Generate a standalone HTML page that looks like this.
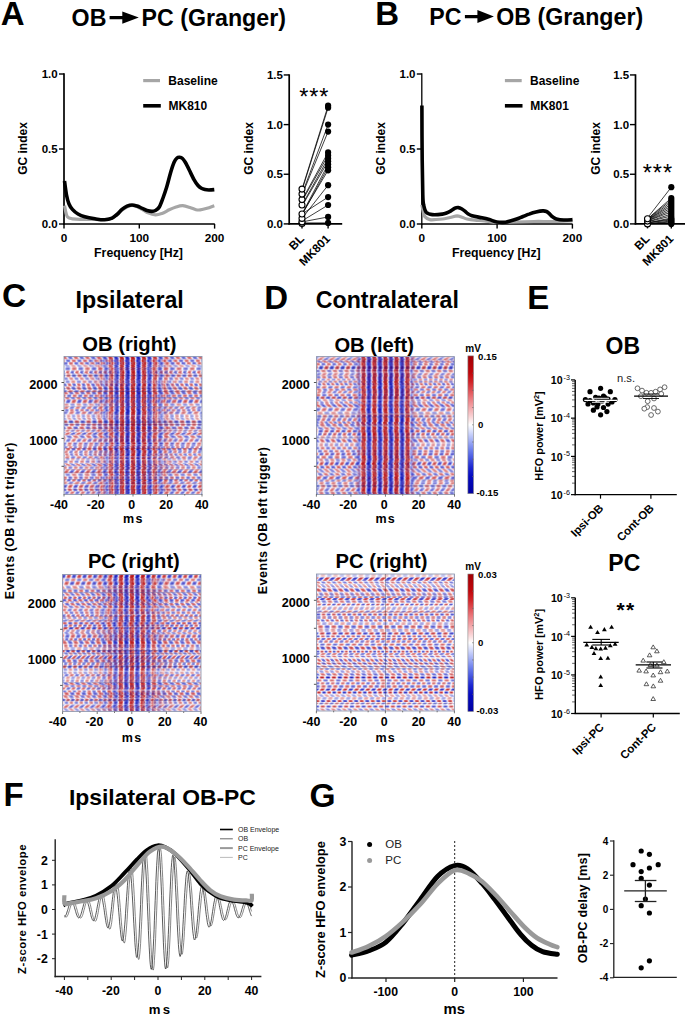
<!DOCTYPE html><html><head><meta charset="utf-8"><title>Figure</title><style>html,body{margin:0;padding:0;background:#fff;overflow:hidden}svg{display:block}</style></head><body><svg width="685" height="1016" viewBox="0 0 685 1016" font-family='"Liberation Sans", sans-serif' font-weight="bold">
<defs><filter id="blur" x="0" y="0" width="1" height="1"><feGaussianBlur stdDeviation="0.45"/></filter></defs>
<rect width="685" height="1016" fill="#fff"/>
<text x="0.8" y="25.2" font-size="33">A</text>
<text x="375.3" y="24.6" font-size="33">B</text>
<text x="2" y="307" font-size="33.5">C</text>
<text x="264.2" y="308.5" font-size="33">D</text>
<text x="527.2" y="309" font-size="33">E</text>
<text x="3.5" y="806" font-size="33">F</text>
<text x="309.5" y="807" font-size="33.5">G</text>
<text x="71.6" y="25.7" font-size="23.2">OB</text>
<path d="M109.6 15.90h12.70v-4.50l16.5 6.20l-16.5 6.20v-4.50h-12.70z" fill="#000"/>
<text x="141.6" y="25.7" font-size="23.2">PC (Granger)</text>
<text x="429.3" y="25.1" font-size="23.2">PC</text>
<path d="M464.9 14.90h12.50v-4.80l16.5 6.50l-16.5 6.50v-4.80h-12.50z" fill="#000"/>
<text x="496.3" y="25.1" font-size="23.2">OB (Granger)</text>
<line x1="64" y1="73.3" x2="64" y2="224.8" stroke="#000" stroke-width="1.7"/>
<line x1="59" y1="74" x2="64" y2="74" stroke="#000" stroke-width="1.4"/>
<text x="57.7" y="78" font-size="11.5" text-anchor="end">1.0</text>
<line x1="59" y1="149" x2="64" y2="149" stroke="#000" stroke-width="1.4"/>
<text x="57.7" y="153" font-size="11.5" text-anchor="end">0.5</text>
<line x1="59" y1="224" x2="64" y2="224" stroke="#000" stroke-width="1.4"/>
<text x="57.7" y="228" font-size="11.5" text-anchor="end">0.0</text>
<line x1="63.2" y1="224" x2="214.8" y2="224" stroke="#000" stroke-width="1.7"/>
<line x1="64.0" y1="224" x2="64.0" y2="228.6" stroke="#000" stroke-width="1.4"/>
<text x="64.0" y="241.7" font-size="11.8" text-anchor="middle">0</text>
<line x1="139.3" y1="224" x2="139.3" y2="228.6" stroke="#000" stroke-width="1.4"/>
<text x="139.3" y="241.7" font-size="11.8" text-anchor="middle">100</text>
<line x1="214.6" y1="224" x2="214.6" y2="228.6" stroke="#000" stroke-width="1.4"/>
<text x="214.6" y="241.7" font-size="11.8" text-anchor="middle">200</text>
<text x="138.5" y="256.7" font-size="12.3" text-anchor="middle">Frequency [Hz]</text>
<text x="26.799999999999997" y="148.5" font-size="12" text-anchor="middle" transform="rotate(-90 26.799999999999997 148.5)">GC index</text>
<line x1="143.2" y1="80.6" x2="160" y2="80.6" stroke="#a6a6a6" stroke-width="3.2"/>
<text x="168.3" y="84.6" font-size="12">Baseline</text>
<line x1="143.2" y1="105.8" x2="160.8" y2="105.8" stroke="#000" stroke-width="3.6"/>
<text x="168.5" y="109.6" font-size="12">MK810</text>
<path d="M64.5 205.7C64.8 206.9 65.5 211.2 66.0 213.0C66.5 214.8 66.7 215.9 67.4 216.8C68.1 217.7 69.2 218.0 70.0 218.3C70.8 218.6 70.7 218.6 72.4 218.8C74.1 219.0 76.2 219.2 80.0 219.3C83.8 219.4 90.8 219.5 95.0 219.5C99.2 219.5 102.2 219.7 105.0 219.5C107.8 219.3 109.2 219.8 112.0 218.2C114.8 216.6 118.7 212.1 122.0 210.0C125.3 207.9 128.7 205.6 132.0 205.5C135.3 205.4 139.2 208.0 141.9 209.2C144.6 210.4 145.7 211.9 148.0 212.8C150.3 213.8 153.2 214.8 155.5 214.9C157.8 215.0 159.7 214.3 162.0 213.5C164.3 212.7 166.9 210.9 169.2 209.8C171.5 208.7 173.7 207.7 176.0 207.0C178.3 206.3 180.5 205.6 182.8 205.7C185.1 205.8 187.8 206.8 190.0 207.5C192.2 208.2 194.3 209.3 196.0 209.7C197.7 210.1 198.4 210.1 200.2 209.9C202.0 209.7 204.7 209.0 207.0 208.3C209.3 207.6 213.1 206.1 214.3 205.7" fill="none" stroke="#a6a6a6" stroke-width="3.2" stroke-linejoin="round"/>
<path d="M64.5 181.0C64.8 183.3 65.8 191.2 66.5 195.0C67.2 198.8 68.0 201.6 69.0 204.0C70.0 206.4 70.9 207.7 72.4 209.4C73.9 211.1 75.9 212.8 78.0 214.0C80.1 215.2 82.0 216.0 84.8 216.8C87.6 217.6 91.7 218.3 95.0 218.8C98.3 219.3 101.9 219.9 104.7 219.8C107.5 219.7 110.0 219.0 112.1 218.1C114.1 217.2 115.3 215.9 117.0 214.5C118.7 213.1 120.3 210.8 122.0 209.4C123.7 208.0 125.3 206.9 127.0 206.2C128.7 205.5 130.3 205.0 132.0 205.0C133.7 205.0 135.3 205.5 137.0 206.0C138.7 206.5 140.2 207.4 141.9 208.2C143.6 208.9 145.3 210.0 147.0 210.5C148.7 211.0 150.4 211.4 151.8 211.4C153.2 211.4 154.2 211.2 155.5 210.5C156.8 209.8 158.1 209.1 159.3 207.0C160.6 204.9 161.8 201.3 163.0 198.0C164.2 194.7 165.4 191.2 166.7 187.0C167.9 182.8 169.3 177.1 170.5 173.0C171.7 168.9 173.0 164.8 174.1 162.3C175.2 159.8 176.1 158.8 177.0 158.0C177.9 157.2 178.7 157.2 179.6 157.3C180.5 157.4 181.6 157.7 182.5 158.5C183.4 159.3 184.1 160.3 185.3 162.3C186.5 164.3 188.1 167.6 189.5 170.5C190.9 173.4 192.6 177.1 194.0 179.6C195.4 182.1 196.8 184.1 198.0 185.5C199.2 186.9 200.2 187.6 201.4 188.3C202.6 189.0 203.8 189.3 205.0 189.6C206.2 189.9 207.3 190.0 208.9 190.0C210.5 190.0 213.4 189.7 214.3 189.6" fill="none" stroke="#000" stroke-width="3.6" stroke-linejoin="round"/>
<line x1="421.8" y1="73.3" x2="421.8" y2="224.8" stroke="#000" stroke-width="1.3"/>
<line x1="416.8" y1="74" x2="421.8" y2="74" stroke="#000" stroke-width="1.4"/>
<text x="415.5" y="78" font-size="11.5" text-anchor="end">1.0</text>
<line x1="416.8" y1="149" x2="421.8" y2="149" stroke="#000" stroke-width="1.4"/>
<text x="415.5" y="153" font-size="11.5" text-anchor="end">0.5</text>
<line x1="416.8" y1="224" x2="421.8" y2="224" stroke="#000" stroke-width="1.4"/>
<text x="415.5" y="228" font-size="11.5" text-anchor="end">0.0</text>
<line x1="421.0" y1="224" x2="572.6" y2="224" stroke="#000" stroke-width="1.7"/>
<line x1="421.8" y1="224" x2="421.8" y2="228.6" stroke="#000" stroke-width="1.4"/>
<text x="421.8" y="241.7" font-size="11.8" text-anchor="middle">0</text>
<line x1="497.1" y1="224" x2="497.1" y2="228.6" stroke="#000" stroke-width="1.4"/>
<text x="497.1" y="241.7" font-size="11.8" text-anchor="middle">100</text>
<line x1="572.4" y1="224" x2="572.4" y2="228.6" stroke="#000" stroke-width="1.4"/>
<text x="572.4" y="241.7" font-size="11.8" text-anchor="middle">200</text>
<text x="496.3" y="256.7" font-size="12.3" text-anchor="middle">Frequency [Hz]</text>
<text x="384.6" y="148.5" font-size="12" text-anchor="middle" transform="rotate(-90 384.6 148.5)">GC index</text>
<line x1="504.9" y1="80.6" x2="521.6999999999999" y2="80.6" stroke="#a6a6a6" stroke-width="3.2"/>
<text x="530.0" y="84.6" font-size="12">Baseline</text>
<line x1="504.9" y1="105.8" x2="522.5" y2="105.8" stroke="#000" stroke-width="3.6"/>
<text x="530.1999999999999" y="109.6" font-size="12">MK801</text>
<path d="M421.9 204.7C422.1 205.9 422.8 210.0 423.3 212.0C423.8 214.0 423.8 215.3 424.9 216.6C426.0 217.9 428.0 219.1 429.9 219.6C431.8 220.1 433.9 219.6 436.0 219.5C438.1 219.4 440.0 219.3 442.3 219.0C444.6 218.7 447.5 218.0 450.0 217.5C452.5 217.0 455.1 215.9 457.1 215.8C459.1 215.8 460.4 216.7 462.0 217.2C463.6 217.7 464.8 218.5 467.0 219.0C469.2 219.5 472.1 219.9 475.0 220.2C477.9 220.5 480.8 220.4 484.4 220.8C488.0 221.2 491.8 222.3 496.8 222.5C501.8 222.7 508.0 222.2 514.2 222.0C520.4 221.8 527.4 221.6 534.0 221.5C540.6 221.4 547.6 221.6 554.0 221.5C560.4 221.4 569.4 220.9 572.5 220.8" fill="none" stroke="#a6a6a6" stroke-width="3.2" stroke-linejoin="round"/>
<path d="M421.9 105.5C421.9 114.6 422.0 145.1 422.2 160.0C422.4 174.9 422.6 187.6 422.8 195.0C423.0 202.4 423.1 201.8 423.6 204.7C424.2 207.5 424.7 210.4 426.1 212.1C427.6 213.8 429.6 214.3 432.3 214.6C435.0 214.9 439.9 214.4 442.3 214.1C444.7 213.8 445.1 213.5 446.5 213.0C447.9 212.5 449.5 211.7 450.9 210.9C452.3 210.1 453.8 208.8 455.0 208.2C456.2 207.6 457.3 207.5 458.4 207.6C459.5 207.7 460.5 208.2 461.5 208.8C462.5 209.4 463.5 210.1 464.6 210.9C465.7 211.7 466.8 213.0 468.0 213.8C469.2 214.6 469.7 215.1 472.0 215.8C474.3 216.5 479.1 217.2 482.0 217.8C484.9 218.4 486.9 218.9 489.4 219.6C491.9 220.3 494.1 221.6 496.8 222.0C499.5 222.4 503.1 222.4 505.5 222.2C507.9 222.0 509.1 221.3 511.0 220.8C512.9 220.3 514.7 219.7 516.7 219.0C518.7 218.3 520.9 217.3 523.0 216.5C525.1 215.7 526.9 214.8 529.1 214.1C531.3 213.3 533.7 212.5 536.0 212.0C538.3 211.5 541.0 211.0 542.8 210.9C544.5 210.8 545.5 211.1 546.5 211.5C547.5 211.9 548.0 212.4 549.0 213.3C550.0 214.2 551.3 215.9 552.5 216.8C553.7 217.8 554.5 218.5 556.4 219.0C558.3 219.5 561.1 219.9 563.8 220.0C566.5 220.1 571.0 219.7 572.5 219.6" fill="none" stroke="#000" stroke-width="3.6" stroke-linejoin="round"/>
<line x1="289.2" y1="74.3" x2="289.2" y2="224.5" stroke="#000" stroke-width="1.7"/>
<line x1="283.7" y1="74.95000000000002" x2="289.2" y2="74.95000000000002" stroke="#000" stroke-width="1.4"/>
<text x="282.9" y="78.95000000000002" font-size="11.5" text-anchor="end">1.5</text>
<line x1="283.7" y1="124.60000000000001" x2="289.2" y2="124.60000000000001" stroke="#000" stroke-width="1.4"/>
<text x="282.9" y="128.60000000000002" font-size="11.5" text-anchor="end">1.0</text>
<line x1="283.7" y1="174.25" x2="289.2" y2="174.25" stroke="#000" stroke-width="1.4"/>
<text x="282.9" y="178.25" font-size="11.5" text-anchor="end">0.5</text>
<line x1="283.7" y1="223.9" x2="289.2" y2="223.9" stroke="#000" stroke-width="1.4"/>
<text x="282.9" y="227.9" font-size="11.5" text-anchor="end">0.0</text>
<line x1="288.4" y1="223.9" x2="342.2" y2="223.9" stroke="#000" stroke-width="1.7"/>
<line x1="302" y1="223.9" x2="302" y2="228.4" stroke="#000" stroke-width="1.4"/>
<line x1="328.1" y1="223.9" x2="328.1" y2="228.4" stroke="#000" stroke-width="1.4"/>
<text x="252.6" y="148.5" font-size="12" text-anchor="middle" transform="rotate(-90 252.6 148.5)">GC index</text>
<text x="299.2" y="104.6" font-size="23.5" font-weight="normal" letter-spacing="0.9">***</text>
<line x1="302" y1="189.145" x2="328.1" y2="105.73300000000002" stroke="#000" stroke-width="0.75"/>
<line x1="302" y1="190.138" x2="328.1" y2="107.71900000000002" stroke="#000" stroke-width="0.75"/>
<line x1="302" y1="194.11" x2="328.1" y2="124.60000000000001" stroke="#000" stroke-width="0.75"/>
<line x1="302" y1="195.103" x2="328.1" y2="131.551" stroke="#000" stroke-width="0.75"/>
<line x1="302" y1="200.068" x2="328.1" y2="152.404" stroke="#000" stroke-width="0.75"/>
<line x1="302" y1="201.061" x2="328.1" y2="155.383" stroke="#000" stroke-width="0.75"/>
<line x1="302" y1="205.03300000000002" x2="328.1" y2="158.36200000000002" stroke="#000" stroke-width="0.75"/>
<line x1="302" y1="206.026" x2="328.1" y2="161.341" stroke="#000" stroke-width="0.75"/>
<line x1="302" y1="213.97" x2="328.1" y2="164.32" stroke="#000" stroke-width="0.75"/>
<line x1="302" y1="214.963" x2="328.1" y2="167.299" stroke="#000" stroke-width="0.75"/>
<line x1="302" y1="213.97" x2="328.1" y2="170.27800000000002" stroke="#000" stroke-width="0.75"/>
<line x1="302" y1="218.4385" x2="328.1" y2="185.173" stroke="#000" stroke-width="0.75"/>
<line x1="302" y1="213.97" x2="328.1" y2="197.089" stroke="#000" stroke-width="0.75"/>
<line x1="302" y1="220.921" x2="328.1" y2="205.03300000000002" stroke="#000" stroke-width="0.75"/>
<line x1="302" y1="221.91400000000002" x2="328.1" y2="216.949" stroke="#000" stroke-width="0.75"/>
<line x1="302" y1="222.907" x2="328.1" y2="222.907" stroke="#000" stroke-width="0.75"/>
<circle cx="328.1" cy="105.7" r="3.1" fill="#000"/>
<circle cx="328.1" cy="107.7" r="3.1" fill="#000"/>
<circle cx="328.1" cy="124.6" r="3.1" fill="#000"/>
<circle cx="328.1" cy="131.6" r="3.1" fill="#000"/>
<circle cx="328.1" cy="152.4" r="3.1" fill="#000"/>
<circle cx="328.1" cy="155.4" r="3.1" fill="#000"/>
<circle cx="328.1" cy="158.4" r="3.1" fill="#000"/>
<circle cx="328.1" cy="161.3" r="3.1" fill="#000"/>
<circle cx="328.1" cy="164.3" r="3.1" fill="#000"/>
<circle cx="328.1" cy="167.3" r="3.1" fill="#000"/>
<circle cx="328.1" cy="170.3" r="3.1" fill="#000"/>
<circle cx="328.1" cy="185.2" r="3.1" fill="#000"/>
<circle cx="328.1" cy="197.1" r="3.1" fill="#000"/>
<circle cx="328.1" cy="205.0" r="3.1" fill="#000"/>
<circle cx="328.1" cy="216.9" r="3.1" fill="#000"/>
<circle cx="328.1" cy="222.9" r="3.1" fill="#000"/>
<circle cx="302" cy="223.4" r="3.0" fill="#fff" stroke="#000" stroke-width="1.1"/>
<circle cx="302" cy="221.9" r="3.0" fill="#fff" stroke="#000" stroke-width="1.1"/>
<circle cx="302" cy="218.4" r="3.0" fill="#fff" stroke="#000" stroke-width="1.1"/>
<circle cx="302" cy="214.0" r="3.0" fill="#fff" stroke="#000" stroke-width="1.1"/>
<circle cx="302" cy="205.0" r="3.0" fill="#fff" stroke="#000" stroke-width="1.1"/>
<circle cx="302" cy="199.6" r="3.0" fill="#fff" stroke="#000" stroke-width="1.1"/>
<circle cx="302" cy="194.1" r="3.0" fill="#fff" stroke="#000" stroke-width="1.1"/>
<circle cx="302" cy="189.1" r="3.0" fill="#fff" stroke="#000" stroke-width="1.1"/>
<text x="304.8" y="239.5" font-size="11.8" text-anchor="end" transform="rotate(-45 304.8 239.5)">BL</text>
<text x="330.90000000000003" y="239.5" font-size="11.8" text-anchor="end" transform="rotate(-45 330.90000000000003 239.5)">MK801</text>
<line x1="635.5" y1="74.3" x2="635.5" y2="224.5" stroke="#000" stroke-width="1.7"/>
<line x1="630.0" y1="74.95000000000002" x2="635.5" y2="74.95000000000002" stroke="#000" stroke-width="1.4"/>
<text x="629.2" y="78.95000000000002" font-size="11.5" text-anchor="end">1.5</text>
<line x1="630.0" y1="124.60000000000001" x2="635.5" y2="124.60000000000001" stroke="#000" stroke-width="1.4"/>
<text x="629.2" y="128.60000000000002" font-size="11.5" text-anchor="end">1.0</text>
<line x1="630.0" y1="174.25" x2="635.5" y2="174.25" stroke="#000" stroke-width="1.4"/>
<text x="629.2" y="178.25" font-size="11.5" text-anchor="end">0.5</text>
<line x1="630.0" y1="223.9" x2="635.5" y2="223.9" stroke="#000" stroke-width="1.4"/>
<text x="629.2" y="227.9" font-size="11.5" text-anchor="end">0.0</text>
<line x1="634.7" y1="223.9" x2="688.5" y2="223.9" stroke="#000" stroke-width="1.7"/>
<line x1="647.5" y1="223.9" x2="647.5" y2="228.4" stroke="#000" stroke-width="1.4"/>
<line x1="671.3" y1="223.9" x2="671.3" y2="228.4" stroke="#000" stroke-width="1.4"/>
<text x="600.4" y="148.5" font-size="12" text-anchor="middle" transform="rotate(-90 600.4 148.5)">GC index</text>
<text x="642.8" y="180.8" font-size="23.5" font-weight="normal" letter-spacing="0.9">***</text>
<line x1="647.5" y1="217.942" x2="671.3" y2="187.159" stroke="#000" stroke-width="0.75"/>
<line x1="647.5" y1="218.935" x2="671.3" y2="198.082" stroke="#000" stroke-width="0.75"/>
<line x1="647.5" y1="218.935" x2="671.3" y2="200.068" stroke="#000" stroke-width="0.75"/>
<line x1="647.5" y1="219.4315" x2="671.3" y2="202.054" stroke="#000" stroke-width="0.75"/>
<line x1="647.5" y1="219.928" x2="671.3" y2="204.04000000000002" stroke="#000" stroke-width="0.75"/>
<line x1="647.5" y1="219.928" x2="671.3" y2="206.026" stroke="#000" stroke-width="0.75"/>
<line x1="647.5" y1="220.4245" x2="671.3" y2="208.012" stroke="#000" stroke-width="0.75"/>
<line x1="647.5" y1="220.921" x2="671.3" y2="209.998" stroke="#000" stroke-width="0.75"/>
<line x1="647.5" y1="220.921" x2="671.3" y2="211.984" stroke="#000" stroke-width="0.75"/>
<line x1="647.5" y1="221.91400000000002" x2="671.3" y2="213.97" stroke="#000" stroke-width="0.75"/>
<line x1="647.5" y1="221.91400000000002" x2="671.3" y2="215.95600000000002" stroke="#000" stroke-width="0.75"/>
<line x1="647.5" y1="222.907" x2="671.3" y2="217.942" stroke="#000" stroke-width="0.75"/>
<line x1="647.5" y1="222.907" x2="671.3" y2="218.935" stroke="#000" stroke-width="0.75"/>
<line x1="647.5" y1="222.907" x2="671.3" y2="219.928" stroke="#000" stroke-width="0.75"/>
<line x1="647.5" y1="223.9" x2="671.3" y2="220.921" stroke="#000" stroke-width="0.75"/>
<line x1="647.5" y1="223.9" x2="671.3" y2="221.91400000000002" stroke="#000" stroke-width="0.75"/>
<line x1="647.5" y1="223.9" x2="671.3" y2="222.907" stroke="#000" stroke-width="0.75"/>
<circle cx="671.3" cy="187.2" r="3.1" fill="#000"/>
<circle cx="671.3" cy="198.1" r="3.1" fill="#000"/>
<circle cx="671.3" cy="200.1" r="3.1" fill="#000"/>
<circle cx="671.3" cy="202.1" r="3.1" fill="#000"/>
<circle cx="671.3" cy="204.0" r="3.1" fill="#000"/>
<circle cx="671.3" cy="206.0" r="3.1" fill="#000"/>
<circle cx="671.3" cy="208.0" r="3.1" fill="#000"/>
<circle cx="671.3" cy="210.0" r="3.1" fill="#000"/>
<circle cx="671.3" cy="212.0" r="3.1" fill="#000"/>
<circle cx="671.3" cy="214.0" r="3.1" fill="#000"/>
<circle cx="671.3" cy="216.0" r="3.1" fill="#000"/>
<circle cx="671.3" cy="217.9" r="3.1" fill="#000"/>
<circle cx="671.3" cy="218.9" r="3.1" fill="#000"/>
<circle cx="671.3" cy="219.9" r="3.1" fill="#000"/>
<circle cx="671.3" cy="220.9" r="3.1" fill="#000"/>
<circle cx="671.3" cy="221.9" r="3.1" fill="#000"/>
<circle cx="671.3" cy="222.9" r="3.1" fill="#000"/>
<circle cx="671.3" cy="223.9" r="3.1" fill="#000"/>
<circle cx="647.5" cy="223.9" r="3.0" fill="#fff" stroke="#000" stroke-width="1.1"/>
<circle cx="647.5" cy="221.1" r="3.0" fill="#fff" stroke="#000" stroke-width="1.1"/>
<circle cx="647.5" cy="218.7" r="3.0" fill="#fff" stroke="#000" stroke-width="1.1"/>
<text x="650.3" y="239.5" font-size="11.8" text-anchor="end" transform="rotate(-45 650.3 239.5)">BL</text>
<text x="674.0999999999999" y="239.5" font-size="11.8" text-anchor="end" transform="rotate(-45 674.0999999999999 239.5)">MK801</text>
<text x="75.5" y="307.8" font-size="23.2">Ipsilateral</text>
<text x="315.8" y="308.3" font-size="23.2">Contralateral</text>
<text x="82.3" y="350.6" font-size="20.2">OB (right)</text>
<text x="87.9" y="568.2" font-size="20.2">PC (right)</text>
<text x="334.4" y="351.7" font-size="20.2">OB (left)</text>
<text x="335.5" y="568.4" font-size="20.2">PC (right)</text>
<defs><linearGradient id="n1"><stop offset="0.000" stop-color="#a70106"/><stop offset="0.031" stop-color="#aa0207"/><stop offset="0.062" stop-color="#b30408"/><stop offset="0.094" stop-color="#c2070b"/><stop offset="0.125" stop-color="#d32a2e"/><stop offset="0.156" stop-color="#e66469"/><stop offset="0.188" stop-color="#f29ea2"/><stop offset="0.219" stop-color="#fad5d7"/><stop offset="0.250" stop-color="#ffffff"/><stop offset="0.281" stop-color="#d2d9fb"/><stop offset="0.312" stop-color="#92a1f3"/><stop offset="0.344" stop-color="#5264e6"/><stop offset="0.375" stop-color="#212cd3"/><stop offset="0.406" stop-color="#040ac2"/><stop offset="0.438" stop-color="#0206b3"/><stop offset="0.469" stop-color="#0103aa"/><stop offset="0.500" stop-color="#0102a7"/><stop offset="0.531" stop-color="#0103aa"/><stop offset="0.562" stop-color="#0206b3"/><stop offset="0.594" stop-color="#040ac2"/><stop offset="0.625" stop-color="#212cd3"/><stop offset="0.656" stop-color="#5264e6"/><stop offset="0.688" stop-color="#92a1f3"/><stop offset="0.719" stop-color="#d2d9fb"/><stop offset="0.750" stop-color="#ffffff"/><stop offset="0.781" stop-color="#fad5d7"/><stop offset="0.812" stop-color="#f29ea2"/><stop offset="0.844" stop-color="#e66469"/><stop offset="0.875" stop-color="#d32a2e"/><stop offset="0.906" stop-color="#c2070b"/><stop offset="0.938" stop-color="#b30408"/><stop offset="0.969" stop-color="#aa0207"/><stop offset="1.000" stop-color="#a70106"/></linearGradient><pattern id="p1_0" width="11.0" height="1" patternUnits="userSpaceOnUse" patternTransform="matrix(1.030 0 0 1 79.44 0)"><rect width="11.0" height="1" fill="url(#n1)"/></pattern><pattern id="p1_1" width="11.0" height="1" patternUnits="userSpaceOnUse" patternTransform="matrix(1.030 0 0 1 79.93 0)"><rect width="11.0" height="1" fill="url(#n1)"/></pattern><pattern id="p1_2" width="11.0" height="1" patternUnits="userSpaceOnUse" patternTransform="matrix(1.030 0 0 1 69.42 0)"><rect width="11.0" height="1" fill="url(#n1)"/></pattern><pattern id="p1_3" width="11.0" height="1" patternUnits="userSpaceOnUse" patternTransform="matrix(1.026 0 0 1 77.29 0)"><rect width="11.0" height="1" fill="url(#n1)"/></pattern><pattern id="p1_4" width="11.0" height="1" patternUnits="userSpaceOnUse" patternTransform="matrix(1.026 0 0 1 77.51 0)"><rect width="11.0" height="1" fill="url(#n1)"/></pattern><pattern id="p1_5" width="11.0" height="1" patternUnits="userSpaceOnUse" patternTransform="matrix(1.026 0 0 1 77.73 0)"><rect width="11.0" height="1" fill="url(#n1)"/></pattern><pattern id="p1_6" width="11.0" height="1" patternUnits="userSpaceOnUse" patternTransform="matrix(0.974 0 0 1 71.24 0)"><rect width="11.0" height="1" fill="url(#n1)"/></pattern><pattern id="p1_7" width="11.0" height="1" patternUnits="userSpaceOnUse" patternTransform="matrix(0.974 0 0 1 71.26 0)"><rect width="11.0" height="1" fill="url(#n1)"/></pattern><pattern id="p1_8" width="11.0" height="1" patternUnits="userSpaceOnUse" patternTransform="matrix(1.091 0 0 1 79.58 0)"><rect width="11.0" height="1" fill="url(#n1)"/></pattern><pattern id="p1_9" width="11.0" height="1" patternUnits="userSpaceOnUse" patternTransform="matrix(1.091 0 0 1 69.35 0)"><rect width="11.0" height="1" fill="url(#n1)"/></pattern><pattern id="p1_10" width="11.0" height="1" patternUnits="userSpaceOnUse" patternTransform="matrix(1.091 0 0 1 70.13 0)"><rect width="11.0" height="1" fill="url(#n1)"/></pattern><pattern id="p1_11" width="11.0" height="1" patternUnits="userSpaceOnUse" patternTransform="matrix(1.191 0 0 1 75.86 0)"><rect width="11.0" height="1" fill="url(#n1)"/></pattern><pattern id="p1_12" width="11.0" height="1" patternUnits="userSpaceOnUse" patternTransform="matrix(1.191 0 0 1 75.78 0)"><rect width="11.0" height="1" fill="url(#n1)"/></pattern><pattern id="p1_13" width="11.0" height="1" patternUnits="userSpaceOnUse" patternTransform="matrix(1.191 0 0 1 75.71 0)"><rect width="11.0" height="1" fill="url(#n1)"/></pattern><pattern id="p1_14" width="11.0" height="1" patternUnits="userSpaceOnUse" patternTransform="matrix(0.852 0 0 1 69.69 0)"><rect width="11.0" height="1" fill="url(#n1)"/></pattern><pattern id="p1_15" width="11.0" height="1" patternUnits="userSpaceOnUse" patternTransform="matrix(0.852 0 0 1 69.38 0)"><rect width="11.0" height="1" fill="url(#n1)"/></pattern><pattern id="p1_16" width="11.0" height="1" patternUnits="userSpaceOnUse" patternTransform="matrix(0.852 0 0 1 69.07 0)"><rect width="11.0" height="1" fill="url(#n1)"/></pattern><pattern id="p1_17" width="11.0" height="1" patternUnits="userSpaceOnUse" patternTransform="matrix(0.852 0 0 1 79.76 0)"><rect width="11.0" height="1" fill="url(#n1)"/></pattern><pattern id="p1_18" width="11.0" height="1" patternUnits="userSpaceOnUse" patternTransform="matrix(1.003 0 0 1 70.63 0)"><rect width="11.0" height="1" fill="url(#n1)"/></pattern><pattern id="p1_19" width="11.0" height="1" patternUnits="userSpaceOnUse" patternTransform="matrix(1.003 0 0 1 70.68 0)"><rect width="11.0" height="1" fill="url(#n1)"/></pattern><pattern id="p1_20" width="11.0" height="1" patternUnits="userSpaceOnUse" patternTransform="matrix(1.003 0 0 1 70.74 0)"><rect width="11.0" height="1" fill="url(#n1)"/></pattern><pattern id="p1_21" width="11.0" height="1" patternUnits="userSpaceOnUse" patternTransform="matrix(0.955 0 0 1 69.90 0)"><rect width="11.0" height="1" fill="url(#n1)"/></pattern><pattern id="p1_22" width="11.0" height="1" patternUnits="userSpaceOnUse" patternTransform="matrix(0.955 0 0 1 70.34 0)"><rect width="11.0" height="1" fill="url(#n1)"/></pattern><pattern id="p1_23" width="11.0" height="1" patternUnits="userSpaceOnUse" patternTransform="matrix(0.955 0 0 1 70.78 0)"><rect width="11.0" height="1" fill="url(#n1)"/></pattern><pattern id="p1_24" width="11.0" height="1" patternUnits="userSpaceOnUse" patternTransform="matrix(1.025 0 0 1 76.92 0)"><rect width="11.0" height="1" fill="url(#n1)"/></pattern><pattern id="p1_25" width="11.0" height="1" patternUnits="userSpaceOnUse" patternTransform="matrix(1.025 0 0 1 76.95 0)"><rect width="11.0" height="1" fill="url(#n1)"/></pattern><pattern id="p1_26" width="11.0" height="1" patternUnits="userSpaceOnUse" patternTransform="matrix(1.025 0 0 1 76.98 0)"><rect width="11.0" height="1" fill="url(#n1)"/></pattern><pattern id="p1_27" width="11.0" height="1" patternUnits="userSpaceOnUse" patternTransform="matrix(0.852 0 0 1 70.66 0)"><rect width="11.0" height="1" fill="url(#n1)"/></pattern><pattern id="p1_28" width="11.0" height="1" patternUnits="userSpaceOnUse" patternTransform="matrix(0.852 0 0 1 71.11 0)"><rect width="11.0" height="1" fill="url(#n1)"/></pattern><pattern id="p1_29" width="11.0" height="1" patternUnits="userSpaceOnUse" patternTransform="matrix(0.852 0 0 1 71.57 0)"><rect width="11.0" height="1" fill="url(#n1)"/></pattern><pattern id="p1_30" width="11.0" height="1" patternUnits="userSpaceOnUse" patternTransform="matrix(0.969 0 0 1 78.10 0)"><rect width="11.0" height="1" fill="url(#n1)"/></pattern><pattern id="p1_31" width="11.0" height="1" patternUnits="userSpaceOnUse" patternTransform="matrix(0.969 0 0 1 78.63 0)"><rect width="11.0" height="1" fill="url(#n1)"/></pattern><pattern id="p1_32" width="11.0" height="1" patternUnits="userSpaceOnUse" patternTransform="matrix(0.969 0 0 1 79.17 0)"><rect width="11.0" height="1" fill="url(#n1)"/></pattern><pattern id="p1_33" width="11.0" height="1" patternUnits="userSpaceOnUse" patternTransform="matrix(0.969 0 0 1 79.71 0)"><rect width="11.0" height="1" fill="url(#n1)"/></pattern><pattern id="p1_34" width="11.0" height="1" patternUnits="userSpaceOnUse" patternTransform="matrix(1.080 0 0 1 78.08 0)"><rect width="11.0" height="1" fill="url(#n1)"/></pattern><pattern id="p1_35" width="11.0" height="1" patternUnits="userSpaceOnUse" patternTransform="matrix(1.080 0 0 1 77.36 0)"><rect width="11.0" height="1" fill="url(#n1)"/></pattern><pattern id="p1_36" width="11.0" height="1" patternUnits="userSpaceOnUse" patternTransform="matrix(1.023 0 0 1 69.06 0)"><rect width="11.0" height="1" fill="url(#n1)"/></pattern><pattern id="p1_37" width="11.0" height="1" patternUnits="userSpaceOnUse" patternTransform="matrix(1.023 0 0 1 69.59 0)"><rect width="11.0" height="1" fill="url(#n1)"/></pattern><pattern id="p1_38" width="11.0" height="1" patternUnits="userSpaceOnUse" patternTransform="matrix(1.003 0 0 1 76.98 0)"><rect width="11.0" height="1" fill="url(#n1)"/></pattern><pattern id="p1_39" width="11.0" height="1" patternUnits="userSpaceOnUse" patternTransform="matrix(1.003 0 0 1 76.90 0)"><rect width="11.0" height="1" fill="url(#n1)"/></pattern><pattern id="p1_40" width="11.0" height="1" patternUnits="userSpaceOnUse" patternTransform="matrix(1.003 0 0 1 76.81 0)"><rect width="11.0" height="1" fill="url(#n1)"/></pattern><pattern id="p1_41" width="11.0" height="1" patternUnits="userSpaceOnUse" patternTransform="matrix(1.034 0 0 1 71.16 0)"><rect width="11.0" height="1" fill="url(#n1)"/></pattern><pattern id="p1_42" width="11.0" height="1" patternUnits="userSpaceOnUse" patternTransform="matrix(1.034 0 0 1 71.89 0)"><rect width="11.0" height="1" fill="url(#n1)"/></pattern><pattern id="p1_43" width="11.0" height="1" patternUnits="userSpaceOnUse" patternTransform="matrix(1.013 0 0 1 77.39 0)"><rect width="11.0" height="1" fill="url(#n1)"/></pattern><pattern id="p1_44" width="11.0" height="1" patternUnits="userSpaceOnUse" patternTransform="matrix(1.013 0 0 1 76.98 0)"><rect width="11.0" height="1" fill="url(#n1)"/></pattern><pattern id="p1_45" width="11.0" height="1" patternUnits="userSpaceOnUse" patternTransform="matrix(1.013 0 0 1 76.57 0)"><rect width="11.0" height="1" fill="url(#n1)"/></pattern><pattern id="p1_46" width="11.0" height="1" patternUnits="userSpaceOnUse" patternTransform="matrix(1.013 0 0 1 76.15 0)"><rect width="11.0" height="1" fill="url(#n1)"/></pattern><pattern id="p1_47" width="11.0" height="1" patternUnits="userSpaceOnUse" patternTransform="matrix(1.137 0 0 1 76.99 0)"><rect width="11.0" height="1" fill="url(#n1)"/></pattern><pattern id="p1_48" width="11.0" height="1" patternUnits="userSpaceOnUse" patternTransform="matrix(1.137 0 0 1 77.39 0)"><rect width="11.0" height="1" fill="url(#n1)"/></pattern><pattern id="p1_49" width="11.0" height="1" patternUnits="userSpaceOnUse" patternTransform="matrix(1.137 0 0 1 77.79 0)"><rect width="11.0" height="1" fill="url(#n1)"/></pattern><pattern id="p1_50" width="11.0" height="1" patternUnits="userSpaceOnUse" patternTransform="matrix(1.053 0 0 1 72.46 0)"><rect width="11.0" height="1" fill="url(#n1)"/></pattern><pattern id="p1_51" width="11.0" height="1" patternUnits="userSpaceOnUse" patternTransform="matrix(1.053 0 0 1 71.71 0)"><rect width="11.0" height="1" fill="url(#n1)"/></pattern><pattern id="p1_52" width="11.0" height="1" patternUnits="userSpaceOnUse" patternTransform="matrix(1.053 0 0 1 70.95 0)"><rect width="11.0" height="1" fill="url(#n1)"/></pattern><pattern id="p1_53" width="11.0" height="1" patternUnits="userSpaceOnUse" patternTransform="matrix(0.924 0 0 1 79.09 0)"><rect width="11.0" height="1" fill="url(#n1)"/></pattern><pattern id="p1_54" width="11.0" height="1" patternUnits="userSpaceOnUse" patternTransform="matrix(0.924 0 0 1 78.99 0)"><rect width="11.0" height="1" fill="url(#n1)"/></pattern><pattern id="p1_55" width="11.0" height="1" patternUnits="userSpaceOnUse" patternTransform="matrix(1.131 0 0 1 70.46 0)"><rect width="11.0" height="1" fill="url(#n1)"/></pattern><pattern id="p1_56" width="11.0" height="1" patternUnits="userSpaceOnUse" patternTransform="matrix(1.131 0 0 1 69.80 0)"><rect width="11.0" height="1" fill="url(#n1)"/></pattern><pattern id="p1_57" width="11.0" height="1" patternUnits="userSpaceOnUse" patternTransform="matrix(1.131 0 0 1 69.15 0)"><rect width="11.0" height="1" fill="url(#n1)"/></pattern><pattern id="p1_58" width="11.0" height="1" patternUnits="userSpaceOnUse" patternTransform="matrix(0.896 0 0 1 73.42 0)"><rect width="11.0" height="1" fill="url(#n1)"/></pattern><pattern id="p1_59" width="11.0" height="1" patternUnits="userSpaceOnUse" patternTransform="matrix(0.896 0 0 1 73.59 0)"><rect width="11.0" height="1" fill="url(#n1)"/></pattern><pattern id="p1_60" width="11.0" height="1" patternUnits="userSpaceOnUse" patternTransform="matrix(0.896 0 0 1 73.76 0)"><rect width="11.0" height="1" fill="url(#n1)"/></pattern><pattern id="p1_61" width="11.0" height="1" patternUnits="userSpaceOnUse" patternTransform="matrix(0.894 0 0 1 73.29 0)"><rect width="11.0" height="1" fill="url(#n1)"/></pattern><pattern id="p1_62" width="11.0" height="1" patternUnits="userSpaceOnUse" patternTransform="matrix(0.894 0 0 1 74.27 0)"><rect width="11.0" height="1" fill="url(#n1)"/></pattern><pattern id="p1_63" width="11.0" height="1" patternUnits="userSpaceOnUse" patternTransform="matrix(0.894 0 0 1 75.24 0)"><rect width="11.0" height="1" fill="url(#n1)"/></pattern><pattern id="p1_64" width="11.0" height="1" patternUnits="userSpaceOnUse" patternTransform="matrix(1.063 0 0 1 71.21 0)"><rect width="11.0" height="1" fill="url(#n1)"/></pattern><pattern id="p1_65" width="11.0" height="1" patternUnits="userSpaceOnUse" patternTransform="matrix(1.063 0 0 1 71.35 0)"><rect width="11.0" height="1" fill="url(#n1)"/></pattern><pattern id="p1_66" width="11.0" height="1" patternUnits="userSpaceOnUse" patternTransform="matrix(1.063 0 0 1 71.49 0)"><rect width="11.0" height="1" fill="url(#n1)"/></pattern><pattern id="p1_67" width="11.0" height="1" patternUnits="userSpaceOnUse" patternTransform="matrix(1.010 0 0 1 74.54 0)"><rect width="11.0" height="1" fill="url(#n1)"/></pattern><pattern id="p1_68" width="11.0" height="1" patternUnits="userSpaceOnUse" patternTransform="matrix(1.010 0 0 1 74.50 0)"><rect width="11.0" height="1" fill="url(#n1)"/></pattern><pattern id="p1_69" width="11.0" height="1" patternUnits="userSpaceOnUse" patternTransform="matrix(1.010 0 0 1 74.45 0)"><rect width="11.0" height="1" fill="url(#n1)"/></pattern><pattern id="p1_70" width="11.0" height="1" patternUnits="userSpaceOnUse" patternTransform="matrix(1.119 0 0 1 78.96 0)"><rect width="11.0" height="1" fill="url(#n1)"/></pattern><pattern id="p1_71" width="11.0" height="1" patternUnits="userSpaceOnUse" patternTransform="matrix(1.119 0 0 1 79.34 0)"><rect width="11.0" height="1" fill="url(#n1)"/></pattern><pattern id="p1_72" width="11.0" height="1" patternUnits="userSpaceOnUse" patternTransform="matrix(1.119 0 0 1 79.72 0)"><rect width="11.0" height="1" fill="url(#n1)"/></pattern><pattern id="p1_73" width="11.0" height="1" patternUnits="userSpaceOnUse" patternTransform="matrix(0.930 0 0 1 75.93 0)"><rect width="11.0" height="1" fill="url(#n1)"/></pattern><pattern id="p1_74" width="11.0" height="1" patternUnits="userSpaceOnUse" patternTransform="matrix(0.930 0 0 1 75.25 0)"><rect width="11.0" height="1" fill="url(#n1)"/></pattern><pattern id="p1_75" width="11.0" height="1" patternUnits="userSpaceOnUse" patternTransform="matrix(0.930 0 0 1 74.57 0)"><rect width="11.0" height="1" fill="url(#n1)"/></pattern><pattern id="p1_76" width="11.0" height="1" patternUnits="userSpaceOnUse" patternTransform="matrix(1.004 0 0 1 71.45 0)"><rect width="11.0" height="1" fill="url(#n1)"/></pattern><pattern id="p1_77" width="11.0" height="1" patternUnits="userSpaceOnUse" patternTransform="matrix(1.004 0 0 1 69.82 0)"><rect width="11.0" height="1" fill="url(#n1)"/></pattern><pattern id="p1_78" width="11.0" height="1" patternUnits="userSpaceOnUse" patternTransform="matrix(1.004 0 0 1 79.19 0)"><rect width="11.0" height="1" fill="url(#n1)"/></pattern><pattern id="p1_79" width="11.0" height="1" patternUnits="userSpaceOnUse" patternTransform="matrix(1.182 0 0 1 75.62 0)"><rect width="11.0" height="1" fill="url(#n1)"/></pattern><pattern id="p1_80" width="11.0" height="1" patternUnits="userSpaceOnUse" patternTransform="matrix(1.182 0 0 1 76.72 0)"><rect width="11.0" height="1" fill="url(#n1)"/></pattern><pattern id="p1_81" width="11.0" height="1" patternUnits="userSpaceOnUse" patternTransform="matrix(1.182 0 0 1 77.81 0)"><rect width="11.0" height="1" fill="url(#n1)"/></pattern><pattern id="p1_82" width="11.0" height="1" patternUnits="userSpaceOnUse" patternTransform="matrix(0.973 0 0 1 74.82 0)"><rect width="11.0" height="1" fill="url(#n1)"/></pattern><pattern id="p1_83" width="11.0" height="1" patternUnits="userSpaceOnUse" patternTransform="matrix(0.973 0 0 1 74.24 0)"><rect width="11.0" height="1" fill="url(#n1)"/></pattern><pattern id="p1_84" width="11.0" height="1" patternUnits="userSpaceOnUse" patternTransform="matrix(0.973 0 0 1 73.66 0)"><rect width="11.0" height="1" fill="url(#n1)"/></pattern><pattern id="p1_85" width="11.0" height="1" patternUnits="userSpaceOnUse" patternTransform="matrix(0.973 0 0 1 73.08 0)"><rect width="11.0" height="1" fill="url(#n1)"/></pattern><pattern id="p1_86" width="11.0" height="1" patternUnits="userSpaceOnUse" patternTransform="matrix(0.981 0 0 1 70.70 0)"><rect width="11.0" height="1" fill="url(#n1)"/></pattern><pattern id="p1_87" width="11.0" height="1" patternUnits="userSpaceOnUse" patternTransform="matrix(0.981 0 0 1 70.44 0)"><rect width="11.0" height="1" fill="url(#n1)"/></pattern><pattern id="p1_88" width="11.0" height="1" patternUnits="userSpaceOnUse" patternTransform="matrix(0.981 0 0 1 70.17 0)"><rect width="11.0" height="1" fill="url(#n1)"/></pattern><pattern id="p1_89" width="11.0" height="1" patternUnits="userSpaceOnUse" patternTransform="matrix(0.981 0 0 1 69.91 0)"><rect width="11.0" height="1" fill="url(#n1)"/></pattern><pattern id="p1_90" width="11.0" height="1" patternUnits="userSpaceOnUse" patternTransform="matrix(0.886 0 0 1 74.91 0)"><rect width="11.0" height="1" fill="url(#n1)"/></pattern><pattern id="p1_91" width="11.0" height="1" patternUnits="userSpaceOnUse" patternTransform="matrix(0.886 0 0 1 74.59 0)"><rect width="11.0" height="1" fill="url(#n1)"/></pattern><pattern id="p1_92" width="11.0" height="1" patternUnits="userSpaceOnUse" patternTransform="matrix(0.964 0 0 1 78.30 0)"><rect width="11.0" height="1" fill="url(#n1)"/></pattern><pattern id="p1_93" width="11.0" height="1" patternUnits="userSpaceOnUse" patternTransform="matrix(0.964 0 0 1 78.54 0)"><rect width="11.0" height="1" fill="url(#n1)"/></pattern><pattern id="p1_94" width="11.0" height="1" patternUnits="userSpaceOnUse" patternTransform="matrix(0.899 0 0 1 71.86 0)"><rect width="11.0" height="1" fill="url(#n1)"/></pattern><pattern id="p1_95" width="11.0" height="1" patternUnits="userSpaceOnUse" patternTransform="matrix(0.899 0 0 1 71.44 0)"><rect width="11.0" height="1" fill="url(#n1)"/></pattern><pattern id="p1_96" width="11.0" height="1" patternUnits="userSpaceOnUse" patternTransform="matrix(0.899 0 0 1 71.02 0)"><rect width="11.0" height="1" fill="url(#n1)"/></pattern><pattern id="p1_97" width="11.0" height="1" patternUnits="userSpaceOnUse" patternTransform="matrix(0.861 0 0 1 69.37 0)"><rect width="11.0" height="1" fill="url(#n1)"/></pattern><pattern id="p1_98" width="11.0" height="1" patternUnits="userSpaceOnUse" patternTransform="matrix(0.861 0 0 1 69.01 0)"><rect width="11.0" height="1" fill="url(#n1)"/></pattern><pattern id="p1_99" width="11.0" height="1" patternUnits="userSpaceOnUse" patternTransform="matrix(0.861 0 0 1 79.65 0)"><rect width="11.0" height="1" fill="url(#n1)"/></pattern><pattern id="p1_100" width="11.0" height="1" patternUnits="userSpaceOnUse" patternTransform="matrix(1.061 0 0 1 73.56 0)"><rect width="11.0" height="1" fill="url(#n1)"/></pattern><pattern id="p1_101" width="11.0" height="1" patternUnits="userSpaceOnUse" patternTransform="matrix(1.061 0 0 1 73.11 0)"><rect width="11.0" height="1" fill="url(#n1)"/></pattern><pattern id="p1_102" width="11.0" height="1" patternUnits="userSpaceOnUse" patternTransform="matrix(0.922 0 0 1 69.68 0)"><rect width="11.0" height="1" fill="url(#n1)"/></pattern><pattern id="p1_103" width="11.0" height="1" patternUnits="userSpaceOnUse" patternTransform="matrix(0.922 0 0 1 69.54 0)"><rect width="11.0" height="1" fill="url(#n1)"/></pattern><pattern id="p1_104" width="11.0" height="1" patternUnits="userSpaceOnUse" patternTransform="matrix(0.995 0 0 1 72.73 0)"><rect width="11.0" height="1" fill="url(#n1)"/></pattern><pattern id="p1_105" width="11.0" height="1" patternUnits="userSpaceOnUse" patternTransform="matrix(0.995 0 0 1 72.75 0)"><rect width="11.0" height="1" fill="url(#n1)"/></pattern><pattern id="p1_106" width="11.0" height="1" patternUnits="userSpaceOnUse" patternTransform="matrix(0.995 0 0 1 72.76 0)"><rect width="11.0" height="1" fill="url(#n1)"/></pattern><pattern id="p1_107" width="11.0" height="1" patternUnits="userSpaceOnUse" patternTransform="matrix(0.937 0 0 1 74.13 0)"><rect width="11.0" height="1" fill="url(#n1)"/></pattern><pattern id="p1_108" width="11.0" height="1" patternUnits="userSpaceOnUse" patternTransform="matrix(0.937 0 0 1 75.99 0)"><rect width="11.0" height="1" fill="url(#n1)"/></pattern><pattern id="p1_109" width="11.0" height="1" patternUnits="userSpaceOnUse" patternTransform="matrix(0.937 0 0 1 77.85 0)"><rect width="11.0" height="1" fill="url(#n1)"/></pattern><pattern id="p1_110" width="11.0" height="1" patternUnits="userSpaceOnUse" patternTransform="matrix(0.975 0 0 1 76.37 0)"><rect width="11.0" height="1" fill="url(#n1)"/></pattern><pattern id="p1_111" width="11.0" height="1" patternUnits="userSpaceOnUse" patternTransform="matrix(0.975 0 0 1 76.10 0)"><rect width="11.0" height="1" fill="url(#n1)"/></pattern><pattern id="p1_112" width="11.0" height="1" patternUnits="userSpaceOnUse" patternTransform="matrix(0.975 0 0 1 75.83 0)"><rect width="11.0" height="1" fill="url(#n1)"/></pattern><pattern id="p1_113" width="11.0" height="1" patternUnits="userSpaceOnUse" patternTransform="matrix(0.980 0 0 1 79.42 0)"><rect width="11.0" height="1" fill="url(#n1)"/></pattern><pattern id="p1_114" width="11.0" height="1" patternUnits="userSpaceOnUse" patternTransform="matrix(0.980 0 0 1 78.58 0)"><rect width="11.0" height="1" fill="url(#n1)"/></pattern><pattern id="p1_115" width="11.0" height="1" patternUnits="userSpaceOnUse" patternTransform="matrix(0.980 0 0 1 77.75 0)"><rect width="11.0" height="1" fill="url(#n1)"/></pattern><pattern id="p1_116" width="11.0" height="1" patternUnits="userSpaceOnUse" patternTransform="matrix(0.980 0 0 1 76.91 0)"><rect width="11.0" height="1" fill="url(#n1)"/></pattern><pattern id="p1_117" width="11.0" height="1" patternUnits="userSpaceOnUse" patternTransform="matrix(1.161 0 0 1 73.67 0)"><rect width="11.0" height="1" fill="url(#n1)"/></pattern><pattern id="p1_118" width="11.0" height="1" patternUnits="userSpaceOnUse" patternTransform="matrix(1.161 0 0 1 74.07 0)"><rect width="11.0" height="1" fill="url(#n1)"/></pattern><pattern id="p1_119" width="11.0" height="1" patternUnits="userSpaceOnUse" patternTransform="matrix(1.161 0 0 1 74.47 0)"><rect width="11.0" height="1" fill="url(#n1)"/></pattern><pattern id="p1_120" width="11.0" height="1" patternUnits="userSpaceOnUse" patternTransform="matrix(0.974 0 0 1 75.82 0)"><rect width="11.0" height="1" fill="url(#n1)"/></pattern><pattern id="p1_121" width="11.0" height="1" patternUnits="userSpaceOnUse" patternTransform="matrix(0.974 0 0 1 75.91 0)"><rect width="11.0" height="1" fill="url(#n1)"/></pattern><pattern id="p1_122" width="11.0" height="1" patternUnits="userSpaceOnUse" patternTransform="matrix(0.974 0 0 1 75.99 0)"><rect width="11.0" height="1" fill="url(#n1)"/></pattern><pattern id="p1_123" width="11.0" height="1" patternUnits="userSpaceOnUse" patternTransform="matrix(0.927 0 0 1 71.33 0)"><rect width="11.0" height="1" fill="url(#n1)"/></pattern><pattern id="p1_124" width="11.0" height="1" patternUnits="userSpaceOnUse" patternTransform="matrix(0.927 0 0 1 70.95 0)"><rect width="11.0" height="1" fill="url(#n1)"/></pattern><pattern id="p1_125" width="11.0" height="1" patternUnits="userSpaceOnUse" patternTransform="matrix(1.125 0 0 1 76.04 0)"><rect width="11.0" height="1" fill="url(#n1)"/></pattern><pattern id="p1_126" width="11.0" height="1" patternUnits="userSpaceOnUse" patternTransform="matrix(1.125 0 0 1 75.04 0)"><rect width="11.0" height="1" fill="url(#n1)"/></pattern><pattern id="p1_127" width="11.0" height="1" patternUnits="userSpaceOnUse" patternTransform="matrix(1.125 0 0 1 74.04 0)"><rect width="11.0" height="1" fill="url(#n1)"/></pattern><pattern id="p1_128" width="11.0" height="1" patternUnits="userSpaceOnUse" patternTransform="matrix(0.983 0 0 1 72.11 0)"><rect width="11.0" height="1" fill="url(#n1)"/></pattern><pattern id="p1_129" width="11.0" height="1" patternUnits="userSpaceOnUse" patternTransform="matrix(0.983 0 0 1 71.56 0)"><rect width="11.0" height="1" fill="url(#n1)"/></pattern><pattern id="p1_130" width="11.0" height="1" patternUnits="userSpaceOnUse" patternTransform="matrix(0.983 0 0 1 71.01 0)"><rect width="11.0" height="1" fill="url(#n1)"/></pattern><pattern id="p1_131" width="11.0" height="1" patternUnits="userSpaceOnUse" patternTransform="matrix(0.983 0 0 1 70.46 0)"><rect width="11.0" height="1" fill="url(#n1)"/></pattern><pattern id="p1_132" width="11.0" height="1" patternUnits="userSpaceOnUse" patternTransform="matrix(0.997 0 0 1 71.16 0)"><rect width="11.0" height="1" fill="url(#n1)"/></pattern><pattern id="p1_133" width="11.0" height="1" patternUnits="userSpaceOnUse" patternTransform="matrix(0.997 0 0 1 71.55 0)"><rect width="11.0" height="1" fill="url(#n1)"/></pattern><pattern id="p1_134" width="11.0" height="1" patternUnits="userSpaceOnUse" patternTransform="matrix(0.997 0 0 1 71.93 0)"><rect width="11.0" height="1" fill="url(#n1)"/></pattern><pattern id="p1_135" width="11.0" height="1" patternUnits="userSpaceOnUse" patternTransform="matrix(0.955 0 0 1 72.06 0)"><rect width="11.0" height="1" fill="url(#n1)"/></pattern><pattern id="p1_136" width="11.0" height="1" patternUnits="userSpaceOnUse" patternTransform="matrix(0.955 0 0 1 71.27 0)"><rect width="11.0" height="1" fill="url(#n1)"/></pattern><pattern id="p1_137" width="11.0" height="1" patternUnits="userSpaceOnUse" patternTransform="matrix(0.955 0 0 1 70.48 0)"><rect width="11.0" height="1" fill="url(#n1)"/></pattern><linearGradient id="lg1"><stop offset="0.0" stop-color="#960000"/><stop offset="0.08" stop-color="#b40005"/><stop offset="0.16" stop-color="#c60c12"/><stop offset="0.19" stop-color="#e16469"/><stop offset="0.215" stop-color="#fae1e1"/><stop offset="0.255" stop-color="#ffffff"/><stop offset="0.29" stop-color="#e1e6fc"/><stop offset="0.315" stop-color="#828cee"/><stop offset="0.345" stop-color="#0f19cd"/><stop offset="0.42" stop-color="#0005be"/><stop offset="0.5" stop-color="#0000a0"/><stop offset="0.58" stop-color="#0005be"/><stop offset="0.655" stop-color="#0f19cd"/><stop offset="0.685" stop-color="#828cee"/><stop offset="0.71" stop-color="#e1e6fc"/><stop offset="0.745" stop-color="#ffffff"/><stop offset="0.785" stop-color="#fae1e1"/><stop offset="0.81" stop-color="#e16469"/><stop offset="0.84" stop-color="#c60c12"/><stop offset="0.92" stop-color="#b40005"/><stop offset="1.0" stop-color="#960000"/></linearGradient><pattern id="lp1" width="11.0" height="1" patternUnits="userSpaceOnUse" patternTransform="translate(69.00 0)"><rect width="11.0" height="1" fill="url(#lg1)"/></pattern><linearGradient id="lmg1"><stop offset="0.0000" stop-color="#fff" stop-opacity="0.000"/><stop offset="0.0125" stop-color="#fff" stop-opacity="0.000"/><stop offset="0.0250" stop-color="#fff" stop-opacity="0.001"/><stop offset="0.0375" stop-color="#fff" stop-opacity="0.001"/><stop offset="0.0500" stop-color="#fff" stop-opacity="0.001"/><stop offset="0.0625" stop-color="#fff" stop-opacity="0.002"/><stop offset="0.0750" stop-color="#fff" stop-opacity="0.004"/><stop offset="0.0875" stop-color="#fff" stop-opacity="0.005"/><stop offset="0.1000" stop-color="#fff" stop-opacity="0.008"/><stop offset="0.1125" stop-color="#fff" stop-opacity="0.012"/><stop offset="0.1250" stop-color="#fff" stop-opacity="0.017"/><stop offset="0.1375" stop-color="#fff" stop-opacity="0.024"/><stop offset="0.1500" stop-color="#fff" stop-opacity="0.033"/><stop offset="0.1625" stop-color="#fff" stop-opacity="0.044"/><stop offset="0.1750" stop-color="#fff" stop-opacity="0.059"/><stop offset="0.1875" stop-color="#fff" stop-opacity="0.077"/><stop offset="0.2000" stop-color="#fff" stop-opacity="0.100"/><stop offset="0.2125" stop-color="#fff" stop-opacity="0.127"/><stop offset="0.2250" stop-color="#fff" stop-opacity="0.158"/><stop offset="0.2375" stop-color="#fff" stop-opacity="0.195"/><stop offset="0.2500" stop-color="#fff" stop-opacity="0.236"/><stop offset="0.2625" stop-color="#fff" stop-opacity="0.281"/><stop offset="0.2750" stop-color="#fff" stop-opacity="0.331"/><stop offset="0.2875" stop-color="#fff" stop-opacity="0.384"/><stop offset="0.3000" stop-color="#fff" stop-opacity="0.439"/><stop offset="0.3125" stop-color="#fff" stop-opacity="0.496"/><stop offset="0.3250" stop-color="#fff" stop-opacity="0.554"/><stop offset="0.3375" stop-color="#fff" stop-opacity="0.611"/><stop offset="0.3500" stop-color="#fff" stop-opacity="0.667"/><stop offset="0.3625" stop-color="#fff" stop-opacity="0.719"/><stop offset="0.3750" stop-color="#fff" stop-opacity="0.768"/><stop offset="0.3875" stop-color="#fff" stop-opacity="0.812"/><stop offset="0.4000" stop-color="#fff" stop-opacity="0.851"/><stop offset="0.4125" stop-color="#fff" stop-opacity="0.884"/><stop offset="0.4250" stop-color="#fff" stop-opacity="0.912"/><stop offset="0.4375" stop-color="#fff" stop-opacity="0.933"/><stop offset="0.4500" stop-color="#fff" stop-opacity="0.949"/><stop offset="0.4625" stop-color="#fff" stop-opacity="0.960"/><stop offset="0.4750" stop-color="#fff" stop-opacity="0.967"/><stop offset="0.4875" stop-color="#fff" stop-opacity="0.969"/><stop offset="0.5000" stop-color="#fff" stop-opacity="0.970"/><stop offset="0.5125" stop-color="#fff" stop-opacity="0.969"/><stop offset="0.5250" stop-color="#fff" stop-opacity="0.967"/><stop offset="0.5375" stop-color="#fff" stop-opacity="0.960"/><stop offset="0.5500" stop-color="#fff" stop-opacity="0.949"/><stop offset="0.5625" stop-color="#fff" stop-opacity="0.933"/><stop offset="0.5750" stop-color="#fff" stop-opacity="0.912"/><stop offset="0.5875" stop-color="#fff" stop-opacity="0.884"/><stop offset="0.6000" stop-color="#fff" stop-opacity="0.851"/><stop offset="0.6125" stop-color="#fff" stop-opacity="0.812"/><stop offset="0.6250" stop-color="#fff" stop-opacity="0.768"/><stop offset="0.6375" stop-color="#fff" stop-opacity="0.719"/><stop offset="0.6500" stop-color="#fff" stop-opacity="0.667"/><stop offset="0.6625" stop-color="#fff" stop-opacity="0.611"/><stop offset="0.6750" stop-color="#fff" stop-opacity="0.554"/><stop offset="0.6875" stop-color="#fff" stop-opacity="0.496"/><stop offset="0.7000" stop-color="#fff" stop-opacity="0.439"/><stop offset="0.7125" stop-color="#fff" stop-opacity="0.384"/><stop offset="0.7250" stop-color="#fff" stop-opacity="0.331"/><stop offset="0.7375" stop-color="#fff" stop-opacity="0.281"/><stop offset="0.7500" stop-color="#fff" stop-opacity="0.236"/><stop offset="0.7625" stop-color="#fff" stop-opacity="0.195"/><stop offset="0.7750" stop-color="#fff" stop-opacity="0.158"/><stop offset="0.7875" stop-color="#fff" stop-opacity="0.127"/><stop offset="0.8000" stop-color="#fff" stop-opacity="0.100"/><stop offset="0.8125" stop-color="#fff" stop-opacity="0.077"/><stop offset="0.8250" stop-color="#fff" stop-opacity="0.059"/><stop offset="0.8375" stop-color="#fff" stop-opacity="0.044"/><stop offset="0.8500" stop-color="#fff" stop-opacity="0.033"/><stop offset="0.8625" stop-color="#fff" stop-opacity="0.024"/><stop offset="0.8750" stop-color="#fff" stop-opacity="0.017"/><stop offset="0.8875" stop-color="#fff" stop-opacity="0.012"/><stop offset="0.9000" stop-color="#fff" stop-opacity="0.008"/><stop offset="0.9125" stop-color="#fff" stop-opacity="0.005"/><stop offset="0.9250" stop-color="#fff" stop-opacity="0.004"/><stop offset="0.9375" stop-color="#fff" stop-opacity="0.002"/><stop offset="0.9500" stop-color="#fff" stop-opacity="0.001"/><stop offset="0.9625" stop-color="#fff" stop-opacity="0.001"/><stop offset="0.9750" stop-color="#fff" stop-opacity="0.001"/><stop offset="0.9875" stop-color="#fff" stop-opacity="0.000"/><stop offset="1.0000" stop-color="#fff" stop-opacity="0.000"/></linearGradient><mask id="lm1" maskUnits="userSpaceOnUse" x="-3" y="0" width="144" height="138"><rect width="138" height="138" fill="url(#lmg1)"/></mask></defs>
<g transform="translate(64 356.4)" filter="url(#blur)"><rect y="0" width="138" height="1" fill="url(#p1_0)" fill-opacity="0.48"/><rect y="1" width="138" height="1" fill="url(#p1_1)" fill-opacity="0.80"/><rect y="2" width="138" height="1" fill="url(#p1_2)" fill-opacity="0.48"/><rect y="3" width="138" height="1" fill="url(#p1_3)" fill-opacity="0.40"/><rect y="4" width="138" height="1" fill="url(#p1_4)" fill-opacity="0.78"/><rect y="5" width="138" height="1" fill="url(#p1_5)" fill-opacity="0.41"/><rect y="6" width="138" height="1" fill="url(#p1_6)" fill-opacity="0.69"/><rect y="7" width="138" height="1" fill="url(#p1_7)" fill-opacity="0.68"/><rect y="8" width="138" height="1" fill="url(#p1_8)" fill-opacity="0.26"/><rect y="9" width="138" height="1" fill="url(#p1_9)" fill-opacity="0.47"/><rect y="10" width="138" height="1" fill="url(#p1_10)" fill-opacity="0.28"/><rect y="11" width="138" height="1" fill="url(#p1_11)" fill-opacity="0.47"/><rect y="12" width="138" height="1" fill="url(#p1_12)" fill-opacity="0.71"/><rect y="13" width="138" height="1" fill="url(#p1_13)" fill-opacity="0.40"/><rect y="14" width="138" height="1" fill="url(#p1_14)" fill-opacity="0.34"/><rect y="15" width="138" height="1" fill="url(#p1_15)" fill-opacity="0.70"/><rect y="16" width="138" height="1" fill="url(#p1_16)" fill-opacity="0.73"/><rect y="17" width="138" height="1" fill="url(#p1_17)" fill-opacity="0.36"/><rect y="18" width="138" height="1" fill="url(#p1_18)" fill-opacity="0.48"/><rect y="19" width="138" height="1" fill="url(#p1_19)" fill-opacity="0.81"/><rect y="20" width="138" height="1" fill="url(#p1_20)" fill-opacity="0.39"/><rect y="21" width="138" height="1" fill="url(#p1_21)" fill-opacity="0.37"/><rect y="22" width="138" height="1" fill="url(#p1_22)" fill-opacity="0.59"/><rect y="23" width="138" height="1" fill="url(#p1_23)" fill-opacity="0.26"/><rect y="24" width="138" height="1" fill="url(#p1_24)" fill-opacity="0.33"/><rect y="25" width="138" height="1" fill="url(#p1_25)" fill-opacity="0.56"/><rect y="26" width="138" height="1" fill="url(#p1_26)" fill-opacity="0.33"/><rect y="27" width="138" height="1" fill="url(#p1_27)" fill-opacity="0.46"/><rect y="28" width="138" height="1" fill="url(#p1_28)" fill-opacity="0.83"/><rect y="29" width="138" height="1" fill="url(#p1_29)" fill-opacity="0.51"/><rect y="30" width="138" height="1" fill="url(#p1_30)" fill-opacity="0.37"/><rect y="31" width="138" height="1" fill="url(#p1_31)" fill-opacity="0.75"/><rect y="32" width="138" height="1" fill="url(#p1_32)" fill-opacity="0.72"/><rect y="33" width="138" height="1" fill="url(#p1_33)" fill-opacity="0.31"/><rect y="34" width="138" height="1" fill="url(#p1_34)" fill-opacity="0.64"/><rect y="35" width="138" height="1" fill="url(#p1_35)" fill-opacity="0.67"/><rect y="36" width="138" height="1" fill="url(#p1_36)" fill-opacity="0.74"/><rect y="37" width="138" height="1" fill="url(#p1_37)" fill-opacity="0.58"/><rect y="38" width="138" height="1" fill="url(#p1_38)" fill-opacity="0.39"/><rect y="39" width="138" height="1" fill="url(#p1_39)" fill-opacity="0.80"/><rect y="40" width="138" height="1" fill="url(#p1_40)" fill-opacity="0.41"/><rect y="41" width="138" height="1" fill="url(#p1_41)" fill-opacity="0.63"/><rect y="42" width="138" height="1" fill="url(#p1_42)" fill-opacity="0.53"/><rect y="43" width="138" height="1" fill="url(#p1_43)" fill-opacity="0.45"/><rect y="44" width="138" height="1" fill="url(#p1_44)" fill-opacity="0.82"/><rect y="45" width="138" height="1" fill="url(#p1_45)" fill-opacity="0.79"/><rect y="46" width="138" height="1" fill="url(#p1_46)" fill-opacity="0.48"/><rect y="47" width="138" height="1" fill="url(#p1_47)" fill-opacity="0.26"/><rect y="48" width="138" height="1" fill="url(#p1_48)" fill-opacity="0.55"/><rect y="49" width="138" height="1" fill="url(#p1_49)" fill-opacity="0.18"/><rect y="50" width="138" height="1" fill="url(#p1_50)" fill-opacity="0.35"/><rect y="51" width="138" height="1" fill="url(#p1_51)" fill-opacity="0.69"/><rect y="52" width="138" height="1" fill="url(#p1_52)" fill-opacity="0.34"/><rect y="53" width="138" height="1" fill="url(#p1_53)" fill-opacity="0.61"/><rect y="54" width="138" height="1" fill="url(#p1_54)" fill-opacity="0.55"/><rect y="55" width="138" height="1" fill="url(#p1_55)" fill-opacity="0.42"/><rect y="56" width="138" height="1" fill="url(#p1_56)" fill-opacity="0.69"/><rect y="57" width="138" height="1" fill="url(#p1_57)" fill-opacity="0.38"/><rect y="58" width="138" height="1" fill="url(#p1_58)" fill-opacity="0.30"/><rect y="59" width="138" height="1" fill="url(#p1_59)" fill-opacity="0.60"/><rect y="60" width="138" height="1" fill="url(#p1_60)" fill-opacity="0.34"/><rect y="61" width="138" height="1" fill="url(#p1_61)" fill-opacity="0.25"/><rect y="62" width="138" height="1" fill="url(#p1_62)" fill-opacity="0.51"/><rect y="63" width="138" height="1" fill="url(#p1_63)" fill-opacity="0.24"/><rect y="64" width="138" height="1" fill="url(#p1_64)" fill-opacity="0.54"/><rect y="65" width="138" height="1" fill="url(#p1_65)" fill-opacity="0.93"/><rect y="66" width="138" height="1" fill="url(#p1_66)" fill-opacity="0.52"/><rect y="67" width="138" height="1" fill="url(#p1_67)" fill-opacity="0.32"/><rect y="68" width="138" height="1" fill="url(#p1_68)" fill-opacity="0.78"/><rect y="69" width="138" height="1" fill="url(#p1_69)" fill-opacity="0.38"/><rect y="70" width="138" height="1" fill="url(#p1_70)" fill-opacity="0.36"/><rect y="71" width="138" height="1" fill="url(#p1_71)" fill-opacity="0.88"/><rect y="72" width="138" height="1" fill="url(#p1_72)" fill-opacity="0.45"/><rect y="73" width="138" height="1" fill="url(#p1_73)" fill-opacity="0.30"/><rect y="74" width="138" height="1" fill="url(#p1_74)" fill-opacity="0.51"/><rect y="75" width="138" height="1" fill="url(#p1_75)" fill-opacity="0.35"/><rect y="76" width="138" height="1" fill="url(#p1_76)" fill-opacity="0.48"/><rect y="77" width="138" height="1" fill="url(#p1_77)" fill-opacity="0.88"/><rect y="78" width="138" height="1" fill="url(#p1_78)" fill-opacity="0.42"/><rect y="79" width="138" height="1" fill="url(#p1_79)" fill-opacity="0.39"/><rect y="80" width="138" height="1" fill="url(#p1_80)" fill-opacity="0.76"/><rect y="81" width="138" height="1" fill="url(#p1_81)" fill-opacity="0.36"/><rect y="82" width="138" height="1" fill="url(#p1_82)" fill-opacity="0.34"/><rect y="83" width="138" height="1" fill="url(#p1_83)" fill-opacity="0.61"/><rect y="84" width="138" height="1" fill="url(#p1_84)" fill-opacity="0.64"/><rect y="85" width="138" height="1" fill="url(#p1_85)" fill-opacity="0.29"/><rect y="86" width="138" height="1" fill="url(#p1_86)" fill-opacity="0.39"/><rect y="87" width="138" height="1" fill="url(#p1_87)" fill-opacity="0.76"/><rect y="88" width="138" height="1" fill="url(#p1_88)" fill-opacity="0.71"/><rect y="89" width="138" height="1" fill="url(#p1_89)" fill-opacity="0.39"/><rect y="90" width="138" height="1" fill="url(#p1_90)" fill-opacity="0.55"/><rect y="91" width="138" height="1" fill="url(#p1_91)" fill-opacity="0.60"/><rect y="92" width="138" height="1" fill="url(#p1_92)" fill-opacity="0.78"/><rect y="93" width="138" height="1" fill="url(#p1_93)" fill-opacity="0.70"/><rect y="94" width="138" height="1" fill="url(#p1_94)" fill-opacity="0.39"/><rect y="95" width="138" height="1" fill="url(#p1_95)" fill-opacity="0.62"/><rect y="96" width="138" height="1" fill="url(#p1_96)" fill-opacity="0.47"/><rect y="97" width="138" height="1" fill="url(#p1_97)" fill-opacity="0.39"/><rect y="98" width="138" height="1" fill="url(#p1_98)" fill-opacity="0.66"/><rect y="99" width="138" height="1" fill="url(#p1_99)" fill-opacity="0.37"/><rect y="100" width="138" height="1" fill="url(#p1_100)" fill-opacity="0.62"/><rect y="101" width="138" height="1" fill="url(#p1_101)" fill-opacity="0.64"/><rect y="102" width="138" height="1" fill="url(#p1_102)" fill-opacity="0.46"/><rect y="103" width="138" height="1" fill="url(#p1_103)" fill-opacity="0.51"/><rect y="104" width="138" height="1" fill="url(#p1_104)" fill-opacity="0.30"/><rect y="105" width="138" height="1" fill="url(#p1_105)" fill-opacity="0.63"/><rect y="106" width="138" height="1" fill="url(#p1_106)" fill-opacity="0.21"/><rect y="107" width="138" height="1" fill="url(#p1_107)" fill-opacity="0.45"/><rect y="108" width="138" height="1" fill="url(#p1_108)" fill-opacity="0.73"/><rect y="109" width="138" height="1" fill="url(#p1_109)" fill-opacity="0.48"/><rect y="110" width="138" height="1" fill="url(#p1_110)" fill-opacity="0.36"/><rect y="111" width="138" height="1" fill="url(#p1_111)" fill-opacity="0.62"/><rect y="112" width="138" height="1" fill="url(#p1_112)" fill-opacity="0.30"/><rect y="113" width="138" height="1" fill="url(#p1_113)" fill-opacity="0.47"/><rect y="114" width="138" height="1" fill="url(#p1_114)" fill-opacity="0.88"/><rect y="115" width="138" height="1" fill="url(#p1_115)" fill-opacity="0.85"/><rect y="116" width="138" height="1" fill="url(#p1_116)" fill-opacity="0.48"/><rect y="117" width="138" height="1" fill="url(#p1_117)" fill-opacity="0.35"/><rect y="118" width="138" height="1" fill="url(#p1_118)" fill-opacity="0.62"/><rect y="119" width="138" height="1" fill="url(#p1_119)" fill-opacity="0.32"/><rect y="120" width="138" height="1" fill="url(#p1_120)" fill-opacity="0.41"/><rect y="121" width="138" height="1" fill="url(#p1_121)" fill-opacity="0.77"/><rect y="122" width="138" height="1" fill="url(#p1_122)" fill-opacity="0.38"/><rect y="123" width="138" height="1" fill="url(#p1_123)" fill-opacity="0.64"/><rect y="124" width="138" height="1" fill="url(#p1_124)" fill-opacity="0.70"/><rect y="125" width="138" height="1" fill="url(#p1_125)" fill-opacity="0.31"/><rect y="126" width="138" height="1" fill="url(#p1_126)" fill-opacity="0.62"/><rect y="127" width="138" height="1" fill="url(#p1_127)" fill-opacity="0.34"/><rect y="128" width="138" height="1" fill="url(#p1_128)" fill-opacity="0.51"/><rect y="129" width="138" height="1" fill="url(#p1_129)" fill-opacity="0.83"/><rect y="130" width="138" height="1" fill="url(#p1_130)" fill-opacity="0.86"/><rect y="131" width="138" height="1" fill="url(#p1_131)" fill-opacity="0.39"/><rect y="132" width="138" height="1" fill="url(#p1_132)" fill-opacity="0.39"/><rect y="133" width="138" height="1" fill="url(#p1_133)" fill-opacity="0.93"/><rect y="134" width="138" height="1" fill="url(#p1_134)" fill-opacity="0.45"/><rect y="135" width="138" height="1" fill="url(#p1_135)" fill-opacity="0.44"/><rect y="136" width="138" height="1" fill="url(#p1_136)" fill-opacity="0.75"/><rect y="137" width="138" height="1" fill="url(#p1_137)" fill-opacity="0.41"/><g mask="url(#lm1)"><rect y="0" width="138" height="1" fill="url(#lp1)" transform="translate(0.19 0)" fill-opacity="0.97"/><rect y="1" width="138" height="1" fill="url(#lp1)" transform="translate(-0.37 0)" fill-opacity="1.00"/><rect y="2" width="138" height="1" fill="url(#lp1)" transform="translate(0.09 0)" fill-opacity="1.00"/><rect y="3" width="138" height="1" fill="url(#lp1)" transform="translate(-0.07 0)" fill-opacity="1.00"/><rect y="4" width="138" height="1" fill="url(#lp1)" transform="translate(-0.23 0)" fill-opacity="1.00"/><rect y="5" width="138" height="1" fill="url(#lp1)" transform="translate(-0.11 0)" fill-opacity="1.00"/><rect y="6" width="138" height="1" fill="url(#lp1)" transform="translate(0.22 0)" fill-opacity="0.91"/><rect y="7" width="138" height="1" fill="url(#lp1)" transform="translate(-0.01 0)" fill-opacity="0.97"/><rect y="8" width="138" height="1" fill="url(#lp1)" transform="translate(0.26 0)" fill-opacity="1.00"/><rect y="9" width="138" height="1" fill="url(#lp1)" transform="translate(-0.27 0)" fill-opacity="1.00"/><rect y="10" width="138" height="1" fill="url(#lp1)" transform="translate(0.16 0)" fill-opacity="1.00"/><rect y="11" width="138" height="1" fill="url(#lp1)" transform="translate(-0.37 0)" fill-opacity="0.93"/><rect y="12" width="138" height="1" fill="url(#lp1)" transform="translate(0.29 0)" fill-opacity="0.86"/><rect y="13" width="138" height="1" fill="url(#lp1)" transform="translate(-0.26 0)" fill-opacity="1.00"/><rect y="14" width="138" height="1" fill="url(#lp1)" transform="translate(0.22 0)" fill-opacity="0.92"/><rect y="15" width="138" height="1" fill="url(#lp1)" transform="translate(0.12 0)" fill-opacity="0.98"/><rect y="16" width="138" height="1" fill="url(#lp1)" transform="translate(0.33 0)" fill-opacity="0.97"/><rect y="17" width="138" height="1" fill="url(#lp1)" transform="translate(0.22 0)" fill-opacity="0.90"/><rect y="18" width="138" height="1" fill="url(#lp1)" transform="translate(-0.04 0)" fill-opacity="0.96"/><rect y="19" width="138" height="1" fill="url(#lp1)" transform="translate(0.25 0)" fill-opacity="1.00"/><rect y="20" width="138" height="1" fill="url(#lp1)" transform="translate(-0.17 0)" fill-opacity="1.00"/><rect y="21" width="138" height="1" fill="url(#lp1)" transform="translate(0.17 0)" fill-opacity="0.96"/><rect y="22" width="138" height="1" fill="url(#lp1)" transform="translate(-0.06 0)" fill-opacity="0.95"/><rect y="23" width="138" height="1" fill="url(#lp1)" transform="translate(-0.37 0)" fill-opacity="0.99"/><rect y="24" width="138" height="1" fill="url(#lp1)" transform="translate(0.05 0)" fill-opacity="0.90"/><rect y="25" width="138" height="1" fill="url(#lp1)" transform="translate(0.16 0)" fill-opacity="0.86"/><rect y="26" width="138" height="1" fill="url(#lp1)" transform="translate(-0.12 0)" fill-opacity="0.93"/><rect y="27" width="138" height="1" fill="url(#lp1)" transform="translate(0.44 0)" fill-opacity="0.84"/><rect y="28" width="138" height="1" fill="url(#lp1)" transform="translate(0.12 0)" fill-opacity="1.00"/><rect y="29" width="138" height="1" fill="url(#lp1)" transform="translate(0.08 0)" fill-opacity="1.00"/><rect y="30" width="138" height="1" fill="url(#lp1)" transform="translate(-0.22 0)" fill-opacity="0.79"/><rect y="31" width="138" height="1" fill="url(#lp1)" transform="translate(0.17 0)" fill-opacity="0.87"/><rect y="32" width="138" height="1" fill="url(#lp1)" transform="translate(-0.07 0)" fill-opacity="0.88"/><rect y="33" width="138" height="1" fill="url(#lp1)" transform="translate(0.23 0)" fill-opacity="1.00"/><rect y="34" width="138" height="1" fill="url(#lp1)" transform="translate(-0.16 0)" fill-opacity="1.00"/><rect y="35" width="138" height="1" fill="url(#lp1)" transform="translate(0.03 0)" fill-opacity="0.96"/><rect y="36" width="138" height="1" fill="url(#lp1)" transform="translate(0.01 0)" fill-opacity="0.95"/><rect y="37" width="138" height="1" fill="url(#lp1)" transform="translate(0.14 0)" fill-opacity="0.99"/><rect y="38" width="138" height="1" fill="url(#lp1)" transform="translate(-0.08 0)" fill-opacity="1.00"/><rect y="39" width="138" height="1" fill="url(#lp1)" transform="translate(-0.13 0)" fill-opacity="0.99"/><rect y="40" width="138" height="1" fill="url(#lp1)" transform="translate(0.09 0)" fill-opacity="1.00"/><rect y="41" width="138" height="1" fill="url(#lp1)" transform="translate(-0.11 0)" fill-opacity="1.00"/><rect y="42" width="138" height="1" fill="url(#lp1)" transform="translate(0.04 0)" fill-opacity="0.95"/><rect y="43" width="138" height="1" fill="url(#lp1)" transform="translate(-0.15 0)" fill-opacity="1.00"/><rect y="44" width="138" height="1" fill="url(#lp1)" transform="translate(0.01 0)" fill-opacity="0.88"/><rect y="45" width="138" height="1" fill="url(#lp1)" transform="translate(-0.25 0)" fill-opacity="0.93"/><rect y="46" width="138" height="1" fill="url(#lp1)" transform="translate(-0.15 0)" fill-opacity="1.00"/><rect y="47" width="138" height="1" fill="url(#lp1)" transform="translate(0.30 0)" fill-opacity="1.00"/><rect y="48" width="138" height="1" fill="url(#lp1)" transform="translate(0.08 0)" fill-opacity="0.94"/><rect y="49" width="138" height="1" fill="url(#lp1)" transform="translate(0.01 0)" fill-opacity="1.00"/><rect y="50" width="138" height="1" fill="url(#lp1)" transform="translate(0.47 0)" fill-opacity="1.00"/><rect y="51" width="138" height="1" fill="url(#lp1)" transform="translate(-0.06 0)" fill-opacity="0.97"/><rect y="52" width="138" height="1" fill="url(#lp1)" transform="translate(-0.11 0)" fill-opacity="0.91"/><rect y="53" width="138" height="1" fill="url(#lp1)" transform="translate(-0.04 0)" fill-opacity="0.99"/><rect y="54" width="138" height="1" fill="url(#lp1)" transform="translate(0.40 0)" fill-opacity="0.97"/><rect y="55" width="138" height="1" fill="url(#lp1)" transform="translate(0.30 0)" fill-opacity="1.00"/><rect y="56" width="138" height="1" fill="url(#lp1)" transform="translate(0.02 0)" fill-opacity="1.00"/><rect y="57" width="138" height="1" fill="url(#lp1)" transform="translate(0.16 0)" fill-opacity="0.94"/><rect y="58" width="138" height="1" fill="url(#lp1)" transform="translate(0.06 0)" fill-opacity="0.97"/><rect y="59" width="138" height="1" fill="url(#lp1)" transform="translate(-0.05 0)" fill-opacity="0.95"/><rect y="60" width="138" height="1" fill="url(#lp1)" transform="translate(0.03 0)" fill-opacity="1.00"/><rect y="61" width="138" height="1" fill="url(#lp1)" transform="translate(-0.19 0)" fill-opacity="0.97"/><rect y="62" width="138" height="1" fill="url(#lp1)" transform="translate(-0.33 0)" fill-opacity="0.99"/><rect y="63" width="138" height="1" fill="url(#lp1)" transform="translate(0.14 0)" fill-opacity="0.98"/><rect y="64" width="138" height="1" fill="url(#lp1)" transform="translate(0.06 0)" fill-opacity="1.00"/><rect y="65" width="138" height="1" fill="url(#lp1)" transform="translate(-0.15 0)" fill-opacity="0.95"/><rect y="66" width="138" height="1" fill="url(#lp1)" transform="translate(0.11 0)" fill-opacity="1.00"/><rect y="67" width="138" height="1" fill="url(#lp1)" transform="translate(0.09 0)" fill-opacity="1.00"/><rect y="68" width="138" height="1" fill="url(#lp1)" transform="translate(-0.02 0)" fill-opacity="1.00"/><rect y="69" width="138" height="1" fill="url(#lp1)" transform="translate(0.28 0)" fill-opacity="0.96"/><rect y="70" width="138" height="1" fill="url(#lp1)" transform="translate(-0.18 0)" fill-opacity="0.88"/><rect y="71" width="138" height="1" fill="url(#lp1)" transform="translate(0.04 0)" fill-opacity="1.00"/><rect y="72" width="138" height="1" fill="url(#lp1)" transform="translate(0.06 0)" fill-opacity="0.98"/><rect y="73" width="138" height="1" fill="url(#lp1)" transform="translate(-0.08 0)" fill-opacity="1.00"/><rect y="74" width="138" height="1" fill="url(#lp1)" transform="translate(-0.47 0)" fill-opacity="0.99"/><rect y="75" width="138" height="1" fill="url(#lp1)" transform="translate(0.01 0)" fill-opacity="0.86"/><rect y="76" width="138" height="1" fill="url(#lp1)" transform="translate(0.48 0)" fill-opacity="0.86"/><rect y="77" width="138" height="1" fill="url(#lp1)" transform="translate(-0.24 0)" fill-opacity="0.87"/><rect y="78" width="138" height="1" fill="url(#lp1)" transform="translate(0.24 0)" fill-opacity="0.90"/><rect y="79" width="138" height="1" fill="url(#lp1)" transform="translate(0.15 0)" fill-opacity="1.00"/><rect y="80" width="138" height="1" fill="url(#lp1)" transform="translate(0.06 0)" fill-opacity="0.87"/><rect y="81" width="138" height="1" fill="url(#lp1)" transform="translate(-0.13 0)" fill-opacity="1.00"/><rect y="82" width="138" height="1" fill="url(#lp1)" transform="translate(-0.28 0)" fill-opacity="0.90"/><rect y="83" width="138" height="1" fill="url(#lp1)" transform="translate(-0.04 0)" fill-opacity="1.00"/><rect y="84" width="138" height="1" fill="url(#lp1)" transform="translate(0.06 0)" fill-opacity="1.00"/><rect y="85" width="138" height="1" fill="url(#lp1)" transform="translate(-0.23 0)" fill-opacity="1.00"/><rect y="86" width="138" height="1" fill="url(#lp1)" transform="translate(0.13 0)" fill-opacity="0.84"/><rect y="87" width="138" height="1" fill="url(#lp1)" transform="translate(0.34 0)" fill-opacity="1.00"/><rect y="88" width="138" height="1" fill="url(#lp1)" transform="translate(-0.17 0)" fill-opacity="0.97"/><rect y="89" width="138" height="1" fill="url(#lp1)" transform="translate(0.31 0)" fill-opacity="0.85"/><rect y="90" width="138" height="1" fill="url(#lp1)" transform="translate(-0.44 0)" fill-opacity="0.87"/><rect y="91" width="138" height="1" fill="url(#lp1)" transform="translate(-0.12 0)" fill-opacity="0.92"/><rect y="92" width="138" height="1" fill="url(#lp1)" transform="translate(0.13 0)" fill-opacity="0.99"/><rect y="93" width="138" height="1" fill="url(#lp1)" transform="translate(-0.27 0)" fill-opacity="1.00"/><rect y="94" width="138" height="1" fill="url(#lp1)" transform="translate(0.41 0)" fill-opacity="1.00"/><rect y="95" width="138" height="1" fill="url(#lp1)" transform="translate(0.22 0)" fill-opacity="0.97"/><rect y="96" width="138" height="1" fill="url(#lp1)" transform="translate(0.22 0)" fill-opacity="0.89"/><rect y="97" width="138" height="1" fill="url(#lp1)" transform="translate(0.17 0)" fill-opacity="0.96"/><rect y="98" width="138" height="1" fill="url(#lp1)" transform="translate(0.25 0)" fill-opacity="1.00"/><rect y="99" width="138" height="1" fill="url(#lp1)" transform="translate(-0.24 0)" fill-opacity="0.98"/><rect y="100" width="138" height="1" fill="url(#lp1)" transform="translate(0.27 0)" fill-opacity="0.88"/><rect y="101" width="138" height="1" fill="url(#lp1)" transform="translate(-0.12 0)" fill-opacity="0.91"/><rect y="102" width="138" height="1" fill="url(#lp1)" transform="translate(-0.33 0)" fill-opacity="1.00"/><rect y="103" width="138" height="1" fill="url(#lp1)" transform="translate(0.29 0)" fill-opacity="1.00"/><rect y="104" width="138" height="1" fill="url(#lp1)" transform="translate(0.05 0)" fill-opacity="0.97"/><rect y="105" width="138" height="1" fill="url(#lp1)" transform="translate(0.05 0)" fill-opacity="0.91"/><rect y="106" width="138" height="1" fill="url(#lp1)" transform="translate(0.20 0)" fill-opacity="1.00"/><rect y="107" width="138" height="1" fill="url(#lp1)" transform="translate(0.21 0)" fill-opacity="0.93"/><rect y="108" width="138" height="1" fill="url(#lp1)" transform="translate(0.02 0)" fill-opacity="0.96"/><rect y="109" width="138" height="1" fill="url(#lp1)" transform="translate(0.39 0)" fill-opacity="0.98"/><rect y="110" width="138" height="1" fill="url(#lp1)" transform="translate(-0.41 0)" fill-opacity="1.00"/><rect y="111" width="138" height="1" fill="url(#lp1)" transform="translate(0.41 0)" fill-opacity="1.00"/><rect y="112" width="138" height="1" fill="url(#lp1)" transform="translate(0.19 0)" fill-opacity="0.97"/><rect y="113" width="138" height="1" fill="url(#lp1)" transform="translate(-0.43 0)" fill-opacity="0.83"/><rect y="114" width="138" height="1" fill="url(#lp1)" transform="translate(-0.27 0)" fill-opacity="0.96"/><rect y="115" width="138" height="1" fill="url(#lp1)" transform="translate(0.07 0)" fill-opacity="1.00"/><rect y="116" width="138" height="1" fill="url(#lp1)" transform="translate(-0.07 0)" fill-opacity="1.00"/><rect y="117" width="138" height="1" fill="url(#lp1)" transform="translate(-0.06 0)" fill-opacity="0.91"/><rect y="118" width="138" height="1" fill="url(#lp1)" transform="translate(0.19 0)" fill-opacity="0.90"/><rect y="119" width="138" height="1" fill="url(#lp1)" transform="translate(-0.60 0)" fill-opacity="0.89"/><rect y="120" width="138" height="1" fill="url(#lp1)" transform="translate(0.02 0)" fill-opacity="0.72"/><rect y="121" width="138" height="1" fill="url(#lp1)" transform="translate(-0.08 0)" fill-opacity="0.94"/><rect y="122" width="138" height="1" fill="url(#lp1)" transform="translate(-0.31 0)" fill-opacity="0.85"/><rect y="123" width="138" height="1" fill="url(#lp1)" transform="translate(-0.10 0)" fill-opacity="0.93"/><rect y="124" width="138" height="1" fill="url(#lp1)" transform="translate(0.28 0)" fill-opacity="1.00"/><rect y="125" width="138" height="1" fill="url(#lp1)" transform="translate(-0.35 0)" fill-opacity="0.90"/><rect y="126" width="138" height="1" fill="url(#lp1)" transform="translate(0.16 0)" fill-opacity="1.00"/><rect y="127" width="138" height="1" fill="url(#lp1)" transform="translate(0.09 0)" fill-opacity="0.99"/><rect y="128" width="138" height="1" fill="url(#lp1)" transform="translate(0.41 0)" fill-opacity="0.97"/><rect y="129" width="138" height="1" fill="url(#lp1)" transform="translate(-0.07 0)" fill-opacity="0.86"/><rect y="130" width="138" height="1" fill="url(#lp1)" transform="translate(-0.11 0)" fill-opacity="1.00"/><rect y="131" width="138" height="1" fill="url(#lp1)" transform="translate(-0.31 0)" fill-opacity="0.97"/><rect y="132" width="138" height="1" fill="url(#lp1)" transform="translate(-0.31 0)" fill-opacity="0.98"/><rect y="133" width="138" height="1" fill="url(#lp1)" transform="translate(0.20 0)" fill-opacity="0.95"/><rect y="134" width="138" height="1" fill="url(#lp1)" transform="translate(0.16 0)" fill-opacity="1.00"/><rect y="135" width="138" height="1" fill="url(#lp1)" transform="translate(0.10 0)" fill-opacity="1.00"/><rect y="136" width="138" height="1" fill="url(#lp1)" transform="translate(0.17 0)" fill-opacity="0.95"/><rect y="137" width="138" height="1" fill="url(#lp1)" transform="translate(-0.15 0)" fill-opacity="0.90"/></g><rect y="74" width="138" height="0.6" fill="#801020" fill-opacity="0.20"/><rect y="66" width="138" height="0.6" fill="#1a2a80" fill-opacity="0.28"/><rect y="68" width="138" height="0.6" fill="#801020" fill-opacity="0.40"/><rect y="32" width="138" height="0.6" fill="#1a2a80" fill-opacity="0.29"/><rect y="65" width="138" height="0.6" fill="#1a2a80" fill-opacity="0.18"/><rect y="92" width="138" height="0.6" fill="#801020" fill-opacity="0.37"/><rect y="72" width="138" height="0.6" fill="#801020" fill-opacity="0.24"/><rect y="35" width="138" height="0.6" fill="#1a2a80" fill-opacity="0.26"/><rect y="35" width="138" height="0.6" fill="#801020" fill-opacity="0.21"/><rect y="133" width="138" height="0.6" fill="#801020" fill-opacity="0.20"/><rect y="116" width="138" height="0.6" fill="#801020" fill-opacity="0.35"/><rect y="123" width="138" height="0.6" fill="#1a2a80" fill-opacity="0.36"/><rect y="127" width="138" height="0.6" fill="#801020" fill-opacity="0.21"/><rect y="113" width="138" height="0.6" fill="#801020" fill-opacity="0.24"/><rect y="41" width="138" height="0.6" fill="#1a2a80" fill-opacity="0.33"/><rect y="50" width="138" height="0.6" fill="#1a2a80" fill-opacity="0.24"/><rect y="19" width="138" height="0.6" fill="#1a2a80" fill-opacity="0.30"/><rect y="59" width="138" height="0.8" fill="#fff" fill-opacity="0.36"/><rect y="88" width="138" height="0.8" fill="#fff" fill-opacity="0.47"/><rect y="103" width="138" height="0.8" fill="#fff" fill-opacity="0.48"/><rect y="114" width="138" height="0.8" fill="#fff" fill-opacity="0.36"/><rect y="128" width="138" height="0.8" fill="#fff" fill-opacity="0.36"/><rect y="100" width="138" height="0.8" fill="#fff" fill-opacity="0.32"/></g>
<rect x="64" y="356.4" width="138" height="138" fill="none" stroke="#8890a8" stroke-width="0.8"/>
<line x1="61.5" y1="382.5" x2="64" y2="382.5" stroke="#555" stroke-width="1"/>
<text x="57.5" y="388.7" font-size="12.7" text-anchor="end">2000</text>
<line x1="61.5" y1="410.5" x2="64" y2="410.5" stroke="#555" stroke-width="1"/>
<line x1="61.5" y1="438.4" x2="64" y2="438.4" stroke="#555" stroke-width="1"/>
<text x="57.5" y="444.59999999999997" font-size="12.7" text-anchor="end">1000</text>
<line x1="61.5" y1="466.3" x2="64" y2="466.3" stroke="#555" stroke-width="1"/>
<line x1="64.0" y1="494.0" x2="64.0" y2="496.5" stroke="#555" stroke-width="0.8"/>
<line x1="81.25" y1="494.0" x2="81.25" y2="495.5" stroke="#555" stroke-width="0.8"/>
<line x1="98.5" y1="494.0" x2="98.5" y2="496.5" stroke="#555" stroke-width="0.8"/>
<line x1="115.75" y1="494.0" x2="115.75" y2="495.5" stroke="#555" stroke-width="0.8"/>
<line x1="133.0" y1="494.0" x2="133.0" y2="496.5" stroke="#555" stroke-width="0.8"/>
<line x1="150.25" y1="494.0" x2="150.25" y2="495.5" stroke="#555" stroke-width="0.8"/>
<line x1="167.5" y1="494.0" x2="167.5" y2="496.5" stroke="#555" stroke-width="0.8"/>
<line x1="184.75" y1="494.0" x2="184.75" y2="495.5" stroke="#555" stroke-width="0.8"/>
<line x1="202.0" y1="494.0" x2="202.0" y2="496.5" stroke="#555" stroke-width="0.8"/>
<text x="59.0" y="509.0" font-size="12.4" text-anchor="middle">-40</text>
<text x="95.8" y="509.0" font-size="12.4" text-anchor="middle">-20</text>
<text x="131.7" y="509.0" font-size="12.4" text-anchor="middle">0</text>
<text x="166.2" y="509.0" font-size="12.4" text-anchor="middle">20</text>
<text x="201.8" y="509.0" font-size="12.4" text-anchor="middle">40</text>
<text x="133.3" y="523.0" font-size="12.5" text-anchor="middle" letter-spacing="1.2">ms</text>
<defs><linearGradient id="n2"><stop offset="0.000" stop-color="#a70106"/><stop offset="0.031" stop-color="#aa0207"/><stop offset="0.062" stop-color="#b30408"/><stop offset="0.094" stop-color="#c2070b"/><stop offset="0.125" stop-color="#d32a2e"/><stop offset="0.156" stop-color="#e66469"/><stop offset="0.188" stop-color="#f29ea2"/><stop offset="0.219" stop-color="#fad5d7"/><stop offset="0.250" stop-color="#ffffff"/><stop offset="0.281" stop-color="#d2d9fb"/><stop offset="0.312" stop-color="#92a1f3"/><stop offset="0.344" stop-color="#5264e6"/><stop offset="0.375" stop-color="#212cd3"/><stop offset="0.406" stop-color="#040ac2"/><stop offset="0.438" stop-color="#0206b3"/><stop offset="0.469" stop-color="#0103aa"/><stop offset="0.500" stop-color="#0102a7"/><stop offset="0.531" stop-color="#0103aa"/><stop offset="0.562" stop-color="#0206b3"/><stop offset="0.594" stop-color="#040ac2"/><stop offset="0.625" stop-color="#212cd3"/><stop offset="0.656" stop-color="#5264e6"/><stop offset="0.688" stop-color="#92a1f3"/><stop offset="0.719" stop-color="#d2d9fb"/><stop offset="0.750" stop-color="#ffffff"/><stop offset="0.781" stop-color="#fad5d7"/><stop offset="0.812" stop-color="#f29ea2"/><stop offset="0.844" stop-color="#e66469"/><stop offset="0.875" stop-color="#d32a2e"/><stop offset="0.906" stop-color="#c2070b"/><stop offset="0.938" stop-color="#b30408"/><stop offset="0.969" stop-color="#aa0207"/><stop offset="1.000" stop-color="#a70106"/></linearGradient><pattern id="p2_0" width="11.0" height="1" patternUnits="userSpaceOnUse" patternTransform="matrix(0.963 0 0 1 70.21 0)"><rect width="11.0" height="1" fill="url(#n2)"/></pattern><pattern id="p2_1" width="11.0" height="1" patternUnits="userSpaceOnUse" patternTransform="matrix(0.963 0 0 1 69.90 0)"><rect width="11.0" height="1" fill="url(#n2)"/></pattern><pattern id="p2_2" width="11.0" height="1" patternUnits="userSpaceOnUse" patternTransform="matrix(0.963 0 0 1 69.58 0)"><rect width="11.0" height="1" fill="url(#n2)"/></pattern><pattern id="p2_3" width="11.0" height="1" patternUnits="userSpaceOnUse" patternTransform="matrix(0.963 0 0 1 69.27 0)"><rect width="11.0" height="1" fill="url(#n2)"/></pattern><pattern id="p2_4" width="11.0" height="1" patternUnits="userSpaceOnUse" patternTransform="matrix(1.088 0 0 1 70.85 0)"><rect width="11.0" height="1" fill="url(#n2)"/></pattern><pattern id="p2_5" width="11.0" height="1" patternUnits="userSpaceOnUse" patternTransform="matrix(1.088 0 0 1 70.52 0)"><rect width="11.0" height="1" fill="url(#n2)"/></pattern><pattern id="p2_6" width="11.0" height="1" patternUnits="userSpaceOnUse" patternTransform="matrix(1.088 0 0 1 70.19 0)"><rect width="11.0" height="1" fill="url(#n2)"/></pattern><pattern id="p2_7" width="11.0" height="1" patternUnits="userSpaceOnUse" patternTransform="matrix(1.011 0 0 1 71.26 0)"><rect width="11.0" height="1" fill="url(#n2)"/></pattern><pattern id="p2_8" width="11.0" height="1" patternUnits="userSpaceOnUse" patternTransform="matrix(1.011 0 0 1 70.90 0)"><rect width="11.0" height="1" fill="url(#n2)"/></pattern><pattern id="p2_9" width="11.0" height="1" patternUnits="userSpaceOnUse" patternTransform="matrix(1.011 0 0 1 70.53 0)"><rect width="11.0" height="1" fill="url(#n2)"/></pattern><pattern id="p2_10" width="11.0" height="1" patternUnits="userSpaceOnUse" patternTransform="matrix(1.011 0 0 1 70.17 0)"><rect width="11.0" height="1" fill="url(#n2)"/></pattern><pattern id="p2_11" width="11.0" height="1" patternUnits="userSpaceOnUse" patternTransform="matrix(1.185 0 0 1 76.83 0)"><rect width="11.0" height="1" fill="url(#n2)"/></pattern><pattern id="p2_12" width="11.0" height="1" patternUnits="userSpaceOnUse" patternTransform="matrix(1.185 0 0 1 77.30 0)"><rect width="11.0" height="1" fill="url(#n2)"/></pattern><pattern id="p2_13" width="11.0" height="1" patternUnits="userSpaceOnUse" patternTransform="matrix(1.185 0 0 1 77.77 0)"><rect width="11.0" height="1" fill="url(#n2)"/></pattern><pattern id="p2_14" width="11.0" height="1" patternUnits="userSpaceOnUse" patternTransform="matrix(1.185 0 0 1 78.24 0)"><rect width="11.0" height="1" fill="url(#n2)"/></pattern><pattern id="p2_15" width="11.0" height="1" patternUnits="userSpaceOnUse" patternTransform="matrix(1.026 0 0 1 74.88 0)"><rect width="11.0" height="1" fill="url(#n2)"/></pattern><pattern id="p2_16" width="11.0" height="1" patternUnits="userSpaceOnUse" patternTransform="matrix(1.026 0 0 1 75.01 0)"><rect width="11.0" height="1" fill="url(#n2)"/></pattern><pattern id="p2_17" width="11.0" height="1" patternUnits="userSpaceOnUse" patternTransform="matrix(1.026 0 0 1 75.14 0)"><rect width="11.0" height="1" fill="url(#n2)"/></pattern><pattern id="p2_18" width="11.0" height="1" patternUnits="userSpaceOnUse" patternTransform="matrix(0.931 0 0 1 74.68 0)"><rect width="11.0" height="1" fill="url(#n2)"/></pattern><pattern id="p2_19" width="11.0" height="1" patternUnits="userSpaceOnUse" patternTransform="matrix(0.931 0 0 1 75.76 0)"><rect width="11.0" height="1" fill="url(#n2)"/></pattern><pattern id="p2_20" width="11.0" height="1" patternUnits="userSpaceOnUse" patternTransform="matrix(0.931 0 0 1 76.84 0)"><rect width="11.0" height="1" fill="url(#n2)"/></pattern><pattern id="p2_21" width="11.0" height="1" patternUnits="userSpaceOnUse" patternTransform="matrix(0.931 0 0 1 77.92 0)"><rect width="11.0" height="1" fill="url(#n2)"/></pattern><pattern id="p2_22" width="11.0" height="1" patternUnits="userSpaceOnUse" patternTransform="matrix(0.872 0 0 1 79.08 0)"><rect width="11.0" height="1" fill="url(#n2)"/></pattern><pattern id="p2_23" width="11.0" height="1" patternUnits="userSpaceOnUse" patternTransform="matrix(0.872 0 0 1 79.70 0)"><rect width="11.0" height="1" fill="url(#n2)"/></pattern><pattern id="p2_24" width="11.0" height="1" patternUnits="userSpaceOnUse" patternTransform="matrix(0.872 0 0 1 69.32 0)"><rect width="11.0" height="1" fill="url(#n2)"/></pattern><pattern id="p2_25" width="11.0" height="1" patternUnits="userSpaceOnUse" patternTransform="matrix(0.975 0 0 1 71.36 0)"><rect width="11.0" height="1" fill="url(#n2)"/></pattern><pattern id="p2_26" width="11.0" height="1" patternUnits="userSpaceOnUse" patternTransform="matrix(0.975 0 0 1 71.52 0)"><rect width="11.0" height="1" fill="url(#n2)"/></pattern><pattern id="p2_27" width="11.0" height="1" patternUnits="userSpaceOnUse" patternTransform="matrix(0.904 0 0 1 74.16 0)"><rect width="11.0" height="1" fill="url(#n2)"/></pattern><pattern id="p2_28" width="11.0" height="1" patternUnits="userSpaceOnUse" patternTransform="matrix(0.904 0 0 1 74.55 0)"><rect width="11.0" height="1" fill="url(#n2)"/></pattern><pattern id="p2_29" width="11.0" height="1" patternUnits="userSpaceOnUse" patternTransform="matrix(0.999 0 0 1 75.52 0)"><rect width="11.0" height="1" fill="url(#n2)"/></pattern><pattern id="p2_30" width="11.0" height="1" patternUnits="userSpaceOnUse" patternTransform="matrix(0.999 0 0 1 76.43 0)"><rect width="11.0" height="1" fill="url(#n2)"/></pattern><pattern id="p2_31" width="11.0" height="1" patternUnits="userSpaceOnUse" patternTransform="matrix(1.032 0 0 1 69.66 0)"><rect width="11.0" height="1" fill="url(#n2)"/></pattern><pattern id="p2_32" width="11.0" height="1" patternUnits="userSpaceOnUse" patternTransform="matrix(1.032 0 0 1 70.72 0)"><rect width="11.0" height="1" fill="url(#n2)"/></pattern><pattern id="p2_33" width="11.0" height="1" patternUnits="userSpaceOnUse" patternTransform="matrix(1.032 0 0 1 71.78 0)"><rect width="11.0" height="1" fill="url(#n2)"/></pattern><pattern id="p2_34" width="11.0" height="1" patternUnits="userSpaceOnUse" patternTransform="matrix(0.988 0 0 1 78.30 0)"><rect width="11.0" height="1" fill="url(#n2)"/></pattern><pattern id="p2_35" width="11.0" height="1" patternUnits="userSpaceOnUse" patternTransform="matrix(0.988 0 0 1 77.85 0)"><rect width="11.0" height="1" fill="url(#n2)"/></pattern><pattern id="p2_36" width="11.0" height="1" patternUnits="userSpaceOnUse" patternTransform="matrix(0.988 0 0 1 77.39 0)"><rect width="11.0" height="1" fill="url(#n2)"/></pattern><pattern id="p2_37" width="11.0" height="1" patternUnits="userSpaceOnUse" patternTransform="matrix(0.925 0 0 1 74.96 0)"><rect width="11.0" height="1" fill="url(#n2)"/></pattern><pattern id="p2_38" width="11.0" height="1" patternUnits="userSpaceOnUse" patternTransform="matrix(0.925 0 0 1 75.05 0)"><rect width="11.0" height="1" fill="url(#n2)"/></pattern><pattern id="p2_39" width="11.0" height="1" patternUnits="userSpaceOnUse" patternTransform="matrix(0.925 0 0 1 75.14 0)"><rect width="11.0" height="1" fill="url(#n2)"/></pattern><pattern id="p2_40" width="11.0" height="1" patternUnits="userSpaceOnUse" patternTransform="matrix(0.859 0 0 1 72.34 0)"><rect width="11.0" height="1" fill="url(#n2)"/></pattern><pattern id="p2_41" width="11.0" height="1" patternUnits="userSpaceOnUse" patternTransform="matrix(0.859 0 0 1 71.85 0)"><rect width="11.0" height="1" fill="url(#n2)"/></pattern><pattern id="p2_42" width="11.0" height="1" patternUnits="userSpaceOnUse" patternTransform="matrix(0.959 0 0 1 69.90 0)"><rect width="11.0" height="1" fill="url(#n2)"/></pattern><pattern id="p2_43" width="11.0" height="1" patternUnits="userSpaceOnUse" patternTransform="matrix(0.959 0 0 1 70.10 0)"><rect width="11.0" height="1" fill="url(#n2)"/></pattern><pattern id="p2_44" width="11.0" height="1" patternUnits="userSpaceOnUse" patternTransform="matrix(0.959 0 0 1 70.29 0)"><rect width="11.0" height="1" fill="url(#n2)"/></pattern><pattern id="p2_45" width="11.0" height="1" patternUnits="userSpaceOnUse" patternTransform="matrix(1.081 0 0 1 69.78 0)"><rect width="11.0" height="1" fill="url(#n2)"/></pattern><pattern id="p2_46" width="11.0" height="1" patternUnits="userSpaceOnUse" patternTransform="matrix(1.081 0 0 1 79.60 0)"><rect width="11.0" height="1" fill="url(#n2)"/></pattern><pattern id="p2_47" width="11.0" height="1" patternUnits="userSpaceOnUse" patternTransform="matrix(1.081 0 0 1 78.42 0)"><rect width="11.0" height="1" fill="url(#n2)"/></pattern><pattern id="p2_48" width="11.0" height="1" patternUnits="userSpaceOnUse" patternTransform="matrix(0.985 0 0 1 78.05 0)"><rect width="11.0" height="1" fill="url(#n2)"/></pattern><pattern id="p2_49" width="11.0" height="1" patternUnits="userSpaceOnUse" patternTransform="matrix(0.985 0 0 1 78.02 0)"><rect width="11.0" height="1" fill="url(#n2)"/></pattern><pattern id="p2_50" width="11.0" height="1" patternUnits="userSpaceOnUse" patternTransform="matrix(0.879 0 0 1 75.86 0)"><rect width="11.0" height="1" fill="url(#n2)"/></pattern><pattern id="p2_51" width="11.0" height="1" patternUnits="userSpaceOnUse" patternTransform="matrix(0.879 0 0 1 75.54 0)"><rect width="11.0" height="1" fill="url(#n2)"/></pattern><pattern id="p2_52" width="11.0" height="1" patternUnits="userSpaceOnUse" patternTransform="matrix(0.879 0 0 1 75.22 0)"><rect width="11.0" height="1" fill="url(#n2)"/></pattern><pattern id="p2_53" width="11.0" height="1" patternUnits="userSpaceOnUse" patternTransform="matrix(1.050 0 0 1 72.38 0)"><rect width="11.0" height="1" fill="url(#n2)"/></pattern><pattern id="p2_54" width="11.0" height="1" patternUnits="userSpaceOnUse" patternTransform="matrix(1.050 0 0 1 71.90 0)"><rect width="11.0" height="1" fill="url(#n2)"/></pattern><pattern id="p2_55" width="11.0" height="1" patternUnits="userSpaceOnUse" patternTransform="matrix(0.927 0 0 1 72.04 0)"><rect width="11.0" height="1" fill="url(#n2)"/></pattern><pattern id="p2_56" width="11.0" height="1" patternUnits="userSpaceOnUse" patternTransform="matrix(0.927 0 0 1 71.47 0)"><rect width="11.0" height="1" fill="url(#n2)"/></pattern><pattern id="p2_57" width="11.0" height="1" patternUnits="userSpaceOnUse" patternTransform="matrix(0.927 0 0 1 70.91 0)"><rect width="11.0" height="1" fill="url(#n2)"/></pattern><pattern id="p2_58" width="11.0" height="1" patternUnits="userSpaceOnUse" patternTransform="matrix(0.974 0 0 1 73.16 0)"><rect width="11.0" height="1" fill="url(#n2)"/></pattern><pattern id="p2_59" width="11.0" height="1" patternUnits="userSpaceOnUse" patternTransform="matrix(0.974 0 0 1 74.19 0)"><rect width="11.0" height="1" fill="url(#n2)"/></pattern><pattern id="p2_60" width="11.0" height="1" patternUnits="userSpaceOnUse" patternTransform="matrix(1.002 0 0 1 76.82 0)"><rect width="11.0" height="1" fill="url(#n2)"/></pattern><pattern id="p2_61" width="11.0" height="1" patternUnits="userSpaceOnUse" patternTransform="matrix(1.002 0 0 1 76.53 0)"><rect width="11.0" height="1" fill="url(#n2)"/></pattern><pattern id="p2_62" width="11.0" height="1" patternUnits="userSpaceOnUse" patternTransform="matrix(1.002 0 0 1 76.24 0)"><rect width="11.0" height="1" fill="url(#n2)"/></pattern><pattern id="p2_63" width="11.0" height="1" patternUnits="userSpaceOnUse" patternTransform="matrix(1.002 0 0 1 75.94 0)"><rect width="11.0" height="1" fill="url(#n2)"/></pattern><pattern id="p2_64" width="11.0" height="1" patternUnits="userSpaceOnUse" patternTransform="matrix(0.809 0 0 1 79.90 0)"><rect width="11.0" height="1" fill="url(#n2)"/></pattern><pattern id="p2_65" width="11.0" height="1" patternUnits="userSpaceOnUse" patternTransform="matrix(0.809 0 0 1 79.78 0)"><rect width="11.0" height="1" fill="url(#n2)"/></pattern><pattern id="p2_66" width="11.0" height="1" patternUnits="userSpaceOnUse" patternTransform="matrix(1.020 0 0 1 79.67 0)"><rect width="11.0" height="1" fill="url(#n2)"/></pattern><pattern id="p2_67" width="11.0" height="1" patternUnits="userSpaceOnUse" patternTransform="matrix(1.020 0 0 1 80.07 0)"><rect width="11.0" height="1" fill="url(#n2)"/></pattern><pattern id="p2_68" width="11.0" height="1" patternUnits="userSpaceOnUse" patternTransform="matrix(1.020 0 0 1 69.47 0)"><rect width="11.0" height="1" fill="url(#n2)"/></pattern><pattern id="p2_69" width="11.0" height="1" patternUnits="userSpaceOnUse" patternTransform="matrix(1.020 0 0 1 69.87 0)"><rect width="11.0" height="1" fill="url(#n2)"/></pattern><pattern id="p2_70" width="11.0" height="1" patternUnits="userSpaceOnUse" patternTransform="matrix(0.886 0 0 1 71.35 0)"><rect width="11.0" height="1" fill="url(#n2)"/></pattern><pattern id="p2_71" width="11.0" height="1" patternUnits="userSpaceOnUse" patternTransform="matrix(0.886 0 0 1 71.43 0)"><rect width="11.0" height="1" fill="url(#n2)"/></pattern><pattern id="p2_72" width="11.0" height="1" patternUnits="userSpaceOnUse" patternTransform="matrix(0.886 0 0 1 71.50 0)"><rect width="11.0" height="1" fill="url(#n2)"/></pattern><pattern id="p2_73" width="11.0" height="1" patternUnits="userSpaceOnUse" patternTransform="matrix(1.137 0 0 1 79.19 0)"><rect width="11.0" height="1" fill="url(#n2)"/></pattern><pattern id="p2_74" width="11.0" height="1" patternUnits="userSpaceOnUse" patternTransform="matrix(1.137 0 0 1 79.05 0)"><rect width="11.0" height="1" fill="url(#n2)"/></pattern><pattern id="p2_75" width="11.0" height="1" patternUnits="userSpaceOnUse" patternTransform="matrix(1.137 0 0 1 78.90 0)"><rect width="11.0" height="1" fill="url(#n2)"/></pattern><pattern id="p2_76" width="11.0" height="1" patternUnits="userSpaceOnUse" patternTransform="matrix(0.936 0 0 1 72.32 0)"><rect width="11.0" height="1" fill="url(#n2)"/></pattern><pattern id="p2_77" width="11.0" height="1" patternUnits="userSpaceOnUse" patternTransform="matrix(0.936 0 0 1 72.21 0)"><rect width="11.0" height="1" fill="url(#n2)"/></pattern><pattern id="p2_78" width="11.0" height="1" patternUnits="userSpaceOnUse" patternTransform="matrix(0.831 0 0 1 71.29 0)"><rect width="11.0" height="1" fill="url(#n2)"/></pattern><pattern id="p2_79" width="11.0" height="1" patternUnits="userSpaceOnUse" patternTransform="matrix(0.831 0 0 1 72.16 0)"><rect width="11.0" height="1" fill="url(#n2)"/></pattern><pattern id="p2_80" width="11.0" height="1" patternUnits="userSpaceOnUse" patternTransform="matrix(0.831 0 0 1 73.03 0)"><rect width="11.0" height="1" fill="url(#n2)"/></pattern><pattern id="p2_81" width="11.0" height="1" patternUnits="userSpaceOnUse" patternTransform="matrix(0.822 0 0 1 76.58 0)"><rect width="11.0" height="1" fill="url(#n2)"/></pattern><pattern id="p2_82" width="11.0" height="1" patternUnits="userSpaceOnUse" patternTransform="matrix(0.822 0 0 1 75.55 0)"><rect width="11.0" height="1" fill="url(#n2)"/></pattern><pattern id="p2_83" width="11.0" height="1" patternUnits="userSpaceOnUse" patternTransform="matrix(0.822 0 0 1 74.51 0)"><rect width="11.0" height="1" fill="url(#n2)"/></pattern><pattern id="p2_84" width="11.0" height="1" patternUnits="userSpaceOnUse" patternTransform="matrix(0.822 0 0 1 73.48 0)"><rect width="11.0" height="1" fill="url(#n2)"/></pattern><pattern id="p2_85" width="11.0" height="1" patternUnits="userSpaceOnUse" patternTransform="matrix(1.025 0 0 1 73.96 0)"><rect width="11.0" height="1" fill="url(#n2)"/></pattern><pattern id="p2_86" width="11.0" height="1" patternUnits="userSpaceOnUse" patternTransform="matrix(1.025 0 0 1 74.19 0)"><rect width="11.0" height="1" fill="url(#n2)"/></pattern><pattern id="p2_87" width="11.0" height="1" patternUnits="userSpaceOnUse" patternTransform="matrix(1.025 0 0 1 74.41 0)"><rect width="11.0" height="1" fill="url(#n2)"/></pattern><pattern id="p2_88" width="11.0" height="1" patternUnits="userSpaceOnUse" patternTransform="matrix(0.829 0 0 1 71.75 0)"><rect width="11.0" height="1" fill="url(#n2)"/></pattern><pattern id="p2_89" width="11.0" height="1" patternUnits="userSpaceOnUse" patternTransform="matrix(0.829 0 0 1 71.45 0)"><rect width="11.0" height="1" fill="url(#n2)"/></pattern><pattern id="p2_90" width="11.0" height="1" patternUnits="userSpaceOnUse" patternTransform="matrix(0.829 0 0 1 71.16 0)"><rect width="11.0" height="1" fill="url(#n2)"/></pattern><pattern id="p2_91" width="11.0" height="1" patternUnits="userSpaceOnUse" patternTransform="matrix(0.958 0 0 1 76.05 0)"><rect width="11.0" height="1" fill="url(#n2)"/></pattern><pattern id="p2_92" width="11.0" height="1" patternUnits="userSpaceOnUse" patternTransform="matrix(0.958 0 0 1 75.70 0)"><rect width="11.0" height="1" fill="url(#n2)"/></pattern><pattern id="p2_93" width="11.0" height="1" patternUnits="userSpaceOnUse" patternTransform="matrix(0.958 0 0 1 75.35 0)"><rect width="11.0" height="1" fill="url(#n2)"/></pattern><pattern id="p2_94" width="11.0" height="1" patternUnits="userSpaceOnUse" patternTransform="matrix(0.932 0 0 1 79.54 0)"><rect width="11.0" height="1" fill="url(#n2)"/></pattern><pattern id="p2_95" width="11.0" height="1" patternUnits="userSpaceOnUse" patternTransform="matrix(0.932 0 0 1 79.60 0)"><rect width="11.0" height="1" fill="url(#n2)"/></pattern><pattern id="p2_96" width="11.0" height="1" patternUnits="userSpaceOnUse" patternTransform="matrix(0.932 0 0 1 79.67 0)"><rect width="11.0" height="1" fill="url(#n2)"/></pattern><pattern id="p2_97" width="11.0" height="1" patternUnits="userSpaceOnUse" patternTransform="matrix(0.924 0 0 1 78.25 0)"><rect width="11.0" height="1" fill="url(#n2)"/></pattern><pattern id="p2_98" width="11.0" height="1" patternUnits="userSpaceOnUse" patternTransform="matrix(0.924 0 0 1 78.76 0)"><rect width="11.0" height="1" fill="url(#n2)"/></pattern><pattern id="p2_99" width="11.0" height="1" patternUnits="userSpaceOnUse" patternTransform="matrix(0.924 0 0 1 79.26 0)"><rect width="11.0" height="1" fill="url(#n2)"/></pattern><pattern id="p2_100" width="11.0" height="1" patternUnits="userSpaceOnUse" patternTransform="matrix(0.958 0 0 1 72.76 0)"><rect width="11.0" height="1" fill="url(#n2)"/></pattern><pattern id="p2_101" width="11.0" height="1" patternUnits="userSpaceOnUse" patternTransform="matrix(0.958 0 0 1 72.05 0)"><rect width="11.0" height="1" fill="url(#n2)"/></pattern><pattern id="p2_102" width="11.0" height="1" patternUnits="userSpaceOnUse" patternTransform="matrix(0.931 0 0 1 77.51 0)"><rect width="11.0" height="1" fill="url(#n2)"/></pattern><pattern id="p2_103" width="11.0" height="1" patternUnits="userSpaceOnUse" patternTransform="matrix(0.931 0 0 1 77.05 0)"><rect width="11.0" height="1" fill="url(#n2)"/></pattern><pattern id="p2_104" width="11.0" height="1" patternUnits="userSpaceOnUse" patternTransform="matrix(0.931 0 0 1 76.60 0)"><rect width="11.0" height="1" fill="url(#n2)"/></pattern><pattern id="p2_105" width="11.0" height="1" patternUnits="userSpaceOnUse" patternTransform="matrix(0.880 0 0 1 73.04 0)"><rect width="11.0" height="1" fill="url(#n2)"/></pattern><pattern id="p2_106" width="11.0" height="1" patternUnits="userSpaceOnUse" patternTransform="matrix(0.880 0 0 1 72.75 0)"><rect width="11.0" height="1" fill="url(#n2)"/></pattern><pattern id="p2_107" width="11.0" height="1" patternUnits="userSpaceOnUse" patternTransform="matrix(0.880 0 0 1 72.46 0)"><rect width="11.0" height="1" fill="url(#n2)"/></pattern><pattern id="p2_108" width="11.0" height="1" patternUnits="userSpaceOnUse" patternTransform="matrix(1.073 0 0 1 79.03 0)"><rect width="11.0" height="1" fill="url(#n2)"/></pattern><pattern id="p2_109" width="11.0" height="1" patternUnits="userSpaceOnUse" patternTransform="matrix(1.073 0 0 1 79.95 0)"><rect width="11.0" height="1" fill="url(#n2)"/></pattern><pattern id="p2_110" width="11.0" height="1" patternUnits="userSpaceOnUse" patternTransform="matrix(1.073 0 0 1 69.86 0)"><rect width="11.0" height="1" fill="url(#n2)"/></pattern><pattern id="p2_111" width="11.0" height="1" patternUnits="userSpaceOnUse" patternTransform="matrix(1.073 0 0 1 74.62 0)"><rect width="11.0" height="1" fill="url(#n2)"/></pattern><pattern id="p2_112" width="11.0" height="1" patternUnits="userSpaceOnUse" patternTransform="matrix(1.073 0 0 1 75.07 0)"><rect width="11.0" height="1" fill="url(#n2)"/></pattern><pattern id="p2_113" width="11.0" height="1" patternUnits="userSpaceOnUse" patternTransform="matrix(0.915 0 0 1 71.80 0)"><rect width="11.0" height="1" fill="url(#n2)"/></pattern><pattern id="p2_114" width="11.0" height="1" patternUnits="userSpaceOnUse" patternTransform="matrix(0.915 0 0 1 71.16 0)"><rect width="11.0" height="1" fill="url(#n2)"/></pattern><pattern id="p2_115" width="11.0" height="1" patternUnits="userSpaceOnUse" patternTransform="matrix(0.915 0 0 1 70.52 0)"><rect width="11.0" height="1" fill="url(#n2)"/></pattern><pattern id="p2_116" width="11.0" height="1" patternUnits="userSpaceOnUse" patternTransform="matrix(0.896 0 0 1 75.84 0)"><rect width="11.0" height="1" fill="url(#n2)"/></pattern><pattern id="p2_117" width="11.0" height="1" patternUnits="userSpaceOnUse" patternTransform="matrix(0.896 0 0 1 76.01 0)"><rect width="11.0" height="1" fill="url(#n2)"/></pattern><pattern id="p2_118" width="11.0" height="1" patternUnits="userSpaceOnUse" patternTransform="matrix(1.045 0 0 1 72.61 0)"><rect width="11.0" height="1" fill="url(#n2)"/></pattern><pattern id="p2_119" width="11.0" height="1" patternUnits="userSpaceOnUse" patternTransform="matrix(1.045 0 0 1 72.98 0)"><rect width="11.0" height="1" fill="url(#n2)"/></pattern><pattern id="p2_120" width="11.0" height="1" patternUnits="userSpaceOnUse" patternTransform="matrix(1.045 0 0 1 73.34 0)"><rect width="11.0" height="1" fill="url(#n2)"/></pattern><pattern id="p2_121" width="11.0" height="1" patternUnits="userSpaceOnUse" patternTransform="matrix(1.037 0 0 1 70.64 0)"><rect width="11.0" height="1" fill="url(#n2)"/></pattern><pattern id="p2_122" width="11.0" height="1" patternUnits="userSpaceOnUse" patternTransform="matrix(1.037 0 0 1 71.52 0)"><rect width="11.0" height="1" fill="url(#n2)"/></pattern><pattern id="p2_123" width="11.0" height="1" patternUnits="userSpaceOnUse" patternTransform="matrix(1.037 0 0 1 72.40 0)"><rect width="11.0" height="1" fill="url(#n2)"/></pattern><pattern id="p2_124" width="11.0" height="1" patternUnits="userSpaceOnUse" patternTransform="matrix(0.844 0 0 1 69.81 0)"><rect width="11.0" height="1" fill="url(#n2)"/></pattern><pattern id="p2_125" width="11.0" height="1" patternUnits="userSpaceOnUse" patternTransform="matrix(0.844 0 0 1 80.04 0)"><rect width="11.0" height="1" fill="url(#n2)"/></pattern><pattern id="p2_126" width="11.0" height="1" patternUnits="userSpaceOnUse" patternTransform="matrix(0.844 0 0 1 79.27 0)"><rect width="11.0" height="1" fill="url(#n2)"/></pattern><pattern id="p2_127" width="11.0" height="1" patternUnits="userSpaceOnUse" patternTransform="matrix(0.901 0 0 1 78.03 0)"><rect width="11.0" height="1" fill="url(#n2)"/></pattern><pattern id="p2_128" width="11.0" height="1" patternUnits="userSpaceOnUse" patternTransform="matrix(0.901 0 0 1 78.16 0)"><rect width="11.0" height="1" fill="url(#n2)"/></pattern><pattern id="p2_129" width="11.0" height="1" patternUnits="userSpaceOnUse" patternTransform="matrix(0.901 0 0 1 78.28 0)"><rect width="11.0" height="1" fill="url(#n2)"/></pattern><pattern id="p2_130" width="11.0" height="1" patternUnits="userSpaceOnUse" patternTransform="matrix(0.952 0 0 1 78.77 0)"><rect width="11.0" height="1" fill="url(#n2)"/></pattern><pattern id="p2_131" width="11.0" height="1" patternUnits="userSpaceOnUse" patternTransform="matrix(0.952 0 0 1 77.70 0)"><rect width="11.0" height="1" fill="url(#n2)"/></pattern><pattern id="p2_132" width="11.0" height="1" patternUnits="userSpaceOnUse" patternTransform="matrix(0.952 0 0 1 76.62 0)"><rect width="11.0" height="1" fill="url(#n2)"/></pattern><pattern id="p2_133" width="11.0" height="1" patternUnits="userSpaceOnUse" patternTransform="matrix(0.952 0 0 1 75.55 0)"><rect width="11.0" height="1" fill="url(#n2)"/></pattern><pattern id="p2_134" width="11.0" height="1" patternUnits="userSpaceOnUse" patternTransform="matrix(0.981 0 0 1 72.54 0)"><rect width="11.0" height="1" fill="url(#n2)"/></pattern><pattern id="p2_135" width="11.0" height="1" patternUnits="userSpaceOnUse" patternTransform="matrix(0.981 0 0 1 73.69 0)"><rect width="11.0" height="1" fill="url(#n2)"/></pattern><pattern id="p2_136" width="11.0" height="1" patternUnits="userSpaceOnUse" patternTransform="matrix(0.981 0 0 1 74.83 0)"><rect width="11.0" height="1" fill="url(#n2)"/></pattern><linearGradient id="lg2"><stop offset="0.0" stop-color="#960000"/><stop offset="0.08" stop-color="#b40005"/><stop offset="0.16" stop-color="#c60c12"/><stop offset="0.19" stop-color="#e16469"/><stop offset="0.215" stop-color="#fae1e1"/><stop offset="0.255" stop-color="#ffffff"/><stop offset="0.29" stop-color="#e1e6fc"/><stop offset="0.315" stop-color="#828cee"/><stop offset="0.345" stop-color="#0f19cd"/><stop offset="0.42" stop-color="#0005be"/><stop offset="0.5" stop-color="#0000a0"/><stop offset="0.58" stop-color="#0005be"/><stop offset="0.655" stop-color="#0f19cd"/><stop offset="0.685" stop-color="#828cee"/><stop offset="0.71" stop-color="#e1e6fc"/><stop offset="0.745" stop-color="#ffffff"/><stop offset="0.785" stop-color="#fae1e1"/><stop offset="0.81" stop-color="#e16469"/><stop offset="0.84" stop-color="#c60c12"/><stop offset="0.92" stop-color="#b40005"/><stop offset="1.0" stop-color="#960000"/></linearGradient><pattern id="lp2" width="11.0" height="1" patternUnits="userSpaceOnUse" patternTransform="translate(69.20 0)"><rect width="11.0" height="1" fill="url(#lg2)"/></pattern><linearGradient id="lmg2"><stop offset="0.0000" stop-color="#fff" stop-opacity="0.000"/><stop offset="0.0125" stop-color="#fff" stop-opacity="0.000"/><stop offset="0.0250" stop-color="#fff" stop-opacity="0.000"/><stop offset="0.0375" stop-color="#fff" stop-opacity="0.000"/><stop offset="0.0500" stop-color="#fff" stop-opacity="0.000"/><stop offset="0.0625" stop-color="#fff" stop-opacity="0.000"/><stop offset="0.0750" stop-color="#fff" stop-opacity="0.001"/><stop offset="0.0875" stop-color="#fff" stop-opacity="0.001"/><stop offset="0.1000" stop-color="#fff" stop-opacity="0.002"/><stop offset="0.1125" stop-color="#fff" stop-opacity="0.003"/><stop offset="0.1250" stop-color="#fff" stop-opacity="0.005"/><stop offset="0.1375" stop-color="#fff" stop-opacity="0.007"/><stop offset="0.1500" stop-color="#fff" stop-opacity="0.011"/><stop offset="0.1625" stop-color="#fff" stop-opacity="0.016"/><stop offset="0.1750" stop-color="#fff" stop-opacity="0.022"/><stop offset="0.1875" stop-color="#fff" stop-opacity="0.032"/><stop offset="0.2000" stop-color="#fff" stop-opacity="0.044"/><stop offset="0.2125" stop-color="#fff" stop-opacity="0.059"/><stop offset="0.2250" stop-color="#fff" stop-opacity="0.078"/><stop offset="0.2375" stop-color="#fff" stop-opacity="0.102"/><stop offset="0.2500" stop-color="#fff" stop-opacity="0.130"/><stop offset="0.2625" stop-color="#fff" stop-opacity="0.163"/><stop offset="0.2750" stop-color="#fff" stop-opacity="0.201"/><stop offset="0.2875" stop-color="#fff" stop-opacity="0.244"/><stop offset="0.3000" stop-color="#fff" stop-opacity="0.291"/><stop offset="0.3125" stop-color="#fff" stop-opacity="0.342"/><stop offset="0.3250" stop-color="#fff" stop-opacity="0.396"/><stop offset="0.3375" stop-color="#fff" stop-opacity="0.452"/><stop offset="0.3500" stop-color="#fff" stop-opacity="0.508"/><stop offset="0.3625" stop-color="#fff" stop-opacity="0.563"/><stop offset="0.3750" stop-color="#fff" stop-opacity="0.616"/><stop offset="0.3875" stop-color="#fff" stop-opacity="0.665"/><stop offset="0.4000" stop-color="#fff" stop-opacity="0.710"/><stop offset="0.4125" stop-color="#fff" stop-opacity="0.750"/><stop offset="0.4250" stop-color="#fff" stop-opacity="0.783"/><stop offset="0.4375" stop-color="#fff" stop-opacity="0.811"/><stop offset="0.4500" stop-color="#fff" stop-opacity="0.831"/><stop offset="0.4625" stop-color="#fff" stop-opacity="0.846"/><stop offset="0.4750" stop-color="#fff" stop-opacity="0.855"/><stop offset="0.4875" stop-color="#fff" stop-opacity="0.859"/><stop offset="0.5000" stop-color="#fff" stop-opacity="0.860"/><stop offset="0.5125" stop-color="#fff" stop-opacity="0.859"/><stop offset="0.5250" stop-color="#fff" stop-opacity="0.855"/><stop offset="0.5375" stop-color="#fff" stop-opacity="0.846"/><stop offset="0.5500" stop-color="#fff" stop-opacity="0.831"/><stop offset="0.5625" stop-color="#fff" stop-opacity="0.811"/><stop offset="0.5750" stop-color="#fff" stop-opacity="0.783"/><stop offset="0.5875" stop-color="#fff" stop-opacity="0.750"/><stop offset="0.6000" stop-color="#fff" stop-opacity="0.710"/><stop offset="0.6125" stop-color="#fff" stop-opacity="0.665"/><stop offset="0.6250" stop-color="#fff" stop-opacity="0.616"/><stop offset="0.6375" stop-color="#fff" stop-opacity="0.563"/><stop offset="0.6500" stop-color="#fff" stop-opacity="0.508"/><stop offset="0.6625" stop-color="#fff" stop-opacity="0.452"/><stop offset="0.6750" stop-color="#fff" stop-opacity="0.396"/><stop offset="0.6875" stop-color="#fff" stop-opacity="0.342"/><stop offset="0.7000" stop-color="#fff" stop-opacity="0.291"/><stop offset="0.7125" stop-color="#fff" stop-opacity="0.244"/><stop offset="0.7250" stop-color="#fff" stop-opacity="0.201"/><stop offset="0.7375" stop-color="#fff" stop-opacity="0.163"/><stop offset="0.7500" stop-color="#fff" stop-opacity="0.130"/><stop offset="0.7625" stop-color="#fff" stop-opacity="0.102"/><stop offset="0.7750" stop-color="#fff" stop-opacity="0.078"/><stop offset="0.7875" stop-color="#fff" stop-opacity="0.059"/><stop offset="0.8000" stop-color="#fff" stop-opacity="0.044"/><stop offset="0.8125" stop-color="#fff" stop-opacity="0.032"/><stop offset="0.8250" stop-color="#fff" stop-opacity="0.022"/><stop offset="0.8375" stop-color="#fff" stop-opacity="0.016"/><stop offset="0.8500" stop-color="#fff" stop-opacity="0.011"/><stop offset="0.8625" stop-color="#fff" stop-opacity="0.007"/><stop offset="0.8750" stop-color="#fff" stop-opacity="0.005"/><stop offset="0.8875" stop-color="#fff" stop-opacity="0.003"/><stop offset="0.9000" stop-color="#fff" stop-opacity="0.002"/><stop offset="0.9125" stop-color="#fff" stop-opacity="0.001"/><stop offset="0.9250" stop-color="#fff" stop-opacity="0.001"/><stop offset="0.9375" stop-color="#fff" stop-opacity="0.000"/><stop offset="0.9500" stop-color="#fff" stop-opacity="0.000"/><stop offset="0.9625" stop-color="#fff" stop-opacity="0.000"/><stop offset="0.9750" stop-color="#fff" stop-opacity="0.000"/><stop offset="0.9875" stop-color="#fff" stop-opacity="0.000"/><stop offset="1.0000" stop-color="#fff" stop-opacity="0.000"/></linearGradient><mask id="lm2" maskUnits="userSpaceOnUse" x="-3" y="0" width="144.4" height="137"><rect width="138.4" height="137" fill="url(#lmg2)"/></mask></defs>
<g transform="translate(62.6 574.4)" filter="url(#blur)"><rect y="0" width="138.4" height="1" fill="url(#p2_0)" fill-opacity="0.56"/><rect y="1" width="138.4" height="1" fill="url(#p2_1)" fill-opacity="0.90"/><rect y="2" width="138.4" height="1" fill="url(#p2_2)" fill-opacity="0.95"/><rect y="3" width="138.4" height="1" fill="url(#p2_3)" fill-opacity="0.52"/><rect y="4" width="138.4" height="1" fill="url(#p2_4)" fill-opacity="0.32"/><rect y="5" width="138.4" height="1" fill="url(#p2_5)" fill-opacity="0.68"/><rect y="6" width="138.4" height="1" fill="url(#p2_6)" fill-opacity="0.36"/><rect y="7" width="138.4" height="1" fill="url(#p2_7)" fill-opacity="0.45"/><rect y="8" width="138.4" height="1" fill="url(#p2_8)" fill-opacity="0.82"/><rect y="9" width="138.4" height="1" fill="url(#p2_9)" fill-opacity="0.82"/><rect y="10" width="138.4" height="1" fill="url(#p2_10)" fill-opacity="0.39"/><rect y="11" width="138.4" height="1" fill="url(#p2_11)" fill-opacity="0.20"/><rect y="12" width="138.4" height="1" fill="url(#p2_12)" fill-opacity="0.53"/><rect y="13" width="138.4" height="1" fill="url(#p2_13)" fill-opacity="0.50"/><rect y="14" width="138.4" height="1" fill="url(#p2_14)" fill-opacity="0.32"/><rect y="15" width="138.4" height="1" fill="url(#p2_15)" fill-opacity="0.39"/><rect y="16" width="138.4" height="1" fill="url(#p2_16)" fill-opacity="0.78"/><rect y="17" width="138.4" height="1" fill="url(#p2_17)" fill-opacity="0.45"/><rect y="18" width="138.4" height="1" fill="url(#p2_18)" fill-opacity="0.40"/><rect y="19" width="138.4" height="1" fill="url(#p2_19)" fill-opacity="0.62"/><rect y="20" width="138.4" height="1" fill="url(#p2_20)" fill-opacity="0.70"/><rect y="21" width="138.4" height="1" fill="url(#p2_21)" fill-opacity="0.25"/><rect y="22" width="138.4" height="1" fill="url(#p2_22)" fill-opacity="0.47"/><rect y="23" width="138.4" height="1" fill="url(#p2_23)" fill-opacity="0.90"/><rect y="24" width="138.4" height="1" fill="url(#p2_24)" fill-opacity="0.58"/><rect y="25" width="138.4" height="1" fill="url(#p2_25)" fill-opacity="0.77"/><rect y="26" width="138.4" height="1" fill="url(#p2_26)" fill-opacity="0.77"/><rect y="27" width="138.4" height="1" fill="url(#p2_27)" fill-opacity="0.47"/><rect y="28" width="138.4" height="1" fill="url(#p2_28)" fill-opacity="0.41"/><rect y="29" width="138.4" height="1" fill="url(#p2_29)" fill-opacity="0.75"/><rect y="30" width="138.4" height="1" fill="url(#p2_30)" fill-opacity="0.69"/><rect y="31" width="138.4" height="1" fill="url(#p2_31)" fill-opacity="0.33"/><rect y="32" width="138.4" height="1" fill="url(#p2_32)" fill-opacity="0.71"/><rect y="33" width="138.4" height="1" fill="url(#p2_33)" fill-opacity="0.36"/><rect y="34" width="138.4" height="1" fill="url(#p2_34)" fill-opacity="0.45"/><rect y="35" width="138.4" height="1" fill="url(#p2_35)" fill-opacity="0.68"/><rect y="36" width="138.4" height="1" fill="url(#p2_36)" fill-opacity="0.47"/><rect y="37" width="138.4" height="1" fill="url(#p2_37)" fill-opacity="0.37"/><rect y="38" width="138.4" height="1" fill="url(#p2_38)" fill-opacity="0.67"/><rect y="39" width="138.4" height="1" fill="url(#p2_39)" fill-opacity="0.35"/><rect y="40" width="138.4" height="1" fill="url(#p2_40)" fill-opacity="0.79"/><rect y="41" width="138.4" height="1" fill="url(#p2_41)" fill-opacity="0.78"/><rect y="42" width="138.4" height="1" fill="url(#p2_42)" fill-opacity="0.36"/><rect y="43" width="138.4" height="1" fill="url(#p2_43)" fill-opacity="0.53"/><rect y="44" width="138.4" height="1" fill="url(#p2_44)" fill-opacity="0.33"/><rect y="45" width="138.4" height="1" fill="url(#p2_45)" fill-opacity="0.41"/><rect y="46" width="138.4" height="1" fill="url(#p2_46)" fill-opacity="0.62"/><rect y="47" width="138.4" height="1" fill="url(#p2_47)" fill-opacity="0.32"/><rect y="48" width="138.4" height="1" fill="url(#p2_48)" fill-opacity="0.76"/><rect y="49" width="138.4" height="1" fill="url(#p2_49)" fill-opacity="0.77"/><rect y="50" width="138.4" height="1" fill="url(#p2_50)" fill-opacity="0.45"/><rect y="51" width="138.4" height="1" fill="url(#p2_51)" fill-opacity="0.87"/><rect y="52" width="138.4" height="1" fill="url(#p2_52)" fill-opacity="0.52"/><rect y="53" width="138.4" height="1" fill="url(#p2_53)" fill-opacity="0.95"/><rect y="54" width="138.4" height="1" fill="url(#p2_54)" fill-opacity="0.97"/><rect y="55" width="138.4" height="1" fill="url(#p2_55)" fill-opacity="0.38"/><rect y="56" width="138.4" height="1" fill="url(#p2_56)" fill-opacity="0.58"/><rect y="57" width="138.4" height="1" fill="url(#p2_57)" fill-opacity="0.39"/><rect y="58" width="138.4" height="1" fill="url(#p2_58)" fill-opacity="0.55"/><rect y="59" width="138.4" height="1" fill="url(#p2_59)" fill-opacity="0.49"/><rect y="60" width="138.4" height="1" fill="url(#p2_60)" fill-opacity="0.44"/><rect y="61" width="138.4" height="1" fill="url(#p2_61)" fill-opacity="0.76"/><rect y="62" width="138.4" height="1" fill="url(#p2_62)" fill-opacity="0.73"/><rect y="63" width="138.4" height="1" fill="url(#p2_63)" fill-opacity="0.33"/><rect y="64" width="138.4" height="1" fill="url(#p2_64)" fill-opacity="0.66"/><rect y="65" width="138.4" height="1" fill="url(#p2_65)" fill-opacity="0.72"/><rect y="66" width="138.4" height="1" fill="url(#p2_66)" fill-opacity="0.42"/><rect y="67" width="138.4" height="1" fill="url(#p2_67)" fill-opacity="0.69"/><rect y="68" width="138.4" height="1" fill="url(#p2_68)" fill-opacity="0.79"/><rect y="69" width="138.4" height="1" fill="url(#p2_69)" fill-opacity="0.43"/><rect y="70" width="138.4" height="1" fill="url(#p2_70)" fill-opacity="0.38"/><rect y="71" width="138.4" height="1" fill="url(#p2_71)" fill-opacity="0.75"/><rect y="72" width="138.4" height="1" fill="url(#p2_72)" fill-opacity="0.44"/><rect y="73" width="138.4" height="1" fill="url(#p2_73)" fill-opacity="0.40"/><rect y="74" width="138.4" height="1" fill="url(#p2_74)" fill-opacity="0.56"/><rect y="75" width="138.4" height="1" fill="url(#p2_75)" fill-opacity="0.38"/><rect y="76" width="138.4" height="1" fill="url(#p2_76)" fill-opacity="0.95"/><rect y="77" width="138.4" height="1" fill="url(#p2_77)" fill-opacity="0.88"/><rect y="78" width="138.4" height="1" fill="url(#p2_78)" fill-opacity="0.39"/><rect y="79" width="138.4" height="1" fill="url(#p2_79)" fill-opacity="0.59"/><rect y="80" width="138.4" height="1" fill="url(#p2_80)" fill-opacity="0.41"/><rect y="81" width="138.4" height="1" fill="url(#p2_81)" fill-opacity="0.48"/><rect y="82" width="138.4" height="1" fill="url(#p2_82)" fill-opacity="0.86"/><rect y="83" width="138.4" height="1" fill="url(#p2_83)" fill-opacity="0.84"/><rect y="84" width="138.4" height="1" fill="url(#p2_84)" fill-opacity="0.51"/><rect y="85" width="138.4" height="1" fill="url(#p2_85)" fill-opacity="0.53"/><rect y="86" width="138.4" height="1" fill="url(#p2_86)" fill-opacity="0.78"/><rect y="87" width="138.4" height="1" fill="url(#p2_87)" fill-opacity="0.58"/><rect y="88" width="138.4" height="1" fill="url(#p2_88)" fill-opacity="0.39"/><rect y="89" width="138.4" height="1" fill="url(#p2_89)" fill-opacity="0.68"/><rect y="90" width="138.4" height="1" fill="url(#p2_90)" fill-opacity="0.48"/><rect y="91" width="138.4" height="1" fill="url(#p2_91)" fill-opacity="0.57"/><rect y="92" width="138.4" height="1" fill="url(#p2_92)" fill-opacity="0.93"/><rect y="93" width="138.4" height="1" fill="url(#p2_93)" fill-opacity="0.56"/><rect y="94" width="138.4" height="1" fill="url(#p2_94)" fill-opacity="0.31"/><rect y="95" width="138.4" height="1" fill="url(#p2_95)" fill-opacity="0.51"/><rect y="96" width="138.4" height="1" fill="url(#p2_96)" fill-opacity="0.29"/><rect y="97" width="138.4" height="1" fill="url(#p2_97)" fill-opacity="0.25"/><rect y="98" width="138.4" height="1" fill="url(#p2_98)" fill-opacity="0.52"/><rect y="99" width="138.4" height="1" fill="url(#p2_99)" fill-opacity="0.26"/><rect y="100" width="138.4" height="1" fill="url(#p2_100)" fill-opacity="0.64"/><rect y="101" width="138.4" height="1" fill="url(#p2_101)" fill-opacity="0.59"/><rect y="102" width="138.4" height="1" fill="url(#p2_102)" fill-opacity="0.31"/><rect y="103" width="138.4" height="1" fill="url(#p2_103)" fill-opacity="0.46"/><rect y="104" width="138.4" height="1" fill="url(#p2_104)" fill-opacity="0.27"/><rect y="105" width="138.4" height="1" fill="url(#p2_105)" fill-opacity="0.29"/><rect y="106" width="138.4" height="1" fill="url(#p2_106)" fill-opacity="0.57"/><rect y="107" width="138.4" height="1" fill="url(#p2_107)" fill-opacity="0.32"/><rect y="108" width="138.4" height="1" fill="url(#p2_108)" fill-opacity="0.40"/><rect y="109" width="138.4" height="1" fill="url(#p2_109)" fill-opacity="0.86"/><rect y="110" width="138.4" height="1" fill="url(#p2_110)" fill-opacity="0.46"/><rect y="111" width="138.4" height="1" fill="url(#p2_111)" fill-opacity="0.59"/><rect y="112" width="138.4" height="1" fill="url(#p2_112)" fill-opacity="0.51"/><rect y="113" width="138.4" height="1" fill="url(#p2_113)" fill-opacity="0.54"/><rect y="114" width="138.4" height="1" fill="url(#p2_114)" fill-opacity="0.72"/><rect y="115" width="138.4" height="1" fill="url(#p2_115)" fill-opacity="0.46"/><rect y="116" width="138.4" height="1" fill="url(#p2_116)" fill-opacity="0.65"/><rect y="117" width="138.4" height="1" fill="url(#p2_117)" fill-opacity="0.69"/><rect y="118" width="138.4" height="1" fill="url(#p2_118)" fill-opacity="0.55"/><rect y="119" width="138.4" height="1" fill="url(#p2_119)" fill-opacity="0.86"/><rect y="120" width="138.4" height="1" fill="url(#p2_120)" fill-opacity="0.48"/><rect y="121" width="138.4" height="1" fill="url(#p2_121)" fill-opacity="0.43"/><rect y="122" width="138.4" height="1" fill="url(#p2_122)" fill-opacity="0.73"/><rect y="123" width="138.4" height="1" fill="url(#p2_123)" fill-opacity="0.35"/><rect y="124" width="138.4" height="1" fill="url(#p2_124)" fill-opacity="0.45"/><rect y="125" width="138.4" height="1" fill="url(#p2_125)" fill-opacity="0.97"/><rect y="126" width="138.4" height="1" fill="url(#p2_126)" fill-opacity="0.55"/><rect y="127" width="138.4" height="1" fill="url(#p2_127)" fill-opacity="0.35"/><rect y="128" width="138.4" height="1" fill="url(#p2_128)" fill-opacity="0.66"/><rect y="129" width="138.4" height="1" fill="url(#p2_129)" fill-opacity="0.32"/><rect y="130" width="138.4" height="1" fill="url(#p2_130)" fill-opacity="0.39"/><rect y="131" width="138.4" height="1" fill="url(#p2_131)" fill-opacity="0.64"/><rect y="132" width="138.4" height="1" fill="url(#p2_132)" fill-opacity="0.70"/><rect y="133" width="138.4" height="1" fill="url(#p2_133)" fill-opacity="0.42"/><rect y="134" width="138.4" height="1" fill="url(#p2_134)" fill-opacity="0.34"/><rect y="135" width="138.4" height="1" fill="url(#p2_135)" fill-opacity="0.50"/><rect y="136" width="138.4" height="1" fill="url(#p2_136)" fill-opacity="0.33"/><g mask="url(#lm2)"><rect y="0" width="138.4" height="1" fill="url(#lp2)" transform="translate(0.10 0)" fill-opacity="1.00"/><rect y="1" width="138.4" height="1" fill="url(#lp2)" transform="translate(0.28 0)" fill-opacity="0.94"/><rect y="2" width="138.4" height="1" fill="url(#lp2)" transform="translate(0.06 0)" fill-opacity="1.00"/><rect y="3" width="138.4" height="1" fill="url(#lp2)" transform="translate(-0.27 0)" fill-opacity="1.00"/><rect y="4" width="138.4" height="1" fill="url(#lp2)" transform="translate(0.27 0)" fill-opacity="1.00"/><rect y="5" width="138.4" height="1" fill="url(#lp2)" transform="translate(-0.04 0)" fill-opacity="0.99"/><rect y="6" width="138.4" height="1" fill="url(#lp2)" transform="translate(-0.25 0)" fill-opacity="0.97"/><rect y="7" width="138.4" height="1" fill="url(#lp2)" transform="translate(-0.13 0)" fill-opacity="0.98"/><rect y="8" width="138.4" height="1" fill="url(#lp2)" transform="translate(-0.11 0)" fill-opacity="0.99"/><rect y="9" width="138.4" height="1" fill="url(#lp2)" transform="translate(0.26 0)" fill-opacity="0.87"/><rect y="10" width="138.4" height="1" fill="url(#lp2)" transform="translate(0.20 0)" fill-opacity="0.81"/><rect y="11" width="138.4" height="1" fill="url(#lp2)" transform="translate(-0.48 0)" fill-opacity="0.96"/><rect y="12" width="138.4" height="1" fill="url(#lp2)" transform="translate(0.00 0)" fill-opacity="1.00"/><rect y="13" width="138.4" height="1" fill="url(#lp2)" transform="translate(-0.36 0)" fill-opacity="0.97"/><rect y="14" width="138.4" height="1" fill="url(#lp2)" transform="translate(0.03 0)" fill-opacity="1.00"/><rect y="15" width="138.4" height="1" fill="url(#lp2)" transform="translate(-0.02 0)" fill-opacity="1.00"/><rect y="16" width="138.4" height="1" fill="url(#lp2)" transform="translate(-0.22 0)" fill-opacity="0.95"/><rect y="17" width="138.4" height="1" fill="url(#lp2)" transform="translate(-0.10 0)" fill-opacity="1.00"/><rect y="18" width="138.4" height="1" fill="url(#lp2)" transform="translate(-0.22 0)" fill-opacity="0.90"/><rect y="19" width="138.4" height="1" fill="url(#lp2)" transform="translate(0.13 0)" fill-opacity="1.00"/><rect y="20" width="138.4" height="1" fill="url(#lp2)" transform="translate(0.08 0)" fill-opacity="0.99"/><rect y="21" width="138.4" height="1" fill="url(#lp2)" transform="translate(-0.08 0)" fill-opacity="1.00"/><rect y="22" width="138.4" height="1" fill="url(#lp2)" transform="translate(0.12 0)" fill-opacity="1.00"/><rect y="23" width="138.4" height="1" fill="url(#lp2)" transform="translate(0.07 0)" fill-opacity="0.89"/><rect y="24" width="138.4" height="1" fill="url(#lp2)" transform="translate(-0.13 0)" fill-opacity="0.89"/><rect y="25" width="138.4" height="1" fill="url(#lp2)" transform="translate(-0.28 0)" fill-opacity="1.00"/><rect y="26" width="138.4" height="1" fill="url(#lp2)" transform="translate(0.18 0)" fill-opacity="0.87"/><rect y="27" width="138.4" height="1" fill="url(#lp2)" transform="translate(0.39 0)" fill-opacity="0.99"/><rect y="28" width="138.4" height="1" fill="url(#lp2)" transform="translate(-0.21 0)" fill-opacity="1.00"/><rect y="29" width="138.4" height="1" fill="url(#lp2)" transform="translate(-0.02 0)" fill-opacity="0.91"/><rect y="30" width="138.4" height="1" fill="url(#lp2)" transform="translate(-0.43 0)" fill-opacity="0.97"/><rect y="31" width="138.4" height="1" fill="url(#lp2)" transform="translate(0.06 0)" fill-opacity="0.76"/><rect y="32" width="138.4" height="1" fill="url(#lp2)" transform="translate(0.12 0)" fill-opacity="1.00"/><rect y="33" width="138.4" height="1" fill="url(#lp2)" transform="translate(-0.10 0)" fill-opacity="0.98"/><rect y="34" width="138.4" height="1" fill="url(#lp2)" transform="translate(-0.06 0)" fill-opacity="0.90"/><rect y="35" width="138.4" height="1" fill="url(#lp2)" transform="translate(-0.08 0)" fill-opacity="1.00"/><rect y="36" width="138.4" height="1" fill="url(#lp2)" transform="translate(-0.32 0)" fill-opacity="0.99"/><rect y="37" width="138.4" height="1" fill="url(#lp2)" transform="translate(0.04 0)" fill-opacity="0.91"/><rect y="38" width="138.4" height="1" fill="url(#lp2)" transform="translate(-0.10 0)" fill-opacity="0.86"/><rect y="39" width="138.4" height="1" fill="url(#lp2)" transform="translate(-0.19 0)" fill-opacity="0.97"/><rect y="40" width="138.4" height="1" fill="url(#lp2)" transform="translate(0.07 0)" fill-opacity="0.90"/><rect y="41" width="138.4" height="1" fill="url(#lp2)" transform="translate(0.67 0)" fill-opacity="0.92"/><rect y="42" width="138.4" height="1" fill="url(#lp2)" transform="translate(0.03 0)" fill-opacity="0.95"/><rect y="43" width="138.4" height="1" fill="url(#lp2)" transform="translate(-0.09 0)" fill-opacity="1.00"/><rect y="44" width="138.4" height="1" fill="url(#lp2)" transform="translate(-0.11 0)" fill-opacity="1.00"/><rect y="45" width="138.4" height="1" fill="url(#lp2)" transform="translate(0.25 0)" fill-opacity="0.89"/><rect y="46" width="138.4" height="1" fill="url(#lp2)" transform="translate(0.23 0)" fill-opacity="0.92"/><rect y="47" width="138.4" height="1" fill="url(#lp2)" transform="translate(0.60 0)" fill-opacity="0.94"/><rect y="48" width="138.4" height="1" fill="url(#lp2)" transform="translate(-0.21 0)" fill-opacity="0.82"/><rect y="49" width="138.4" height="1" fill="url(#lp2)" transform="translate(-0.28 0)" fill-opacity="0.92"/><rect y="50" width="138.4" height="1" fill="url(#lp2)" transform="translate(-0.22 0)" fill-opacity="0.87"/><rect y="51" width="138.4" height="1" fill="url(#lp2)" transform="translate(-0.15 0)" fill-opacity="0.95"/><rect y="52" width="138.4" height="1" fill="url(#lp2)" transform="translate(0.32 0)" fill-opacity="0.83"/><rect y="53" width="138.4" height="1" fill="url(#lp2)" transform="translate(-0.12 0)" fill-opacity="0.89"/><rect y="54" width="138.4" height="1" fill="url(#lp2)" transform="translate(-0.33 0)" fill-opacity="0.87"/><rect y="55" width="138.4" height="1" fill="url(#lp2)" transform="translate(-0.20 0)" fill-opacity="1.00"/><rect y="56" width="138.4" height="1" fill="url(#lp2)" transform="translate(-0.04 0)" fill-opacity="0.93"/><rect y="57" width="138.4" height="1" fill="url(#lp2)" transform="translate(0.13 0)" fill-opacity="0.99"/><rect y="58" width="138.4" height="1" fill="url(#lp2)" transform="translate(-0.05 0)" fill-opacity="1.00"/><rect y="59" width="138.4" height="1" fill="url(#lp2)" transform="translate(-0.18 0)" fill-opacity="1.00"/><rect y="60" width="138.4" height="1" fill="url(#lp2)" transform="translate(0.10 0)" fill-opacity="0.94"/><rect y="61" width="138.4" height="1" fill="url(#lp2)" transform="translate(-0.27 0)" fill-opacity="1.00"/><rect y="62" width="138.4" height="1" fill="url(#lp2)" transform="translate(0.02 0)" fill-opacity="1.00"/><rect y="63" width="138.4" height="1" fill="url(#lp2)" transform="translate(-0.14 0)" fill-opacity="1.00"/><rect y="64" width="138.4" height="1" fill="url(#lp2)" transform="translate(-0.10 0)" fill-opacity="0.99"/><rect y="65" width="138.4" height="1" fill="url(#lp2)" transform="translate(0.18 0)" fill-opacity="0.91"/><rect y="66" width="138.4" height="1" fill="url(#lp2)" transform="translate(-0.02 0)" fill-opacity="0.98"/><rect y="67" width="138.4" height="1" fill="url(#lp2)" transform="translate(0.02 0)" fill-opacity="1.00"/><rect y="68" width="138.4" height="1" fill="url(#lp2)" transform="translate(0.23 0)" fill-opacity="1.00"/><rect y="69" width="138.4" height="1" fill="url(#lp2)" transform="translate(0.06 0)" fill-opacity="0.94"/><rect y="70" width="138.4" height="1" fill="url(#lp2)" transform="translate(-0.25 0)" fill-opacity="0.91"/><rect y="71" width="138.4" height="1" fill="url(#lp2)" transform="translate(-0.12 0)" fill-opacity="1.00"/><rect y="72" width="138.4" height="1" fill="url(#lp2)" transform="translate(-0.08 0)" fill-opacity="0.87"/><rect y="73" width="138.4" height="1" fill="url(#lp2)" transform="translate(0.14 0)" fill-opacity="0.91"/><rect y="74" width="138.4" height="1" fill="url(#lp2)" transform="translate(-0.17 0)" fill-opacity="0.95"/><rect y="75" width="138.4" height="1" fill="url(#lp2)" transform="translate(0.10 0)" fill-opacity="0.78"/><rect y="76" width="138.4" height="1" fill="url(#lp2)" transform="translate(-0.25 0)" fill-opacity="0.98"/><rect y="77" width="138.4" height="1" fill="url(#lp2)" transform="translate(-0.08 0)" fill-opacity="0.90"/><rect y="78" width="138.4" height="1" fill="url(#lp2)" transform="translate(-0.12 0)" fill-opacity="1.00"/><rect y="79" width="138.4" height="1" fill="url(#lp2)" transform="translate(-0.10 0)" fill-opacity="1.00"/><rect y="80" width="138.4" height="1" fill="url(#lp2)" transform="translate(0.17 0)" fill-opacity="0.93"/><rect y="81" width="138.4" height="1" fill="url(#lp2)" transform="translate(0.10 0)" fill-opacity="0.93"/><rect y="82" width="138.4" height="1" fill="url(#lp2)" transform="translate(-0.13 0)" fill-opacity="0.88"/><rect y="83" width="138.4" height="1" fill="url(#lp2)" transform="translate(0.19 0)" fill-opacity="0.94"/><rect y="84" width="138.4" height="1" fill="url(#lp2)" transform="translate(-0.12 0)" fill-opacity="0.88"/><rect y="85" width="138.4" height="1" fill="url(#lp2)" transform="translate(0.40 0)" fill-opacity="1.00"/><rect y="86" width="138.4" height="1" fill="url(#lp2)" transform="translate(-0.03 0)" fill-opacity="0.91"/><rect y="87" width="138.4" height="1" fill="url(#lp2)" transform="translate(-0.34 0)" fill-opacity="0.99"/><rect y="88" width="138.4" height="1" fill="url(#lp2)" transform="translate(0.06 0)" fill-opacity="0.86"/><rect y="89" width="138.4" height="1" fill="url(#lp2)" transform="translate(0.26 0)" fill-opacity="1.00"/><rect y="90" width="138.4" height="1" fill="url(#lp2)" transform="translate(-0.21 0)" fill-opacity="0.93"/><rect y="91" width="138.4" height="1" fill="url(#lp2)" transform="translate(-0.09 0)" fill-opacity="0.98"/><rect y="92" width="138.4" height="1" fill="url(#lp2)" transform="translate(-0.03 0)" fill-opacity="0.84"/><rect y="93" width="138.4" height="1" fill="url(#lp2)" transform="translate(0.32 0)" fill-opacity="1.00"/><rect y="94" width="138.4" height="1" fill="url(#lp2)" transform="translate(0.28 0)" fill-opacity="1.00"/><rect y="95" width="138.4" height="1" fill="url(#lp2)" transform="translate(-0.05 0)" fill-opacity="1.00"/><rect y="96" width="138.4" height="1" fill="url(#lp2)" transform="translate(0.16 0)" fill-opacity="1.00"/><rect y="97" width="138.4" height="1" fill="url(#lp2)" transform="translate(-0.04 0)" fill-opacity="0.92"/><rect y="98" width="138.4" height="1" fill="url(#lp2)" transform="translate(0.01 0)" fill-opacity="0.91"/><rect y="99" width="138.4" height="1" fill="url(#lp2)" transform="translate(-0.12 0)" fill-opacity="0.81"/><rect y="100" width="138.4" height="1" fill="url(#lp2)" transform="translate(0.02 0)" fill-opacity="0.89"/><rect y="101" width="138.4" height="1" fill="url(#lp2)" transform="translate(-0.12 0)" fill-opacity="0.97"/><rect y="102" width="138.4" height="1" fill="url(#lp2)" transform="translate(0.07 0)" fill-opacity="1.00"/><rect y="103" width="138.4" height="1" fill="url(#lp2)" transform="translate(0.04 0)" fill-opacity="0.86"/><rect y="104" width="138.4" height="1" fill="url(#lp2)" transform="translate(0.03 0)" fill-opacity="0.92"/><rect y="105" width="138.4" height="1" fill="url(#lp2)" transform="translate(0.09 0)" fill-opacity="0.92"/><rect y="106" width="138.4" height="1" fill="url(#lp2)" transform="translate(-0.16 0)" fill-opacity="0.93"/><rect y="107" width="138.4" height="1" fill="url(#lp2)" transform="translate(-0.14 0)" fill-opacity="0.82"/><rect y="108" width="138.4" height="1" fill="url(#lp2)" transform="translate(-0.15 0)" fill-opacity="0.97"/><rect y="109" width="138.4" height="1" fill="url(#lp2)" transform="translate(0.26 0)" fill-opacity="0.95"/><rect y="110" width="138.4" height="1" fill="url(#lp2)" transform="translate(-0.08 0)" fill-opacity="1.00"/><rect y="111" width="138.4" height="1" fill="url(#lp2)" transform="translate(0.12 0)" fill-opacity="1.00"/><rect y="112" width="138.4" height="1" fill="url(#lp2)" transform="translate(0.13 0)" fill-opacity="0.97"/><rect y="113" width="138.4" height="1" fill="url(#lp2)" transform="translate(0.29 0)" fill-opacity="1.00"/><rect y="114" width="138.4" height="1" fill="url(#lp2)" transform="translate(-0.10 0)" fill-opacity="0.98"/><rect y="115" width="138.4" height="1" fill="url(#lp2)" transform="translate(-0.37 0)" fill-opacity="0.94"/><rect y="116" width="138.4" height="1" fill="url(#lp2)" transform="translate(-0.19 0)" fill-opacity="0.95"/><rect y="117" width="138.4" height="1" fill="url(#lp2)" transform="translate(-0.11 0)" fill-opacity="0.96"/><rect y="118" width="138.4" height="1" fill="url(#lp2)" transform="translate(-0.02 0)" fill-opacity="1.00"/><rect y="119" width="138.4" height="1" fill="url(#lp2)" transform="translate(0.05 0)" fill-opacity="0.93"/><rect y="120" width="138.4" height="1" fill="url(#lp2)" transform="translate(-0.28 0)" fill-opacity="1.00"/><rect y="121" width="138.4" height="1" fill="url(#lp2)" transform="translate(0.31 0)" fill-opacity="0.93"/><rect y="122" width="138.4" height="1" fill="url(#lp2)" transform="translate(0.12 0)" fill-opacity="0.85"/><rect y="123" width="138.4" height="1" fill="url(#lp2)" transform="translate(-0.34 0)" fill-opacity="0.95"/><rect y="124" width="138.4" height="1" fill="url(#lp2)" transform="translate(0.32 0)" fill-opacity="0.89"/><rect y="125" width="138.4" height="1" fill="url(#lp2)" transform="translate(-0.18 0)" fill-opacity="1.00"/><rect y="126" width="138.4" height="1" fill="url(#lp2)" transform="translate(-0.42 0)" fill-opacity="1.00"/><rect y="127" width="138.4" height="1" fill="url(#lp2)" transform="translate(0.11 0)" fill-opacity="0.95"/><rect y="128" width="138.4" height="1" fill="url(#lp2)" transform="translate(0.04 0)" fill-opacity="1.00"/><rect y="129" width="138.4" height="1" fill="url(#lp2)" transform="translate(-0.25 0)" fill-opacity="0.94"/><rect y="130" width="138.4" height="1" fill="url(#lp2)" transform="translate(-0.05 0)" fill-opacity="0.91"/><rect y="131" width="138.4" height="1" fill="url(#lp2)" transform="translate(-0.30 0)" fill-opacity="1.00"/><rect y="132" width="138.4" height="1" fill="url(#lp2)" transform="translate(0.05 0)" fill-opacity="0.83"/><rect y="133" width="138.4" height="1" fill="url(#lp2)" transform="translate(-0.15 0)" fill-opacity="1.00"/><rect y="134" width="138.4" height="1" fill="url(#lp2)" transform="translate(0.09 0)" fill-opacity="0.85"/><rect y="135" width="138.4" height="1" fill="url(#lp2)" transform="translate(-0.02 0)" fill-opacity="0.99"/><rect y="136" width="138.4" height="1" fill="url(#lp2)" transform="translate(0.09 0)" fill-opacity="1.00"/></g><rect y="18" width="138.4" height="0.6" fill="#1a2a80" fill-opacity="0.39"/><rect y="76" width="138.4" height="0.6" fill="#1a2a80" fill-opacity="0.24"/><rect y="88" width="138.4" height="0.6" fill="#1a2a80" fill-opacity="0.27"/><rect y="15" width="138.4" height="0.6" fill="#1a2a80" fill-opacity="0.23"/><rect y="92" width="138.4" height="0.6" fill="#1a2a80" fill-opacity="0.40"/><rect y="76" width="138.4" height="0.6" fill="#1a2a80" fill-opacity="0.23"/><rect y="84" width="138.4" height="0.6" fill="#801020" fill-opacity="0.21"/><rect y="108" width="138.4" height="0.6" fill="#1a2a80" fill-opacity="0.32"/><rect y="121" width="138.4" height="0.6" fill="#801020" fill-opacity="0.19"/><rect y="125" width="138.4" height="0.6" fill="#801020" fill-opacity="0.19"/><rect y="126" width="138.4" height="0.6" fill="#1a2a80" fill-opacity="0.28"/><rect y="46" width="138.4" height="0.6" fill="#1a2a80" fill-opacity="0.21"/><rect y="42" width="138.4" height="0.6" fill="#801020" fill-opacity="0.26"/><rect y="66" width="138.4" height="0.6" fill="#1a2a80" fill-opacity="0.19"/><rect y="14" width="138.4" height="0.6" fill="#801020" fill-opacity="0.29"/><rect y="79" width="138.4" height="0.6" fill="#1a2a80" fill-opacity="0.31"/><rect y="53" width="138.4" height="0.6" fill="#1a2a80" fill-opacity="0.16"/><rect y="52" width="138.4" height="0.8" fill="#fff" fill-opacity="0.30"/><rect y="130" width="138.4" height="0.8" fill="#fff" fill-opacity="0.31"/><rect y="40" width="138.4" height="0.8" fill="#fff" fill-opacity="0.50"/><rect y="96" width="138.4" height="0.8" fill="#fff" fill-opacity="0.28"/><rect y="116" width="138.4" height="0.8" fill="#fff" fill-opacity="0.46"/><rect y="55" width="138.4" height="0.8" fill="#fff" fill-opacity="0.27"/><rect y="97" width="138.4" height="0.8" fill="#fff" fill-opacity="0.40"/><rect y="34" width="138.4" height="0.8" fill="#fff" fill-opacity="0.46"/><rect y="124" width="138.4" height="0.8" fill="#fff" fill-opacity="0.35"/><rect y="14" width="138.4" height="0.8" fill="#fff" fill-opacity="0.40"/><rect y="115" width="138.4" height="0.8" fill="#fff" fill-opacity="0.38"/><rect y="74" width="138.4" height="0.8" fill="#fff" fill-opacity="0.50"/><rect y="80" width="138.4" height="0.8" fill="#fff" fill-opacity="0.30"/></g>
<rect x="62.6" y="574.4" width="138.4" height="137" fill="none" stroke="#8890a8" stroke-width="0.8"/>
<line x1="60.1" y1="601.3" x2="62.6" y2="601.3" stroke="#555" stroke-width="1"/>
<text x="56.1" y="607.5" font-size="12.7" text-anchor="end">2000</text>
<line x1="60.1" y1="629.3" x2="62.6" y2="629.3" stroke="#555" stroke-width="1"/>
<line x1="60.1" y1="657.4" x2="62.6" y2="657.4" stroke="#555" stroke-width="1"/>
<text x="56.1" y="663.6" font-size="12.7" text-anchor="end">1000</text>
<line x1="60.1" y1="685.4" x2="62.6" y2="685.4" stroke="#555" stroke-width="1"/>
<line x1="62.6" y1="711.5" x2="62.6" y2="714.0" stroke="#555" stroke-width="0.8"/>
<line x1="79.9" y1="711.5" x2="79.9" y2="713.0" stroke="#555" stroke-width="0.8"/>
<line x1="97.2" y1="711.5" x2="97.2" y2="714.0" stroke="#555" stroke-width="0.8"/>
<line x1="114.5" y1="711.5" x2="114.5" y2="713.0" stroke="#555" stroke-width="0.8"/>
<line x1="131.8" y1="711.5" x2="131.8" y2="714.0" stroke="#555" stroke-width="0.8"/>
<line x1="149.1" y1="711.5" x2="149.1" y2="713.0" stroke="#555" stroke-width="0.8"/>
<line x1="166.4" y1="711.5" x2="166.4" y2="714.0" stroke="#555" stroke-width="0.8"/>
<line x1="183.70000000000002" y1="711.5" x2="183.70000000000002" y2="713.0" stroke="#555" stroke-width="0.8"/>
<line x1="201.0" y1="711.5" x2="201.0" y2="714.0" stroke="#555" stroke-width="0.8"/>
<text x="57.6" y="726.2" font-size="12.4" text-anchor="middle">-40</text>
<text x="94.4" y="726.2" font-size="12.4" text-anchor="middle">-20</text>
<text x="130.3" y="726.2" font-size="12.4" text-anchor="middle">0</text>
<text x="164.8" y="726.2" font-size="12.4" text-anchor="middle">20</text>
<text x="200.4" y="726.2" font-size="12.4" text-anchor="middle">40</text>
<text x="132.10000000000002" y="741.8" font-size="12.5" text-anchor="middle" letter-spacing="1.2">ms</text>
<defs><linearGradient id="n3"><stop offset="0.000" stop-color="#a70106"/><stop offset="0.031" stop-color="#aa0207"/><stop offset="0.062" stop-color="#b30408"/><stop offset="0.094" stop-color="#c2070b"/><stop offset="0.125" stop-color="#d32a2e"/><stop offset="0.156" stop-color="#e66469"/><stop offset="0.188" stop-color="#f29ea2"/><stop offset="0.219" stop-color="#fad5d7"/><stop offset="0.250" stop-color="#ffffff"/><stop offset="0.281" stop-color="#d2d9fb"/><stop offset="0.312" stop-color="#92a1f3"/><stop offset="0.344" stop-color="#5264e6"/><stop offset="0.375" stop-color="#212cd3"/><stop offset="0.406" stop-color="#040ac2"/><stop offset="0.438" stop-color="#0206b3"/><stop offset="0.469" stop-color="#0103aa"/><stop offset="0.500" stop-color="#0102a7"/><stop offset="0.531" stop-color="#0103aa"/><stop offset="0.562" stop-color="#0206b3"/><stop offset="0.594" stop-color="#040ac2"/><stop offset="0.625" stop-color="#212cd3"/><stop offset="0.656" stop-color="#5264e6"/><stop offset="0.688" stop-color="#92a1f3"/><stop offset="0.719" stop-color="#d2d9fb"/><stop offset="0.750" stop-color="#ffffff"/><stop offset="0.781" stop-color="#fad5d7"/><stop offset="0.812" stop-color="#f29ea2"/><stop offset="0.844" stop-color="#e66469"/><stop offset="0.875" stop-color="#d32a2e"/><stop offset="0.906" stop-color="#c2070b"/><stop offset="0.938" stop-color="#b30408"/><stop offset="0.969" stop-color="#aa0207"/><stop offset="1.000" stop-color="#a70106"/></linearGradient><pattern id="p3_0" width="11.0" height="1" patternUnits="userSpaceOnUse" patternTransform="matrix(1.038 0 0 1 75.45 0)"><rect width="11.0" height="1" fill="url(#n3)"/></pattern><pattern id="p3_1" width="11.0" height="1" patternUnits="userSpaceOnUse" patternTransform="matrix(1.038 0 0 1 73.92 0)"><rect width="11.0" height="1" fill="url(#n3)"/></pattern><pattern id="p3_2" width="11.0" height="1" patternUnits="userSpaceOnUse" patternTransform="matrix(1.038 0 0 1 72.39 0)"><rect width="11.0" height="1" fill="url(#n3)"/></pattern><pattern id="p3_3" width="11.0" height="1" patternUnits="userSpaceOnUse" patternTransform="matrix(1.038 0 0 1 70.85 0)"><rect width="11.0" height="1" fill="url(#n3)"/></pattern><pattern id="p3_4" width="11.0" height="1" patternUnits="userSpaceOnUse" patternTransform="matrix(1.020 0 0 1 74.73 0)"><rect width="11.0" height="1" fill="url(#n3)"/></pattern><pattern id="p3_5" width="11.0" height="1" patternUnits="userSpaceOnUse" patternTransform="matrix(1.020 0 0 1 76.73 0)"><rect width="11.0" height="1" fill="url(#n3)"/></pattern><pattern id="p3_6" width="11.0" height="1" patternUnits="userSpaceOnUse" patternTransform="matrix(0.979 0 0 1 76.71 0)"><rect width="11.0" height="1" fill="url(#n3)"/></pattern><pattern id="p3_7" width="11.0" height="1" patternUnits="userSpaceOnUse" patternTransform="matrix(0.979 0 0 1 77.00 0)"><rect width="11.0" height="1" fill="url(#n3)"/></pattern><pattern id="p3_8" width="11.0" height="1" patternUnits="userSpaceOnUse" patternTransform="matrix(0.979 0 0 1 77.29 0)"><rect width="11.0" height="1" fill="url(#n3)"/></pattern><pattern id="p3_9" width="11.0" height="1" patternUnits="userSpaceOnUse" patternTransform="matrix(0.984 0 0 1 75.49 0)"><rect width="11.0" height="1" fill="url(#n3)"/></pattern><pattern id="p3_10" width="11.0" height="1" patternUnits="userSpaceOnUse" patternTransform="matrix(0.984 0 0 1 75.18 0)"><rect width="11.0" height="1" fill="url(#n3)"/></pattern><pattern id="p3_11" width="11.0" height="1" patternUnits="userSpaceOnUse" patternTransform="matrix(0.984 0 0 1 74.88 0)"><rect width="11.0" height="1" fill="url(#n3)"/></pattern><pattern id="p3_12" width="11.0" height="1" patternUnits="userSpaceOnUse" patternTransform="matrix(0.984 0 0 1 74.58 0)"><rect width="11.0" height="1" fill="url(#n3)"/></pattern><pattern id="p3_13" width="11.0" height="1" patternUnits="userSpaceOnUse" patternTransform="matrix(1.052 0 0 1 75.98 0)"><rect width="11.0" height="1" fill="url(#n3)"/></pattern><pattern id="p3_14" width="11.0" height="1" patternUnits="userSpaceOnUse" patternTransform="matrix(1.052 0 0 1 76.51 0)"><rect width="11.0" height="1" fill="url(#n3)"/></pattern><pattern id="p3_15" width="11.0" height="1" patternUnits="userSpaceOnUse" patternTransform="matrix(1.052 0 0 1 77.04 0)"><rect width="11.0" height="1" fill="url(#n3)"/></pattern><pattern id="p3_16" width="11.0" height="1" patternUnits="userSpaceOnUse" patternTransform="matrix(1.025 0 0 1 76.56 0)"><rect width="11.0" height="1" fill="url(#n3)"/></pattern><pattern id="p3_17" width="11.0" height="1" patternUnits="userSpaceOnUse" patternTransform="matrix(1.025 0 0 1 75.56 0)"><rect width="11.0" height="1" fill="url(#n3)"/></pattern><pattern id="p3_18" width="11.0" height="1" patternUnits="userSpaceOnUse" patternTransform="matrix(1.025 0 0 1 74.56 0)"><rect width="11.0" height="1" fill="url(#n3)"/></pattern><pattern id="p3_19" width="11.0" height="1" patternUnits="userSpaceOnUse" patternTransform="matrix(1.017 0 0 1 74.33 0)"><rect width="11.0" height="1" fill="url(#n3)"/></pattern><pattern id="p3_20" width="11.0" height="1" patternUnits="userSpaceOnUse" patternTransform="matrix(1.017 0 0 1 74.77 0)"><rect width="11.0" height="1" fill="url(#n3)"/></pattern><pattern id="p3_21" width="11.0" height="1" patternUnits="userSpaceOnUse" patternTransform="matrix(1.017 0 0 1 75.22 0)"><rect width="11.0" height="1" fill="url(#n3)"/></pattern><pattern id="p3_22" width="11.0" height="1" patternUnits="userSpaceOnUse" patternTransform="matrix(0.930 0 0 1 73.45 0)"><rect width="11.0" height="1" fill="url(#n3)"/></pattern><pattern id="p3_23" width="11.0" height="1" patternUnits="userSpaceOnUse" patternTransform="matrix(0.930 0 0 1 73.32 0)"><rect width="11.0" height="1" fill="url(#n3)"/></pattern><pattern id="p3_24" width="11.0" height="1" patternUnits="userSpaceOnUse" patternTransform="matrix(0.913 0 0 1 79.18 0)"><rect width="11.0" height="1" fill="url(#n3)"/></pattern><pattern id="p3_25" width="11.0" height="1" patternUnits="userSpaceOnUse" patternTransform="matrix(0.913 0 0 1 79.22 0)"><rect width="11.0" height="1" fill="url(#n3)"/></pattern><pattern id="p3_26" width="11.0" height="1" patternUnits="userSpaceOnUse" patternTransform="matrix(0.806 0 0 1 77.71 0)"><rect width="11.0" height="1" fill="url(#n3)"/></pattern><pattern id="p3_27" width="11.0" height="1" patternUnits="userSpaceOnUse" patternTransform="matrix(0.806 0 0 1 78.40 0)"><rect width="11.0" height="1" fill="url(#n3)"/></pattern><pattern id="p3_28" width="11.0" height="1" patternUnits="userSpaceOnUse" patternTransform="matrix(0.806 0 0 1 79.10 0)"><rect width="11.0" height="1" fill="url(#n3)"/></pattern><pattern id="p3_29" width="11.0" height="1" patternUnits="userSpaceOnUse" patternTransform="matrix(1.127 0 0 1 70.44 0)"><rect width="11.0" height="1" fill="url(#n3)"/></pattern><pattern id="p3_30" width="11.0" height="1" patternUnits="userSpaceOnUse" patternTransform="matrix(1.127 0 0 1 69.82 0)"><rect width="11.0" height="1" fill="url(#n3)"/></pattern><pattern id="p3_31" width="11.0" height="1" patternUnits="userSpaceOnUse" patternTransform="matrix(1.127 0 0 1 69.19 0)"><rect width="11.0" height="1" fill="url(#n3)"/></pattern><pattern id="p3_32" width="11.0" height="1" patternUnits="userSpaceOnUse" patternTransform="matrix(1.102 0 0 1 75.04 0)"><rect width="11.0" height="1" fill="url(#n3)"/></pattern><pattern id="p3_33" width="11.0" height="1" patternUnits="userSpaceOnUse" patternTransform="matrix(1.102 0 0 1 75.50 0)"><rect width="11.0" height="1" fill="url(#n3)"/></pattern><pattern id="p3_34" width="11.0" height="1" patternUnits="userSpaceOnUse" patternTransform="matrix(0.946 0 0 1 76.41 0)"><rect width="11.0" height="1" fill="url(#n3)"/></pattern><pattern id="p3_35" width="11.0" height="1" patternUnits="userSpaceOnUse" patternTransform="matrix(0.946 0 0 1 75.53 0)"><rect width="11.0" height="1" fill="url(#n3)"/></pattern><pattern id="p3_36" width="11.0" height="1" patternUnits="userSpaceOnUse" patternTransform="matrix(0.946 0 0 1 74.66 0)"><rect width="11.0" height="1" fill="url(#n3)"/></pattern><pattern id="p3_37" width="11.0" height="1" patternUnits="userSpaceOnUse" patternTransform="matrix(1.109 0 0 1 74.95 0)"><rect width="11.0" height="1" fill="url(#n3)"/></pattern><pattern id="p3_38" width="11.0" height="1" patternUnits="userSpaceOnUse" patternTransform="matrix(1.109 0 0 1 74.95 0)"><rect width="11.0" height="1" fill="url(#n3)"/></pattern><pattern id="p3_39" width="11.0" height="1" patternUnits="userSpaceOnUse" patternTransform="matrix(1.109 0 0 1 74.94 0)"><rect width="11.0" height="1" fill="url(#n3)"/></pattern><pattern id="p3_40" width="11.0" height="1" patternUnits="userSpaceOnUse" patternTransform="matrix(1.012 0 0 1 73.24 0)"><rect width="11.0" height="1" fill="url(#n3)"/></pattern><pattern id="p3_41" width="11.0" height="1" patternUnits="userSpaceOnUse" patternTransform="matrix(1.012 0 0 1 72.76 0)"><rect width="11.0" height="1" fill="url(#n3)"/></pattern><pattern id="p3_42" width="11.0" height="1" patternUnits="userSpaceOnUse" patternTransform="matrix(1.135 0 0 1 70.08 0)"><rect width="11.0" height="1" fill="url(#n3)"/></pattern><pattern id="p3_43" width="11.0" height="1" patternUnits="userSpaceOnUse" patternTransform="matrix(1.135 0 0 1 70.98 0)"><rect width="11.0" height="1" fill="url(#n3)"/></pattern><pattern id="p3_44" width="11.0" height="1" patternUnits="userSpaceOnUse" patternTransform="matrix(1.135 0 0 1 71.87 0)"><rect width="11.0" height="1" fill="url(#n3)"/></pattern><pattern id="p3_45" width="11.0" height="1" patternUnits="userSpaceOnUse" patternTransform="matrix(0.883 0 0 1 77.99 0)"><rect width="11.0" height="1" fill="url(#n3)"/></pattern><pattern id="p3_46" width="11.0" height="1" patternUnits="userSpaceOnUse" patternTransform="matrix(0.883 0 0 1 78.63 0)"><rect width="11.0" height="1" fill="url(#n3)"/></pattern><pattern id="p3_47" width="11.0" height="1" patternUnits="userSpaceOnUse" patternTransform="matrix(0.982 0 0 1 75.34 0)"><rect width="11.0" height="1" fill="url(#n3)"/></pattern><pattern id="p3_48" width="11.0" height="1" patternUnits="userSpaceOnUse" patternTransform="matrix(0.982 0 0 1 76.57 0)"><rect width="11.0" height="1" fill="url(#n3)"/></pattern><pattern id="p3_49" width="11.0" height="1" patternUnits="userSpaceOnUse" patternTransform="matrix(0.982 0 0 1 77.79 0)"><rect width="11.0" height="1" fill="url(#n3)"/></pattern><pattern id="p3_50" width="11.0" height="1" patternUnits="userSpaceOnUse" patternTransform="matrix(0.982 0 0 1 79.02 0)"><rect width="11.0" height="1" fill="url(#n3)"/></pattern><pattern id="p3_51" width="11.0" height="1" patternUnits="userSpaceOnUse" patternTransform="matrix(1.135 0 0 1 70.91 0)"><rect width="11.0" height="1" fill="url(#n3)"/></pattern><pattern id="p3_52" width="11.0" height="1" patternUnits="userSpaceOnUse" patternTransform="matrix(1.135 0 0 1 70.42 0)"><rect width="11.0" height="1" fill="url(#n3)"/></pattern><pattern id="p3_53" width="11.0" height="1" patternUnits="userSpaceOnUse" patternTransform="matrix(1.135 0 0 1 69.93 0)"><rect width="11.0" height="1" fill="url(#n3)"/></pattern><pattern id="p3_54" width="11.0" height="1" patternUnits="userSpaceOnUse" patternTransform="matrix(1.135 0 0 1 69.44 0)"><rect width="11.0" height="1" fill="url(#n3)"/></pattern><pattern id="p3_55" width="11.0" height="1" patternUnits="userSpaceOnUse" patternTransform="matrix(1.222 0 0 1 70.67 0)"><rect width="11.0" height="1" fill="url(#n3)"/></pattern><pattern id="p3_56" width="11.0" height="1" patternUnits="userSpaceOnUse" patternTransform="matrix(1.222 0 0 1 70.96 0)"><rect width="11.0" height="1" fill="url(#n3)"/></pattern><pattern id="p3_57" width="11.0" height="1" patternUnits="userSpaceOnUse" patternTransform="matrix(1.222 0 0 1 71.25 0)"><rect width="11.0" height="1" fill="url(#n3)"/></pattern><pattern id="p3_58" width="11.0" height="1" patternUnits="userSpaceOnUse" patternTransform="matrix(1.030 0 0 1 76.40 0)"><rect width="11.0" height="1" fill="url(#n3)"/></pattern><pattern id="p3_59" width="11.0" height="1" patternUnits="userSpaceOnUse" patternTransform="matrix(1.030 0 0 1 76.41 0)"><rect width="11.0" height="1" fill="url(#n3)"/></pattern><pattern id="p3_60" width="11.0" height="1" patternUnits="userSpaceOnUse" patternTransform="matrix(1.030 0 0 1 76.41 0)"><rect width="11.0" height="1" fill="url(#n3)"/></pattern><pattern id="p3_61" width="11.0" height="1" patternUnits="userSpaceOnUse" patternTransform="matrix(0.957 0 0 1 70.96 0)"><rect width="11.0" height="1" fill="url(#n3)"/></pattern><pattern id="p3_62" width="11.0" height="1" patternUnits="userSpaceOnUse" patternTransform="matrix(0.957 0 0 1 70.49 0)"><rect width="11.0" height="1" fill="url(#n3)"/></pattern><pattern id="p3_63" width="11.0" height="1" patternUnits="userSpaceOnUse" patternTransform="matrix(0.957 0 0 1 70.02 0)"><rect width="11.0" height="1" fill="url(#n3)"/></pattern><pattern id="p3_64" width="11.0" height="1" patternUnits="userSpaceOnUse" patternTransform="matrix(0.957 0 0 1 69.55 0)"><rect width="11.0" height="1" fill="url(#n3)"/></pattern><pattern id="p3_65" width="11.0" height="1" patternUnits="userSpaceOnUse" patternTransform="matrix(0.812 0 0 1 76.41 0)"><rect width="11.0" height="1" fill="url(#n3)"/></pattern><pattern id="p3_66" width="11.0" height="1" patternUnits="userSpaceOnUse" patternTransform="matrix(0.812 0 0 1 77.43 0)"><rect width="11.0" height="1" fill="url(#n3)"/></pattern><pattern id="p3_67" width="11.0" height="1" patternUnits="userSpaceOnUse" patternTransform="matrix(1.094 0 0 1 77.47 0)"><rect width="11.0" height="1" fill="url(#n3)"/></pattern><pattern id="p3_68" width="11.0" height="1" patternUnits="userSpaceOnUse" patternTransform="matrix(1.094 0 0 1 78.12 0)"><rect width="11.0" height="1" fill="url(#n3)"/></pattern><pattern id="p3_69" width="11.0" height="1" patternUnits="userSpaceOnUse" patternTransform="matrix(1.094 0 0 1 78.77 0)"><rect width="11.0" height="1" fill="url(#n3)"/></pattern><pattern id="p3_70" width="11.0" height="1" patternUnits="userSpaceOnUse" patternTransform="matrix(1.092 0 0 1 79.66 0)"><rect width="11.0" height="1" fill="url(#n3)"/></pattern><pattern id="p3_71" width="11.0" height="1" patternUnits="userSpaceOnUse" patternTransform="matrix(1.092 0 0 1 69.96 0)"><rect width="11.0" height="1" fill="url(#n3)"/></pattern><pattern id="p3_72" width="11.0" height="1" patternUnits="userSpaceOnUse" patternTransform="matrix(1.092 0 0 1 71.26 0)"><rect width="11.0" height="1" fill="url(#n3)"/></pattern><pattern id="p3_73" width="11.0" height="1" patternUnits="userSpaceOnUse" patternTransform="matrix(1.034 0 0 1 78.69 0)"><rect width="11.0" height="1" fill="url(#n3)"/></pattern><pattern id="p3_74" width="11.0" height="1" patternUnits="userSpaceOnUse" patternTransform="matrix(1.034 0 0 1 78.34 0)"><rect width="11.0" height="1" fill="url(#n3)"/></pattern><pattern id="p3_75" width="11.0" height="1" patternUnits="userSpaceOnUse" patternTransform="matrix(1.034 0 0 1 77.99 0)"><rect width="11.0" height="1" fill="url(#n3)"/></pattern><pattern id="p3_76" width="11.0" height="1" patternUnits="userSpaceOnUse" patternTransform="matrix(0.893 0 0 1 77.70 0)"><rect width="11.0" height="1" fill="url(#n3)"/></pattern><pattern id="p3_77" width="11.0" height="1" patternUnits="userSpaceOnUse" patternTransform="matrix(0.893 0 0 1 77.27 0)"><rect width="11.0" height="1" fill="url(#n3)"/></pattern><pattern id="p3_78" width="11.0" height="1" patternUnits="userSpaceOnUse" patternTransform="matrix(0.893 0 0 1 76.84 0)"><rect width="11.0" height="1" fill="url(#n3)"/></pattern><pattern id="p3_79" width="11.0" height="1" patternUnits="userSpaceOnUse" patternTransform="matrix(1.018 0 0 1 73.35 0)"><rect width="11.0" height="1" fill="url(#n3)"/></pattern><pattern id="p3_80" width="11.0" height="1" patternUnits="userSpaceOnUse" patternTransform="matrix(1.018 0 0 1 73.51 0)"><rect width="11.0" height="1" fill="url(#n3)"/></pattern><pattern id="p3_81" width="11.0" height="1" patternUnits="userSpaceOnUse" patternTransform="matrix(1.018 0 0 1 73.67 0)"><rect width="11.0" height="1" fill="url(#n3)"/></pattern><pattern id="p3_82" width="11.0" height="1" patternUnits="userSpaceOnUse" patternTransform="matrix(0.994 0 0 1 70.32 0)"><rect width="11.0" height="1" fill="url(#n3)"/></pattern><pattern id="p3_83" width="11.0" height="1" patternUnits="userSpaceOnUse" patternTransform="matrix(0.994 0 0 1 71.00 0)"><rect width="11.0" height="1" fill="url(#n3)"/></pattern><pattern id="p3_84" width="11.0" height="1" patternUnits="userSpaceOnUse" patternTransform="matrix(0.994 0 0 1 71.67 0)"><rect width="11.0" height="1" fill="url(#n3)"/></pattern><pattern id="p3_85" width="11.0" height="1" patternUnits="userSpaceOnUse" patternTransform="matrix(0.994 0 0 1 72.35 0)"><rect width="11.0" height="1" fill="url(#n3)"/></pattern><pattern id="p3_86" width="11.0" height="1" patternUnits="userSpaceOnUse" patternTransform="matrix(0.925 0 0 1 76.31 0)"><rect width="11.0" height="1" fill="url(#n3)"/></pattern><pattern id="p3_87" width="11.0" height="1" patternUnits="userSpaceOnUse" patternTransform="matrix(0.925 0 0 1 76.20 0)"><rect width="11.0" height="1" fill="url(#n3)"/></pattern><pattern id="p3_88" width="11.0" height="1" patternUnits="userSpaceOnUse" patternTransform="matrix(0.925 0 0 1 76.08 0)"><rect width="11.0" height="1" fill="url(#n3)"/></pattern><pattern id="p3_89" width="11.0" height="1" patternUnits="userSpaceOnUse" patternTransform="matrix(0.925 0 0 1 75.97 0)"><rect width="11.0" height="1" fill="url(#n3)"/></pattern><pattern id="p3_90" width="11.0" height="1" patternUnits="userSpaceOnUse" patternTransform="matrix(0.989 0 0 1 71.38 0)"><rect width="11.0" height="1" fill="url(#n3)"/></pattern><pattern id="p3_91" width="11.0" height="1" patternUnits="userSpaceOnUse" patternTransform="matrix(0.989 0 0 1 71.47 0)"><rect width="11.0" height="1" fill="url(#n3)"/></pattern><pattern id="p3_92" width="11.0" height="1" patternUnits="userSpaceOnUse" patternTransform="matrix(0.989 0 0 1 71.56 0)"><rect width="11.0" height="1" fill="url(#n3)"/></pattern><pattern id="p3_93" width="11.0" height="1" patternUnits="userSpaceOnUse" patternTransform="matrix(1.010 0 0 1 75.92 0)"><rect width="11.0" height="1" fill="url(#n3)"/></pattern><pattern id="p3_94" width="11.0" height="1" patternUnits="userSpaceOnUse" patternTransform="matrix(1.010 0 0 1 75.83 0)"><rect width="11.0" height="1" fill="url(#n3)"/></pattern><pattern id="p3_95" width="11.0" height="1" patternUnits="userSpaceOnUse" patternTransform="matrix(1.010 0 0 1 75.75 0)"><rect width="11.0" height="1" fill="url(#n3)"/></pattern><pattern id="p3_96" width="11.0" height="1" patternUnits="userSpaceOnUse" patternTransform="matrix(0.993 0 0 1 76.41 0)"><rect width="11.0" height="1" fill="url(#n3)"/></pattern><pattern id="p3_97" width="11.0" height="1" patternUnits="userSpaceOnUse" patternTransform="matrix(0.993 0 0 1 76.01 0)"><rect width="11.0" height="1" fill="url(#n3)"/></pattern><pattern id="p3_98" width="11.0" height="1" patternUnits="userSpaceOnUse" patternTransform="matrix(0.993 0 0 1 75.62 0)"><rect width="11.0" height="1" fill="url(#n3)"/></pattern><pattern id="p3_99" width="11.0" height="1" patternUnits="userSpaceOnUse" patternTransform="matrix(1.207 0 0 1 73.83 0)"><rect width="11.0" height="1" fill="url(#n3)"/></pattern><pattern id="p3_100" width="11.0" height="1" patternUnits="userSpaceOnUse" patternTransform="matrix(1.207 0 0 1 73.79 0)"><rect width="11.0" height="1" fill="url(#n3)"/></pattern><pattern id="p3_101" width="11.0" height="1" patternUnits="userSpaceOnUse" patternTransform="matrix(1.207 0 0 1 73.76 0)"><rect width="11.0" height="1" fill="url(#n3)"/></pattern><pattern id="p3_102" width="11.0" height="1" patternUnits="userSpaceOnUse" patternTransform="matrix(1.014 0 0 1 71.23 0)"><rect width="11.0" height="1" fill="url(#n3)"/></pattern><pattern id="p3_103" width="11.0" height="1" patternUnits="userSpaceOnUse" patternTransform="matrix(1.014 0 0 1 71.68 0)"><rect width="11.0" height="1" fill="url(#n3)"/></pattern><pattern id="p3_104" width="11.0" height="1" patternUnits="userSpaceOnUse" patternTransform="matrix(1.014 0 0 1 72.13 0)"><rect width="11.0" height="1" fill="url(#n3)"/></pattern><pattern id="p3_105" width="11.0" height="1" patternUnits="userSpaceOnUse" patternTransform="matrix(0.934 0 0 1 77.87 0)"><rect width="11.0" height="1" fill="url(#n3)"/></pattern><pattern id="p3_106" width="11.0" height="1" patternUnits="userSpaceOnUse" patternTransform="matrix(0.934 0 0 1 77.31 0)"><rect width="11.0" height="1" fill="url(#n3)"/></pattern><pattern id="p3_107" width="11.0" height="1" patternUnits="userSpaceOnUse" patternTransform="matrix(0.934 0 0 1 76.75 0)"><rect width="11.0" height="1" fill="url(#n3)"/></pattern><pattern id="p3_108" width="11.0" height="1" patternUnits="userSpaceOnUse" patternTransform="matrix(0.934 0 0 1 76.19 0)"><rect width="11.0" height="1" fill="url(#n3)"/></pattern><pattern id="p3_109" width="11.0" height="1" patternUnits="userSpaceOnUse" patternTransform="matrix(0.991 0 0 1 76.35 0)"><rect width="11.0" height="1" fill="url(#n3)"/></pattern><pattern id="p3_110" width="11.0" height="1" patternUnits="userSpaceOnUse" patternTransform="matrix(0.991 0 0 1 76.70 0)"><rect width="11.0" height="1" fill="url(#n3)"/></pattern><pattern id="p3_111" width="11.0" height="1" patternUnits="userSpaceOnUse" patternTransform="matrix(0.991 0 0 1 77.06 0)"><rect width="11.0" height="1" fill="url(#n3)"/></pattern><pattern id="p3_112" width="11.0" height="1" patternUnits="userSpaceOnUse" patternTransform="matrix(0.981 0 0 1 73.27 0)"><rect width="11.0" height="1" fill="url(#n3)"/></pattern><pattern id="p3_113" width="11.0" height="1" patternUnits="userSpaceOnUse" patternTransform="matrix(0.981 0 0 1 74.41 0)"><rect width="11.0" height="1" fill="url(#n3)"/></pattern><pattern id="p3_114" width="11.0" height="1" patternUnits="userSpaceOnUse" patternTransform="matrix(0.981 0 0 1 75.55 0)"><rect width="11.0" height="1" fill="url(#n3)"/></pattern><pattern id="p3_115" width="11.0" height="1" patternUnits="userSpaceOnUse" patternTransform="matrix(0.981 0 0 1 76.69 0)"><rect width="11.0" height="1" fill="url(#n3)"/></pattern><pattern id="p3_116" width="11.0" height="1" patternUnits="userSpaceOnUse" patternTransform="matrix(1.048 0 0 1 77.60 0)"><rect width="11.0" height="1" fill="url(#n3)"/></pattern><pattern id="p3_117" width="11.0" height="1" patternUnits="userSpaceOnUse" patternTransform="matrix(1.048 0 0 1 78.50 0)"><rect width="11.0" height="1" fill="url(#n3)"/></pattern><pattern id="p3_118" width="11.0" height="1" patternUnits="userSpaceOnUse" patternTransform="matrix(1.048 0 0 1 79.39 0)"><rect width="11.0" height="1" fill="url(#n3)"/></pattern><pattern id="p3_119" width="11.0" height="1" patternUnits="userSpaceOnUse" patternTransform="matrix(1.166 0 0 1 69.17 0)"><rect width="11.0" height="1" fill="url(#n3)"/></pattern><pattern id="p3_120" width="11.0" height="1" patternUnits="userSpaceOnUse" patternTransform="matrix(1.166 0 0 1 79.63 0)"><rect width="11.0" height="1" fill="url(#n3)"/></pattern><pattern id="p3_121" width="11.0" height="1" patternUnits="userSpaceOnUse" patternTransform="matrix(1.166 0 0 1 79.09 0)"><rect width="11.0" height="1" fill="url(#n3)"/></pattern><pattern id="p3_122" width="11.0" height="1" patternUnits="userSpaceOnUse" patternTransform="matrix(1.166 0 0 1 78.56 0)"><rect width="11.0" height="1" fill="url(#n3)"/></pattern><pattern id="p3_123" width="11.0" height="1" patternUnits="userSpaceOnUse" patternTransform="matrix(1.033 0 0 1 79.41 0)"><rect width="11.0" height="1" fill="url(#n3)"/></pattern><pattern id="p3_124" width="11.0" height="1" patternUnits="userSpaceOnUse" patternTransform="matrix(1.033 0 0 1 78.60 0)"><rect width="11.0" height="1" fill="url(#n3)"/></pattern><pattern id="p3_125" width="11.0" height="1" patternUnits="userSpaceOnUse" patternTransform="matrix(1.084 0 0 1 77.05 0)"><rect width="11.0" height="1" fill="url(#n3)"/></pattern><pattern id="p3_126" width="11.0" height="1" patternUnits="userSpaceOnUse" patternTransform="matrix(1.084 0 0 1 76.76 0)"><rect width="11.0" height="1" fill="url(#n3)"/></pattern><pattern id="p3_127" width="11.0" height="1" patternUnits="userSpaceOnUse" patternTransform="matrix(1.084 0 0 1 76.48 0)"><rect width="11.0" height="1" fill="url(#n3)"/></pattern><pattern id="p3_128" width="11.0" height="1" patternUnits="userSpaceOnUse" patternTransform="matrix(1.049 0 0 1 75.80 0)"><rect width="11.0" height="1" fill="url(#n3)"/></pattern><pattern id="p3_129" width="11.0" height="1" patternUnits="userSpaceOnUse" patternTransform="matrix(1.049 0 0 1 75.96 0)"><rect width="11.0" height="1" fill="url(#n3)"/></pattern><pattern id="p3_130" width="11.0" height="1" patternUnits="userSpaceOnUse" patternTransform="matrix(1.049 0 0 1 76.12 0)"><rect width="11.0" height="1" fill="url(#n3)"/></pattern><pattern id="p3_131" width="11.0" height="1" patternUnits="userSpaceOnUse" patternTransform="matrix(0.957 0 0 1 69.58 0)"><rect width="11.0" height="1" fill="url(#n3)"/></pattern><pattern id="p3_132" width="11.0" height="1" patternUnits="userSpaceOnUse" patternTransform="matrix(0.957 0 0 1 79.63 0)"><rect width="11.0" height="1" fill="url(#n3)"/></pattern><pattern id="p3_133" width="11.0" height="1" patternUnits="userSpaceOnUse" patternTransform="matrix(0.957 0 0 1 78.69 0)"><rect width="11.0" height="1" fill="url(#n3)"/></pattern><pattern id="p3_134" width="11.0" height="1" patternUnits="userSpaceOnUse" patternTransform="matrix(0.957 0 0 1 77.75 0)"><rect width="11.0" height="1" fill="url(#n3)"/></pattern><pattern id="p3_135" width="11.0" height="1" patternUnits="userSpaceOnUse" patternTransform="matrix(1.032 0 0 1 72.62 0)"><rect width="11.0" height="1" fill="url(#n3)"/></pattern><pattern id="p3_136" width="11.0" height="1" patternUnits="userSpaceOnUse" patternTransform="matrix(1.032 0 0 1 73.08 0)"><rect width="11.0" height="1" fill="url(#n3)"/></pattern><pattern id="p3_137" width="11.0" height="1" patternUnits="userSpaceOnUse" patternTransform="matrix(1.032 0 0 1 73.55 0)"><rect width="11.0" height="1" fill="url(#n3)"/></pattern><linearGradient id="lg3"><stop offset="0.0" stop-color="#960000"/><stop offset="0.08" stop-color="#b40005"/><stop offset="0.16" stop-color="#c60c12"/><stop offset="0.19" stop-color="#e16469"/><stop offset="0.215" stop-color="#fae1e1"/><stop offset="0.255" stop-color="#ffffff"/><stop offset="0.29" stop-color="#e1e6fc"/><stop offset="0.315" stop-color="#828cee"/><stop offset="0.345" stop-color="#0f19cd"/><stop offset="0.42" stop-color="#0005be"/><stop offset="0.5" stop-color="#0000a0"/><stop offset="0.58" stop-color="#0005be"/><stop offset="0.655" stop-color="#0f19cd"/><stop offset="0.685" stop-color="#828cee"/><stop offset="0.71" stop-color="#e1e6fc"/><stop offset="0.745" stop-color="#ffffff"/><stop offset="0.785" stop-color="#fae1e1"/><stop offset="0.81" stop-color="#e16469"/><stop offset="0.84" stop-color="#c60c12"/><stop offset="0.92" stop-color="#b40005"/><stop offset="1.0" stop-color="#960000"/></linearGradient><pattern id="lp3" width="11.0" height="1" patternUnits="userSpaceOnUse" patternTransform="translate(69.05 0)"><rect width="11.0" height="1" fill="url(#lg3)"/></pattern><linearGradient id="lmg3"><stop offset="0.0000" stop-color="#fff" stop-opacity="0.000"/><stop offset="0.0125" stop-color="#fff" stop-opacity="0.000"/><stop offset="0.0250" stop-color="#fff" stop-opacity="0.000"/><stop offset="0.0375" stop-color="#fff" stop-opacity="0.000"/><stop offset="0.0500" stop-color="#fff" stop-opacity="0.000"/><stop offset="0.0625" stop-color="#fff" stop-opacity="0.000"/><stop offset="0.0750" stop-color="#fff" stop-opacity="0.000"/><stop offset="0.0875" stop-color="#fff" stop-opacity="0.000"/><stop offset="0.1000" stop-color="#fff" stop-opacity="0.000"/><stop offset="0.1125" stop-color="#fff" stop-opacity="0.000"/><stop offset="0.1250" stop-color="#fff" stop-opacity="0.000"/><stop offset="0.1375" stop-color="#fff" stop-opacity="0.000"/><stop offset="0.1500" stop-color="#fff" stop-opacity="0.000"/><stop offset="0.1625" stop-color="#fff" stop-opacity="0.000"/><stop offset="0.1750" stop-color="#fff" stop-opacity="0.000"/><stop offset="0.1875" stop-color="#fff" stop-opacity="0.000"/><stop offset="0.2000" stop-color="#fff" stop-opacity="0.000"/><stop offset="0.2125" stop-color="#fff" stop-opacity="0.000"/><stop offset="0.2250" stop-color="#fff" stop-opacity="0.001"/><stop offset="0.2375" stop-color="#fff" stop-opacity="0.002"/><stop offset="0.2500" stop-color="#fff" stop-opacity="0.005"/><stop offset="0.2625" stop-color="#fff" stop-opacity="0.016"/><stop offset="0.2750" stop-color="#fff" stop-opacity="0.046"/><stop offset="0.2875" stop-color="#fff" stop-opacity="0.129"/><stop offset="0.3000" stop-color="#fff" stop-opacity="0.309"/><stop offset="0.3125" stop-color="#fff" stop-opacity="0.571"/><stop offset="0.3250" stop-color="#fff" stop-opacity="0.793"/><stop offset="0.3375" stop-color="#fff" stop-opacity="0.909"/><stop offset="0.3500" stop-color="#fff" stop-opacity="0.956"/><stop offset="0.3625" stop-color="#fff" stop-opacity="0.972"/><stop offset="0.3750" stop-color="#fff" stop-opacity="0.977"/><stop offset="0.3875" stop-color="#fff" stop-opacity="0.979"/><stop offset="0.4000" stop-color="#fff" stop-opacity="0.980"/><stop offset="0.4125" stop-color="#fff" stop-opacity="0.980"/><stop offset="0.4250" stop-color="#fff" stop-opacity="0.980"/><stop offset="0.4375" stop-color="#fff" stop-opacity="0.980"/><stop offset="0.4500" stop-color="#fff" stop-opacity="0.980"/><stop offset="0.4625" stop-color="#fff" stop-opacity="0.980"/><stop offset="0.4750" stop-color="#fff" stop-opacity="0.980"/><stop offset="0.4875" stop-color="#fff" stop-opacity="0.980"/><stop offset="0.5000" stop-color="#fff" stop-opacity="0.980"/><stop offset="0.5125" stop-color="#fff" stop-opacity="0.980"/><stop offset="0.5250" stop-color="#fff" stop-opacity="0.980"/><stop offset="0.5375" stop-color="#fff" stop-opacity="0.980"/><stop offset="0.5500" stop-color="#fff" stop-opacity="0.980"/><stop offset="0.5625" stop-color="#fff" stop-opacity="0.980"/><stop offset="0.5750" stop-color="#fff" stop-opacity="0.980"/><stop offset="0.5875" stop-color="#fff" stop-opacity="0.980"/><stop offset="0.6000" stop-color="#fff" stop-opacity="0.980"/><stop offset="0.6125" stop-color="#fff" stop-opacity="0.979"/><stop offset="0.6250" stop-color="#fff" stop-opacity="0.977"/><stop offset="0.6375" stop-color="#fff" stop-opacity="0.972"/><stop offset="0.6500" stop-color="#fff" stop-opacity="0.956"/><stop offset="0.6625" stop-color="#fff" stop-opacity="0.909"/><stop offset="0.6750" stop-color="#fff" stop-opacity="0.793"/><stop offset="0.6875" stop-color="#fff" stop-opacity="0.571"/><stop offset="0.7000" stop-color="#fff" stop-opacity="0.309"/><stop offset="0.7125" stop-color="#fff" stop-opacity="0.129"/><stop offset="0.7250" stop-color="#fff" stop-opacity="0.046"/><stop offset="0.7375" stop-color="#fff" stop-opacity="0.016"/><stop offset="0.7500" stop-color="#fff" stop-opacity="0.005"/><stop offset="0.7625" stop-color="#fff" stop-opacity="0.002"/><stop offset="0.7750" stop-color="#fff" stop-opacity="0.001"/><stop offset="0.7875" stop-color="#fff" stop-opacity="0.000"/><stop offset="0.8000" stop-color="#fff" stop-opacity="0.000"/><stop offset="0.8125" stop-color="#fff" stop-opacity="0.000"/><stop offset="0.8250" stop-color="#fff" stop-opacity="0.000"/><stop offset="0.8375" stop-color="#fff" stop-opacity="0.000"/><stop offset="0.8500" stop-color="#fff" stop-opacity="0.000"/><stop offset="0.8625" stop-color="#fff" stop-opacity="0.000"/><stop offset="0.8750" stop-color="#fff" stop-opacity="0.000"/><stop offset="0.8875" stop-color="#fff" stop-opacity="0.000"/><stop offset="0.9000" stop-color="#fff" stop-opacity="0.000"/><stop offset="0.9125" stop-color="#fff" stop-opacity="0.000"/><stop offset="0.9250" stop-color="#fff" stop-opacity="0.000"/><stop offset="0.9375" stop-color="#fff" stop-opacity="0.000"/><stop offset="0.9500" stop-color="#fff" stop-opacity="0.000"/><stop offset="0.9625" stop-color="#fff" stop-opacity="0.000"/><stop offset="0.9750" stop-color="#fff" stop-opacity="0.000"/><stop offset="0.9875" stop-color="#fff" stop-opacity="0.000"/><stop offset="1.0000" stop-color="#fff" stop-opacity="0.000"/></linearGradient><mask id="lm3" maskUnits="userSpaceOnUse" x="-3" y="0" width="144.1" height="138"><rect width="138.1" height="138" fill="url(#lmg3)"/></mask></defs>
<g transform="translate(316.4 356.6)" filter="url(#blur)"><rect y="0" width="138.1" height="1" fill="url(#p3_0)" fill-opacity="0.34"/><rect y="1" width="138.1" height="1" fill="url(#p3_1)" fill-opacity="0.54"/><rect y="2" width="138.1" height="1" fill="url(#p3_2)" fill-opacity="0.63"/><rect y="3" width="138.1" height="1" fill="url(#p3_3)" fill-opacity="0.31"/><rect y="4" width="138.1" height="1" fill="url(#p3_4)" fill-opacity="0.63"/><rect y="5" width="138.1" height="1" fill="url(#p3_5)" fill-opacity="0.61"/><rect y="6" width="138.1" height="1" fill="url(#p3_6)" fill-opacity="0.37"/><rect y="7" width="138.1" height="1" fill="url(#p3_7)" fill-opacity="0.75"/><rect y="8" width="138.1" height="1" fill="url(#p3_8)" fill-opacity="0.40"/><rect y="9" width="138.1" height="1" fill="url(#p3_9)" fill-opacity="0.50"/><rect y="10" width="138.1" height="1" fill="url(#p3_10)" fill-opacity="0.92"/><rect y="11" width="138.1" height="1" fill="url(#p3_11)" fill-opacity="0.98"/><rect y="12" width="138.1" height="1" fill="url(#p3_12)" fill-opacity="0.47"/><rect y="13" width="138.1" height="1" fill="url(#p3_13)" fill-opacity="0.29"/><rect y="14" width="138.1" height="1" fill="url(#p3_14)" fill-opacity="0.83"/><rect y="15" width="138.1" height="1" fill="url(#p3_15)" fill-opacity="0.38"/><rect y="16" width="138.1" height="1" fill="url(#p3_16)" fill-opacity="0.30"/><rect y="17" width="138.1" height="1" fill="url(#p3_17)" fill-opacity="0.65"/><rect y="18" width="138.1" height="1" fill="url(#p3_18)" fill-opacity="0.35"/><rect y="19" width="138.1" height="1" fill="url(#p3_19)" fill-opacity="0.33"/><rect y="20" width="138.1" height="1" fill="url(#p3_20)" fill-opacity="0.70"/><rect y="21" width="138.1" height="1" fill="url(#p3_21)" fill-opacity="0.40"/><rect y="22" width="138.1" height="1" fill="url(#p3_22)" fill-opacity="0.44"/><rect y="23" width="138.1" height="1" fill="url(#p3_23)" fill-opacity="0.43"/><rect y="24" width="138.1" height="1" fill="url(#p3_24)" fill-opacity="0.41"/><rect y="25" width="138.1" height="1" fill="url(#p3_25)" fill-opacity="0.49"/><rect y="26" width="138.1" height="1" fill="url(#p3_26)" fill-opacity="0.38"/><rect y="27" width="138.1" height="1" fill="url(#p3_27)" fill-opacity="0.82"/><rect y="28" width="138.1" height="1" fill="url(#p3_28)" fill-opacity="0.35"/><rect y="29" width="138.1" height="1" fill="url(#p3_29)" fill-opacity="0.27"/><rect y="30" width="138.1" height="1" fill="url(#p3_30)" fill-opacity="0.74"/><rect y="31" width="138.1" height="1" fill="url(#p3_31)" fill-opacity="0.40"/><rect y="32" width="138.1" height="1" fill="url(#p3_32)" fill-opacity="0.58"/><rect y="33" width="138.1" height="1" fill="url(#p3_33)" fill-opacity="0.58"/><rect y="34" width="138.1" height="1" fill="url(#p3_34)" fill-opacity="0.43"/><rect y="35" width="138.1" height="1" fill="url(#p3_35)" fill-opacity="0.66"/><rect y="36" width="138.1" height="1" fill="url(#p3_36)" fill-opacity="0.31"/><rect y="37" width="138.1" height="1" fill="url(#p3_37)" fill-opacity="0.38"/><rect y="38" width="138.1" height="1" fill="url(#p3_38)" fill-opacity="0.74"/><rect y="39" width="138.1" height="1" fill="url(#p3_39)" fill-opacity="0.39"/><rect y="40" width="138.1" height="1" fill="url(#p3_40)" fill-opacity="0.78"/><rect y="41" width="138.1" height="1" fill="url(#p3_41)" fill-opacity="0.89"/><rect y="42" width="138.1" height="1" fill="url(#p3_42)" fill-opacity="0.33"/><rect y="43" width="138.1" height="1" fill="url(#p3_43)" fill-opacity="0.69"/><rect y="44" width="138.1" height="1" fill="url(#p3_44)" fill-opacity="0.25"/><rect y="45" width="138.1" height="1" fill="url(#p3_45)" fill-opacity="0.61"/><rect y="46" width="138.1" height="1" fill="url(#p3_46)" fill-opacity="0.64"/><rect y="47" width="138.1" height="1" fill="url(#p3_47)" fill-opacity="0.48"/><rect y="48" width="138.1" height="1" fill="url(#p3_48)" fill-opacity="0.76"/><rect y="49" width="138.1" height="1" fill="url(#p3_49)" fill-opacity="0.79"/><rect y="50" width="138.1" height="1" fill="url(#p3_50)" fill-opacity="0.34"/><rect y="51" width="138.1" height="1" fill="url(#p3_51)" fill-opacity="0.34"/><rect y="52" width="138.1" height="1" fill="url(#p3_52)" fill-opacity="0.69"/><rect y="53" width="138.1" height="1" fill="url(#p3_53)" fill-opacity="0.63"/><rect y="54" width="138.1" height="1" fill="url(#p3_54)" fill-opacity="0.32"/><rect y="55" width="138.1" height="1" fill="url(#p3_55)" fill-opacity="0.29"/><rect y="56" width="138.1" height="1" fill="url(#p3_56)" fill-opacity="0.57"/><rect y="57" width="138.1" height="1" fill="url(#p3_57)" fill-opacity="0.37"/><rect y="58" width="138.1" height="1" fill="url(#p3_58)" fill-opacity="0.32"/><rect y="59" width="138.1" height="1" fill="url(#p3_59)" fill-opacity="0.69"/><rect y="60" width="138.1" height="1" fill="url(#p3_60)" fill-opacity="0.40"/><rect y="61" width="138.1" height="1" fill="url(#p3_61)" fill-opacity="0.41"/><rect y="62" width="138.1" height="1" fill="url(#p3_62)" fill-opacity="0.64"/><rect y="63" width="138.1" height="1" fill="url(#p3_63)" fill-opacity="0.65"/><rect y="64" width="138.1" height="1" fill="url(#p3_64)" fill-opacity="0.40"/><rect y="65" width="138.1" height="1" fill="url(#p3_65)" fill-opacity="0.65"/><rect y="66" width="138.1" height="1" fill="url(#p3_66)" fill-opacity="0.68"/><rect y="67" width="138.1" height="1" fill="url(#p3_67)" fill-opacity="0.48"/><rect y="68" width="138.1" height="1" fill="url(#p3_68)" fill-opacity="0.89"/><rect y="69" width="138.1" height="1" fill="url(#p3_69)" fill-opacity="0.53"/><rect y="70" width="138.1" height="1" fill="url(#p3_70)" fill-opacity="0.36"/><rect y="71" width="138.1" height="1" fill="url(#p3_71)" fill-opacity="0.71"/><rect y="72" width="138.1" height="1" fill="url(#p3_72)" fill-opacity="0.42"/><rect y="73" width="138.1" height="1" fill="url(#p3_73)" fill-opacity="0.46"/><rect y="74" width="138.1" height="1" fill="url(#p3_74)" fill-opacity="0.95"/><rect y="75" width="138.1" height="1" fill="url(#p3_75)" fill-opacity="0.46"/><rect y="76" width="138.1" height="1" fill="url(#p3_76)" fill-opacity="0.46"/><rect y="77" width="138.1" height="1" fill="url(#p3_77)" fill-opacity="0.85"/><rect y="78" width="138.1" height="1" fill="url(#p3_78)" fill-opacity="0.53"/><rect y="79" width="138.1" height="1" fill="url(#p3_79)" fill-opacity="0.32"/><rect y="80" width="138.1" height="1" fill="url(#p3_80)" fill-opacity="0.42"/><rect y="81" width="138.1" height="1" fill="url(#p3_81)" fill-opacity="0.31"/><rect y="82" width="138.1" height="1" fill="url(#p3_82)" fill-opacity="0.38"/><rect y="83" width="138.1" height="1" fill="url(#p3_83)" fill-opacity="0.73"/><rect y="84" width="138.1" height="1" fill="url(#p3_84)" fill-opacity="0.75"/><rect y="85" width="138.1" height="1" fill="url(#p3_85)" fill-opacity="0.40"/><rect y="86" width="138.1" height="1" fill="url(#p3_86)" fill-opacity="0.24"/><rect y="87" width="138.1" height="1" fill="url(#p3_87)" fill-opacity="0.38"/><rect y="88" width="138.1" height="1" fill="url(#p3_88)" fill-opacity="0.50"/><rect y="89" width="138.1" height="1" fill="url(#p3_89)" fill-opacity="0.31"/><rect y="90" width="138.1" height="1" fill="url(#p3_90)" fill-opacity="0.40"/><rect y="91" width="138.1" height="1" fill="url(#p3_91)" fill-opacity="0.68"/><rect y="92" width="138.1" height="1" fill="url(#p3_92)" fill-opacity="0.41"/><rect y="93" width="138.1" height="1" fill="url(#p3_93)" fill-opacity="0.31"/><rect y="94" width="138.1" height="1" fill="url(#p3_94)" fill-opacity="0.71"/><rect y="95" width="138.1" height="1" fill="url(#p3_95)" fill-opacity="0.41"/><rect y="96" width="138.1" height="1" fill="url(#p3_96)" fill-opacity="0.51"/><rect y="97" width="138.1" height="1" fill="url(#p3_97)" fill-opacity="0.86"/><rect y="98" width="138.1" height="1" fill="url(#p3_98)" fill-opacity="0.46"/><rect y="99" width="138.1" height="1" fill="url(#p3_99)" fill-opacity="0.42"/><rect y="100" width="138.1" height="1" fill="url(#p3_100)" fill-opacity="0.71"/><rect y="101" width="138.1" height="1" fill="url(#p3_101)" fill-opacity="0.51"/><rect y="102" width="138.1" height="1" fill="url(#p3_102)" fill-opacity="0.40"/><rect y="103" width="138.1" height="1" fill="url(#p3_103)" fill-opacity="0.55"/><rect y="104" width="138.1" height="1" fill="url(#p3_104)" fill-opacity="0.31"/><rect y="105" width="138.1" height="1" fill="url(#p3_105)" fill-opacity="0.49"/><rect y="106" width="138.1" height="1" fill="url(#p3_106)" fill-opacity="0.88"/><rect y="107" width="138.1" height="1" fill="url(#p3_107)" fill-opacity="0.85"/><rect y="108" width="138.1" height="1" fill="url(#p3_108)" fill-opacity="0.45"/><rect y="109" width="138.1" height="1" fill="url(#p3_109)" fill-opacity="0.48"/><rect y="110" width="138.1" height="1" fill="url(#p3_110)" fill-opacity="0.84"/><rect y="111" width="138.1" height="1" fill="url(#p3_111)" fill-opacity="0.51"/><rect y="112" width="138.1" height="1" fill="url(#p3_112)" fill-opacity="0.44"/><rect y="113" width="138.1" height="1" fill="url(#p3_113)" fill-opacity="0.59"/><rect y="114" width="138.1" height="1" fill="url(#p3_114)" fill-opacity="0.70"/><rect y="115" width="138.1" height="1" fill="url(#p3_115)" fill-opacity="0.44"/><rect y="116" width="138.1" height="1" fill="url(#p3_116)" fill-opacity="0.32"/><rect y="117" width="138.1" height="1" fill="url(#p3_117)" fill-opacity="0.70"/><rect y="118" width="138.1" height="1" fill="url(#p3_118)" fill-opacity="0.49"/><rect y="119" width="138.1" height="1" fill="url(#p3_119)" fill-opacity="0.45"/><rect y="120" width="138.1" height="1" fill="url(#p3_120)" fill-opacity="0.71"/><rect y="121" width="138.1" height="1" fill="url(#p3_121)" fill-opacity="0.79"/><rect y="122" width="138.1" height="1" fill="url(#p3_122)" fill-opacity="0.46"/><rect y="123" width="138.1" height="1" fill="url(#p3_123)" fill-opacity="0.46"/><rect y="124" width="138.1" height="1" fill="url(#p3_124)" fill-opacity="0.54"/><rect y="125" width="138.1" height="1" fill="url(#p3_125)" fill-opacity="0.33"/><rect y="126" width="138.1" height="1" fill="url(#p3_126)" fill-opacity="0.64"/><rect y="127" width="138.1" height="1" fill="url(#p3_127)" fill-opacity="0.39"/><rect y="128" width="138.1" height="1" fill="url(#p3_128)" fill-opacity="0.38"/><rect y="129" width="138.1" height="1" fill="url(#p3_129)" fill-opacity="0.72"/><rect y="130" width="138.1" height="1" fill="url(#p3_130)" fill-opacity="0.34"/><rect y="131" width="138.1" height="1" fill="url(#p3_131)" fill-opacity="0.36"/><rect y="132" width="138.1" height="1" fill="url(#p3_132)" fill-opacity="0.58"/><rect y="133" width="138.1" height="1" fill="url(#p3_133)" fill-opacity="0.73"/><rect y="134" width="138.1" height="1" fill="url(#p3_134)" fill-opacity="0.37"/><rect y="135" width="138.1" height="1" fill="url(#p3_135)" fill-opacity="0.42"/><rect y="136" width="138.1" height="1" fill="url(#p3_136)" fill-opacity="0.68"/><rect y="137" width="138.1" height="1" fill="url(#p3_137)" fill-opacity="0.50"/><g mask="url(#lm3)"><rect y="0" width="138.1" height="1" fill="url(#lp3)" transform="translate(-0.14 0)" fill-opacity="1.00"/><rect y="1" width="138.1" height="1" fill="url(#lp3)" transform="translate(-0.14 0)" fill-opacity="0.88"/><rect y="2" width="138.1" height="1" fill="url(#lp3)" transform="translate(0.34 0)" fill-opacity="0.88"/><rect y="3" width="138.1" height="1" fill="url(#lp3)" transform="translate(0.04 0)" fill-opacity="1.00"/><rect y="4" width="138.1" height="1" fill="url(#lp3)" transform="translate(0.03 0)" fill-opacity="0.96"/><rect y="5" width="138.1" height="1" fill="url(#lp3)" transform="translate(0.02 0)" fill-opacity="1.00"/><rect y="6" width="138.1" height="1" fill="url(#lp3)" transform="translate(-0.18 0)" fill-opacity="1.00"/><rect y="7" width="138.1" height="1" fill="url(#lp3)" transform="translate(0.13 0)" fill-opacity="1.00"/><rect y="8" width="138.1" height="1" fill="url(#lp3)" transform="translate(-0.07 0)" fill-opacity="0.90"/><rect y="9" width="138.1" height="1" fill="url(#lp3)" transform="translate(0.16 0)" fill-opacity="0.94"/><rect y="10" width="138.1" height="1" fill="url(#lp3)" transform="translate(0.06 0)" fill-opacity="0.98"/><rect y="11" width="138.1" height="1" fill="url(#lp3)" transform="translate(0.26 0)" fill-opacity="0.92"/><rect y="12" width="138.1" height="1" fill="url(#lp3)" transform="translate(-0.02 0)" fill-opacity="0.77"/><rect y="13" width="138.1" height="1" fill="url(#lp3)" transform="translate(-0.20 0)" fill-opacity="1.00"/><rect y="14" width="138.1" height="1" fill="url(#lp3)" transform="translate(-0.15 0)" fill-opacity="0.91"/><rect y="15" width="138.1" height="1" fill="url(#lp3)" transform="translate(-0.27 0)" fill-opacity="1.00"/><rect y="16" width="138.1" height="1" fill="url(#lp3)" transform="translate(0.04 0)" fill-opacity="0.88"/><rect y="17" width="138.1" height="1" fill="url(#lp3)" transform="translate(0.15 0)" fill-opacity="0.99"/><rect y="18" width="138.1" height="1" fill="url(#lp3)" transform="translate(0.17 0)" fill-opacity="0.92"/><rect y="19" width="138.1" height="1" fill="url(#lp3)" transform="translate(0.38 0)" fill-opacity="1.00"/><rect y="20" width="138.1" height="1" fill="url(#lp3)" transform="translate(-0.03 0)" fill-opacity="0.93"/><rect y="21" width="138.1" height="1" fill="url(#lp3)" transform="translate(-0.05 0)" fill-opacity="1.00"/><rect y="22" width="138.1" height="1" fill="url(#lp3)" transform="translate(-0.06 0)" fill-opacity="1.00"/><rect y="23" width="138.1" height="1" fill="url(#lp3)" transform="translate(0.13 0)" fill-opacity="1.00"/><rect y="24" width="138.1" height="1" fill="url(#lp3)" transform="translate(0.18 0)" fill-opacity="0.96"/><rect y="25" width="138.1" height="1" fill="url(#lp3)" transform="translate(-0.42 0)" fill-opacity="0.99"/><rect y="26" width="138.1" height="1" fill="url(#lp3)" transform="translate(0.17 0)" fill-opacity="0.98"/><rect y="27" width="138.1" height="1" fill="url(#lp3)" transform="translate(0.12 0)" fill-opacity="0.93"/><rect y="28" width="138.1" height="1" fill="url(#lp3)" transform="translate(-0.08 0)" fill-opacity="0.89"/><rect y="29" width="138.1" height="1" fill="url(#lp3)" transform="translate(0.30 0)" fill-opacity="0.98"/><rect y="30" width="138.1" height="1" fill="url(#lp3)" transform="translate(-0.11 0)" fill-opacity="0.86"/><rect y="31" width="138.1" height="1" fill="url(#lp3)" transform="translate(-0.03 0)" fill-opacity="1.00"/><rect y="32" width="138.1" height="1" fill="url(#lp3)" transform="translate(0.10 0)" fill-opacity="0.91"/><rect y="33" width="138.1" height="1" fill="url(#lp3)" transform="translate(0.31 0)" fill-opacity="1.00"/><rect y="34" width="138.1" height="1" fill="url(#lp3)" transform="translate(0.22 0)" fill-opacity="1.00"/><rect y="35" width="138.1" height="1" fill="url(#lp3)" transform="translate(0.25 0)" fill-opacity="1.00"/><rect y="36" width="138.1" height="1" fill="url(#lp3)" transform="translate(0.17 0)" fill-opacity="0.91"/><rect y="37" width="138.1" height="1" fill="url(#lp3)" transform="translate(0.33 0)" fill-opacity="0.99"/><rect y="38" width="138.1" height="1" fill="url(#lp3)" transform="translate(0.45 0)" fill-opacity="0.81"/><rect y="39" width="138.1" height="1" fill="url(#lp3)" transform="translate(0.16 0)" fill-opacity="1.00"/><rect y="40" width="138.1" height="1" fill="url(#lp3)" transform="translate(-0.08 0)" fill-opacity="1.00"/><rect y="41" width="138.1" height="1" fill="url(#lp3)" transform="translate(0.16 0)" fill-opacity="1.00"/><rect y="42" width="138.1" height="1" fill="url(#lp3)" transform="translate(-0.12 0)" fill-opacity="0.96"/><rect y="43" width="138.1" height="1" fill="url(#lp3)" transform="translate(0.22 0)" fill-opacity="1.00"/><rect y="44" width="138.1" height="1" fill="url(#lp3)" transform="translate(0.02 0)" fill-opacity="0.98"/><rect y="45" width="138.1" height="1" fill="url(#lp3)" transform="translate(0.04 0)" fill-opacity="1.00"/><rect y="46" width="138.1" height="1" fill="url(#lp3)" transform="translate(-0.23 0)" fill-opacity="0.86"/><rect y="47" width="138.1" height="1" fill="url(#lp3)" transform="translate(0.03 0)" fill-opacity="0.88"/><rect y="48" width="138.1" height="1" fill="url(#lp3)" transform="translate(-0.13 0)" fill-opacity="0.98"/><rect y="49" width="138.1" height="1" fill="url(#lp3)" transform="translate(0.11 0)" fill-opacity="0.88"/><rect y="50" width="138.1" height="1" fill="url(#lp3)" transform="translate(0.18 0)" fill-opacity="0.83"/><rect y="51" width="138.1" height="1" fill="url(#lp3)" transform="translate(0.12 0)" fill-opacity="0.84"/><rect y="52" width="138.1" height="1" fill="url(#lp3)" transform="translate(-0.28 0)" fill-opacity="1.00"/><rect y="53" width="138.1" height="1" fill="url(#lp3)" transform="translate(-0.09 0)" fill-opacity="0.91"/><rect y="54" width="138.1" height="1" fill="url(#lp3)" transform="translate(-0.10 0)" fill-opacity="1.00"/><rect y="55" width="138.1" height="1" fill="url(#lp3)" transform="translate(-0.01 0)" fill-opacity="0.97"/><rect y="56" width="138.1" height="1" fill="url(#lp3)" transform="translate(0.23 0)" fill-opacity="0.91"/><rect y="57" width="138.1" height="1" fill="url(#lp3)" transform="translate(-0.10 0)" fill-opacity="0.93"/><rect y="58" width="138.1" height="1" fill="url(#lp3)" transform="translate(0.26 0)" fill-opacity="1.00"/><rect y="59" width="138.1" height="1" fill="url(#lp3)" transform="translate(0.28 0)" fill-opacity="0.97"/><rect y="60" width="138.1" height="1" fill="url(#lp3)" transform="translate(-0.03 0)" fill-opacity="1.00"/><rect y="61" width="138.1" height="1" fill="url(#lp3)" transform="translate(-0.09 0)" fill-opacity="1.00"/><rect y="62" width="138.1" height="1" fill="url(#lp3)" transform="translate(0.16 0)" fill-opacity="0.91"/><rect y="63" width="138.1" height="1" fill="url(#lp3)" transform="translate(-0.02 0)" fill-opacity="0.96"/><rect y="64" width="138.1" height="1" fill="url(#lp3)" transform="translate(0.38 0)" fill-opacity="1.00"/><rect y="65" width="138.1" height="1" fill="url(#lp3)" transform="translate(-0.02 0)" fill-opacity="0.97"/><rect y="66" width="138.1" height="1" fill="url(#lp3)" transform="translate(-0.50 0)" fill-opacity="0.99"/><rect y="67" width="138.1" height="1" fill="url(#lp3)" transform="translate(-0.00 0)" fill-opacity="0.88"/><rect y="68" width="138.1" height="1" fill="url(#lp3)" transform="translate(0.17 0)" fill-opacity="0.84"/><rect y="69" width="138.1" height="1" fill="url(#lp3)" transform="translate(-0.05 0)" fill-opacity="0.98"/><rect y="70" width="138.1" height="1" fill="url(#lp3)" transform="translate(-0.27 0)" fill-opacity="1.00"/><rect y="71" width="138.1" height="1" fill="url(#lp3)" transform="translate(0.23 0)" fill-opacity="0.86"/><rect y="72" width="138.1" height="1" fill="url(#lp3)" transform="translate(-0.31 0)" fill-opacity="1.00"/><rect y="73" width="138.1" height="1" fill="url(#lp3)" transform="translate(-0.01 0)" fill-opacity="0.87"/><rect y="74" width="138.1" height="1" fill="url(#lp3)" transform="translate(-0.06 0)" fill-opacity="0.96"/><rect y="75" width="138.1" height="1" fill="url(#lp3)" transform="translate(-0.03 0)" fill-opacity="1.00"/><rect y="76" width="138.1" height="1" fill="url(#lp3)" transform="translate(0.08 0)" fill-opacity="1.00"/><rect y="77" width="138.1" height="1" fill="url(#lp3)" transform="translate(0.30 0)" fill-opacity="1.00"/><rect y="78" width="138.1" height="1" fill="url(#lp3)" transform="translate(0.24 0)" fill-opacity="1.00"/><rect y="79" width="138.1" height="1" fill="url(#lp3)" transform="translate(0.16 0)" fill-opacity="0.87"/><rect y="80" width="138.1" height="1" fill="url(#lp3)" transform="translate(0.19 0)" fill-opacity="0.98"/><rect y="81" width="138.1" height="1" fill="url(#lp3)" transform="translate(0.36 0)" fill-opacity="0.98"/><rect y="82" width="138.1" height="1" fill="url(#lp3)" transform="translate(0.12 0)" fill-opacity="1.00"/><rect y="83" width="138.1" height="1" fill="url(#lp3)" transform="translate(0.37 0)" fill-opacity="0.98"/><rect y="84" width="138.1" height="1" fill="url(#lp3)" transform="translate(-0.06 0)" fill-opacity="0.99"/><rect y="85" width="138.1" height="1" fill="url(#lp3)" transform="translate(-0.10 0)" fill-opacity="0.98"/><rect y="86" width="138.1" height="1" fill="url(#lp3)" transform="translate(-0.00 0)" fill-opacity="0.99"/><rect y="87" width="138.1" height="1" fill="url(#lp3)" transform="translate(0.42 0)" fill-opacity="0.94"/><rect y="88" width="138.1" height="1" fill="url(#lp3)" transform="translate(0.01 0)" fill-opacity="0.95"/><rect y="89" width="138.1" height="1" fill="url(#lp3)" transform="translate(0.15 0)" fill-opacity="0.88"/><rect y="90" width="138.1" height="1" fill="url(#lp3)" transform="translate(-0.15 0)" fill-opacity="0.97"/><rect y="91" width="138.1" height="1" fill="url(#lp3)" transform="translate(0.12 0)" fill-opacity="0.97"/><rect y="92" width="138.1" height="1" fill="url(#lp3)" transform="translate(-0.11 0)" fill-opacity="0.90"/><rect y="93" width="138.1" height="1" fill="url(#lp3)" transform="translate(0.11 0)" fill-opacity="1.00"/><rect y="94" width="138.1" height="1" fill="url(#lp3)" transform="translate(0.07 0)" fill-opacity="0.99"/><rect y="95" width="138.1" height="1" fill="url(#lp3)" transform="translate(0.10 0)" fill-opacity="0.89"/><rect y="96" width="138.1" height="1" fill="url(#lp3)" transform="translate(-0.07 0)" fill-opacity="0.95"/><rect y="97" width="138.1" height="1" fill="url(#lp3)" transform="translate(0.06 0)" fill-opacity="0.97"/><rect y="98" width="138.1" height="1" fill="url(#lp3)" transform="translate(-0.27 0)" fill-opacity="1.00"/><rect y="99" width="138.1" height="1" fill="url(#lp3)" transform="translate(0.37 0)" fill-opacity="0.95"/><rect y="100" width="138.1" height="1" fill="url(#lp3)" transform="translate(0.09 0)" fill-opacity="0.99"/><rect y="101" width="138.1" height="1" fill="url(#lp3)" transform="translate(0.17 0)" fill-opacity="0.85"/><rect y="102" width="138.1" height="1" fill="url(#lp3)" transform="translate(0.35 0)" fill-opacity="0.93"/><rect y="103" width="138.1" height="1" fill="url(#lp3)" transform="translate(0.28 0)" fill-opacity="0.98"/><rect y="104" width="138.1" height="1" fill="url(#lp3)" transform="translate(-0.09 0)" fill-opacity="0.96"/><rect y="105" width="138.1" height="1" fill="url(#lp3)" transform="translate(0.20 0)" fill-opacity="0.90"/><rect y="106" width="138.1" height="1" fill="url(#lp3)" transform="translate(-0.08 0)" fill-opacity="0.93"/><rect y="107" width="138.1" height="1" fill="url(#lp3)" transform="translate(-0.38 0)" fill-opacity="1.00"/><rect y="108" width="138.1" height="1" fill="url(#lp3)" transform="translate(0.13 0)" fill-opacity="0.97"/><rect y="109" width="138.1" height="1" fill="url(#lp3)" transform="translate(0.26 0)" fill-opacity="0.89"/><rect y="110" width="138.1" height="1" fill="url(#lp3)" transform="translate(-0.02 0)" fill-opacity="1.00"/><rect y="111" width="138.1" height="1" fill="url(#lp3)" transform="translate(0.22 0)" fill-opacity="0.79"/><rect y="112" width="138.1" height="1" fill="url(#lp3)" transform="translate(-0.73 0)" fill-opacity="0.89"/><rect y="113" width="138.1" height="1" fill="url(#lp3)" transform="translate(0.23 0)" fill-opacity="0.93"/><rect y="114" width="138.1" height="1" fill="url(#lp3)" transform="translate(-0.05 0)" fill-opacity="1.00"/><rect y="115" width="138.1" height="1" fill="url(#lp3)" transform="translate(-0.19 0)" fill-opacity="0.99"/><rect y="116" width="138.1" height="1" fill="url(#lp3)" transform="translate(0.17 0)" fill-opacity="1.00"/><rect y="117" width="138.1" height="1" fill="url(#lp3)" transform="translate(0.09 0)" fill-opacity="0.92"/><rect y="118" width="138.1" height="1" fill="url(#lp3)" transform="translate(0.11 0)" fill-opacity="0.94"/><rect y="119" width="138.1" height="1" fill="url(#lp3)" transform="translate(0.29 0)" fill-opacity="1.00"/><rect y="120" width="138.1" height="1" fill="url(#lp3)" transform="translate(-0.16 0)" fill-opacity="0.80"/><rect y="121" width="138.1" height="1" fill="url(#lp3)" transform="translate(-0.09 0)" fill-opacity="1.00"/><rect y="122" width="138.1" height="1" fill="url(#lp3)" transform="translate(0.23 0)" fill-opacity="1.00"/><rect y="123" width="138.1" height="1" fill="url(#lp3)" transform="translate(-0.17 0)" fill-opacity="0.91"/><rect y="124" width="138.1" height="1" fill="url(#lp3)" transform="translate(0.28 0)" fill-opacity="0.88"/><rect y="125" width="138.1" height="1" fill="url(#lp3)" transform="translate(0.24 0)" fill-opacity="0.95"/><rect y="126" width="138.1" height="1" fill="url(#lp3)" transform="translate(0.17 0)" fill-opacity="1.00"/><rect y="127" width="138.1" height="1" fill="url(#lp3)" transform="translate(0.17 0)" fill-opacity="1.00"/><rect y="128" width="138.1" height="1" fill="url(#lp3)" transform="translate(-0.22 0)" fill-opacity="0.99"/><rect y="129" width="138.1" height="1" fill="url(#lp3)" transform="translate(0.00 0)" fill-opacity="0.99"/><rect y="130" width="138.1" height="1" fill="url(#lp3)" transform="translate(0.27 0)" fill-opacity="0.95"/><rect y="131" width="138.1" height="1" fill="url(#lp3)" transform="translate(-0.16 0)" fill-opacity="0.91"/><rect y="132" width="138.1" height="1" fill="url(#lp3)" transform="translate(-0.07 0)" fill-opacity="1.00"/><rect y="133" width="138.1" height="1" fill="url(#lp3)" transform="translate(-0.18 0)" fill-opacity="1.00"/><rect y="134" width="138.1" height="1" fill="url(#lp3)" transform="translate(0.06 0)" fill-opacity="0.95"/><rect y="135" width="138.1" height="1" fill="url(#lp3)" transform="translate(-0.29 0)" fill-opacity="0.99"/><rect y="136" width="138.1" height="1" fill="url(#lp3)" transform="translate(0.15 0)" fill-opacity="0.83"/><rect y="137" width="138.1" height="1" fill="url(#lp3)" transform="translate(0.26 0)" fill-opacity="1.00"/></g><rect y="123" width="138.1" height="0.6" fill="#1a2a80" fill-opacity="0.19"/><rect y="58" width="138.1" height="0.6" fill="#801020" fill-opacity="0.23"/><rect y="102" width="138.1" height="0.6" fill="#801020" fill-opacity="0.18"/><rect y="11" width="138.1" height="0.6" fill="#1a2a80" fill-opacity="0.32"/><rect y="3" width="138.1" height="0.6" fill="#801020" fill-opacity="0.28"/><rect y="41" width="138.1" height="0.6" fill="#1a2a80" fill-opacity="0.15"/><rect y="19" width="138.1" height="0.6" fill="#801020" fill-opacity="0.23"/><rect y="81" width="138.1" height="0.6" fill="#1a2a80" fill-opacity="0.36"/><rect y="14" width="138.1" height="0.6" fill="#801020" fill-opacity="0.20"/><rect y="25" width="138.1" height="0.6" fill="#801020" fill-opacity="0.23"/><rect y="136" width="138.1" height="0.6" fill="#1a2a80" fill-opacity="0.19"/><rect y="69" width="138.1" height="0.6" fill="#1a2a80" fill-opacity="0.20"/><rect y="60" width="138.1" height="0.6" fill="#1a2a80" fill-opacity="0.37"/><rect y="57" width="138.1" height="0.6" fill="#801020" fill-opacity="0.26"/><rect y="5" width="138.1" height="0.6" fill="#801020" fill-opacity="0.28"/><rect y="129" width="138.1" height="0.6" fill="#1a2a80" fill-opacity="0.21"/><rect y="129" width="138.1" height="0.6" fill="#1a2a80" fill-opacity="0.28"/><rect y="114" width="138.1" height="0.8" fill="#fff" fill-opacity="0.33"/><rect y="46" width="138.1" height="0.8" fill="#fff" fill-opacity="0.27"/><rect y="15" width="138.1" height="0.8" fill="#fff" fill-opacity="0.46"/><rect y="69" width="138.1" height="0.8" fill="#fff" fill-opacity="0.47"/><rect y="43" width="138.1" height="0.8" fill="#fff" fill-opacity="0.49"/><rect y="57" width="138.1" height="0.8" fill="#fff" fill-opacity="0.49"/></g>
<rect x="316.4" y="356.6" width="138.1" height="138" fill="none" stroke="#8890a8" stroke-width="0.8"/>
<line x1="313.9" y1="382.5" x2="316.4" y2="382.5" stroke="#555" stroke-width="1"/>
<text x="309.9" y="388.7" font-size="12.7" text-anchor="end">2000</text>
<line x1="313.9" y1="410.5" x2="316.4" y2="410.5" stroke="#555" stroke-width="1"/>
<line x1="313.9" y1="438.4" x2="316.4" y2="438.4" stroke="#555" stroke-width="1"/>
<text x="309.9" y="444.59999999999997" font-size="12.7" text-anchor="end">1000</text>
<line x1="313.9" y1="466.3" x2="316.4" y2="466.3" stroke="#555" stroke-width="1"/>
<line x1="316.4" y1="494.20000000000005" x2="316.4" y2="496.70000000000005" stroke="#555" stroke-width="0.8"/>
<line x1="333.66249999999997" y1="494.20000000000005" x2="333.66249999999997" y2="495.70000000000005" stroke="#555" stroke-width="0.8"/>
<line x1="350.92499999999995" y1="494.20000000000005" x2="350.92499999999995" y2="496.70000000000005" stroke="#555" stroke-width="0.8"/>
<line x1="368.1875" y1="494.20000000000005" x2="368.1875" y2="495.70000000000005" stroke="#555" stroke-width="0.8"/>
<line x1="385.45" y1="494.20000000000005" x2="385.45" y2="496.70000000000005" stroke="#555" stroke-width="0.8"/>
<line x1="402.7125" y1="494.20000000000005" x2="402.7125" y2="495.70000000000005" stroke="#555" stroke-width="0.8"/>
<line x1="419.97499999999997" y1="494.20000000000005" x2="419.97499999999997" y2="496.70000000000005" stroke="#555" stroke-width="0.8"/>
<line x1="437.23749999999995" y1="494.20000000000005" x2="437.23749999999995" y2="495.70000000000005" stroke="#555" stroke-width="0.8"/>
<line x1="454.5" y1="494.20000000000005" x2="454.5" y2="496.70000000000005" stroke="#555" stroke-width="0.8"/>
<text x="311.4" y="509.0" font-size="12.4" text-anchor="middle">-40</text>
<text x="348.2" y="509.0" font-size="12.4" text-anchor="middle">-20</text>
<text x="384.09999999999997" y="509.0" font-size="12.4" text-anchor="middle">0</text>
<text x="418.59999999999997" y="509.0" font-size="12.4" text-anchor="middle">20</text>
<text x="454.2" y="509.0" font-size="12.4" text-anchor="middle">40</text>
<text x="385.75" y="523.0" font-size="12.5" text-anchor="middle" letter-spacing="1.2">ms</text>
<defs><linearGradient id="n4"><stop offset="0.000" stop-color="#a70106"/><stop offset="0.031" stop-color="#aa0207"/><stop offset="0.062" stop-color="#b30408"/><stop offset="0.094" stop-color="#c2070b"/><stop offset="0.125" stop-color="#d32a2e"/><stop offset="0.156" stop-color="#e66469"/><stop offset="0.188" stop-color="#f29ea2"/><stop offset="0.219" stop-color="#fad5d7"/><stop offset="0.250" stop-color="#ffffff"/><stop offset="0.281" stop-color="#d2d9fb"/><stop offset="0.312" stop-color="#92a1f3"/><stop offset="0.344" stop-color="#5264e6"/><stop offset="0.375" stop-color="#212cd3"/><stop offset="0.406" stop-color="#040ac2"/><stop offset="0.438" stop-color="#0206b3"/><stop offset="0.469" stop-color="#0103aa"/><stop offset="0.500" stop-color="#0102a7"/><stop offset="0.531" stop-color="#0103aa"/><stop offset="0.562" stop-color="#0206b3"/><stop offset="0.594" stop-color="#040ac2"/><stop offset="0.625" stop-color="#212cd3"/><stop offset="0.656" stop-color="#5264e6"/><stop offset="0.688" stop-color="#92a1f3"/><stop offset="0.719" stop-color="#d2d9fb"/><stop offset="0.750" stop-color="#ffffff"/><stop offset="0.781" stop-color="#fad5d7"/><stop offset="0.812" stop-color="#f29ea2"/><stop offset="0.844" stop-color="#e66469"/><stop offset="0.875" stop-color="#d32a2e"/><stop offset="0.906" stop-color="#c2070b"/><stop offset="0.938" stop-color="#b30408"/><stop offset="0.969" stop-color="#aa0207"/><stop offset="1.000" stop-color="#a70106"/></linearGradient><pattern id="p4_0" width="11.0" height="1" patternUnits="userSpaceOnUse" patternTransform="matrix(1.150 0 0 1 69.89 0)"><rect width="11.0" height="1" fill="url(#n4)"/></pattern><pattern id="p4_1" width="11.0" height="1" patternUnits="userSpaceOnUse" patternTransform="matrix(1.150 0 0 1 69.78 0)"><rect width="11.0" height="1" fill="url(#n4)"/></pattern><pattern id="p4_2" width="11.0" height="1" patternUnits="userSpaceOnUse" patternTransform="matrix(1.150 0 0 1 69.68 0)"><rect width="11.0" height="1" fill="url(#n4)"/></pattern><pattern id="p4_3" width="11.0" height="1" patternUnits="userSpaceOnUse" patternTransform="matrix(1.022 0 0 1 78.92 0)"><rect width="11.0" height="1" fill="url(#n4)"/></pattern><pattern id="p4_4" width="11.0" height="1" patternUnits="userSpaceOnUse" patternTransform="matrix(1.022 0 0 1 77.96 0)"><rect width="11.0" height="1" fill="url(#n4)"/></pattern><pattern id="p4_5" width="11.0" height="1" patternUnits="userSpaceOnUse" patternTransform="matrix(1.022 0 0 1 76.99 0)"><rect width="11.0" height="1" fill="url(#n4)"/></pattern><pattern id="p4_6" width="11.0" height="1" patternUnits="userSpaceOnUse" patternTransform="matrix(1.022 0 0 1 76.03 0)"><rect width="11.0" height="1" fill="url(#n4)"/></pattern><pattern id="p4_7" width="11.0" height="1" patternUnits="userSpaceOnUse" patternTransform="matrix(0.970 0 0 1 75.70 0)"><rect width="11.0" height="1" fill="url(#n4)"/></pattern><pattern id="p4_8" width="11.0" height="1" patternUnits="userSpaceOnUse" patternTransform="matrix(0.970 0 0 1 76.36 0)"><rect width="11.0" height="1" fill="url(#n4)"/></pattern><pattern id="p4_9" width="11.0" height="1" patternUnits="userSpaceOnUse" patternTransform="matrix(0.970 0 0 1 77.02 0)"><rect width="11.0" height="1" fill="url(#n4)"/></pattern><pattern id="p4_10" width="11.0" height="1" patternUnits="userSpaceOnUse" patternTransform="matrix(0.835 0 0 1 74.50 0)"><rect width="11.0" height="1" fill="url(#n4)"/></pattern><pattern id="p4_11" width="11.0" height="1" patternUnits="userSpaceOnUse" patternTransform="matrix(0.835 0 0 1 75.39 0)"><rect width="11.0" height="1" fill="url(#n4)"/></pattern><pattern id="p4_12" width="11.0" height="1" patternUnits="userSpaceOnUse" patternTransform="matrix(0.835 0 0 1 76.28 0)"><rect width="11.0" height="1" fill="url(#n4)"/></pattern><pattern id="p4_13" width="11.0" height="1" patternUnits="userSpaceOnUse" patternTransform="matrix(0.835 0 0 1 77.17 0)"><rect width="11.0" height="1" fill="url(#n4)"/></pattern><pattern id="p4_14" width="11.0" height="1" patternUnits="userSpaceOnUse" patternTransform="matrix(1.016 0 0 1 79.23 0)"><rect width="11.0" height="1" fill="url(#n4)"/></pattern><pattern id="p4_15" width="11.0" height="1" patternUnits="userSpaceOnUse" patternTransform="matrix(1.016 0 0 1 79.82 0)"><rect width="11.0" height="1" fill="url(#n4)"/></pattern><pattern id="p4_16" width="11.0" height="1" patternUnits="userSpaceOnUse" patternTransform="matrix(1.016 0 0 1 69.41 0)"><rect width="11.0" height="1" fill="url(#n4)"/></pattern><pattern id="p4_17" width="11.0" height="1" patternUnits="userSpaceOnUse" patternTransform="matrix(1.016 0 0 1 70.00 0)"><rect width="11.0" height="1" fill="url(#n4)"/></pattern><pattern id="p4_18" width="11.0" height="1" patternUnits="userSpaceOnUse" patternTransform="matrix(0.936 0 0 1 70.88 0)"><rect width="11.0" height="1" fill="url(#n4)"/></pattern><pattern id="p4_19" width="11.0" height="1" patternUnits="userSpaceOnUse" patternTransform="matrix(0.936 0 0 1 71.39 0)"><rect width="11.0" height="1" fill="url(#n4)"/></pattern><pattern id="p4_20" width="11.0" height="1" patternUnits="userSpaceOnUse" patternTransform="matrix(0.936 0 0 1 71.90 0)"><rect width="11.0" height="1" fill="url(#n4)"/></pattern><pattern id="p4_21" width="11.0" height="1" patternUnits="userSpaceOnUse" patternTransform="matrix(0.936 0 0 1 72.41 0)"><rect width="11.0" height="1" fill="url(#n4)"/></pattern><pattern id="p4_22" width="11.0" height="1" patternUnits="userSpaceOnUse" patternTransform="matrix(1.041 0 0 1 78.02 0)"><rect width="11.0" height="1" fill="url(#n4)"/></pattern><pattern id="p4_23" width="11.0" height="1" patternUnits="userSpaceOnUse" patternTransform="matrix(1.041 0 0 1 77.85 0)"><rect width="11.0" height="1" fill="url(#n4)"/></pattern><pattern id="p4_24" width="11.0" height="1" patternUnits="userSpaceOnUse" patternTransform="matrix(1.123 0 0 1 74.50 0)"><rect width="11.0" height="1" fill="url(#n4)"/></pattern><pattern id="p4_25" width="11.0" height="1" patternUnits="userSpaceOnUse" patternTransform="matrix(1.123 0 0 1 73.71 0)"><rect width="11.0" height="1" fill="url(#n4)"/></pattern><pattern id="p4_26" width="11.0" height="1" patternUnits="userSpaceOnUse" patternTransform="matrix(1.095 0 0 1 73.31 0)"><rect width="11.0" height="1" fill="url(#n4)"/></pattern><pattern id="p4_27" width="11.0" height="1" patternUnits="userSpaceOnUse" patternTransform="matrix(1.095 0 0 1 73.71 0)"><rect width="11.0" height="1" fill="url(#n4)"/></pattern><pattern id="p4_28" width="11.0" height="1" patternUnits="userSpaceOnUse" patternTransform="matrix(1.095 0 0 1 74.11 0)"><rect width="11.0" height="1" fill="url(#n4)"/></pattern><pattern id="p4_29" width="11.0" height="1" patternUnits="userSpaceOnUse" patternTransform="matrix(0.887 0 0 1 71.61 0)"><rect width="11.0" height="1" fill="url(#n4)"/></pattern><pattern id="p4_30" width="11.0" height="1" patternUnits="userSpaceOnUse" patternTransform="matrix(0.887 0 0 1 71.15 0)"><rect width="11.0" height="1" fill="url(#n4)"/></pattern><pattern id="p4_31" width="11.0" height="1" patternUnits="userSpaceOnUse" patternTransform="matrix(0.887 0 0 1 70.68 0)"><rect width="11.0" height="1" fill="url(#n4)"/></pattern><pattern id="p4_32" width="11.0" height="1" patternUnits="userSpaceOnUse" patternTransform="matrix(0.978 0 0 1 73.07 0)"><rect width="11.0" height="1" fill="url(#n4)"/></pattern><pattern id="p4_33" width="11.0" height="1" patternUnits="userSpaceOnUse" patternTransform="matrix(0.978 0 0 1 72.58 0)"><rect width="11.0" height="1" fill="url(#n4)"/></pattern><pattern id="p4_34" width="11.0" height="1" patternUnits="userSpaceOnUse" patternTransform="matrix(0.978 0 0 1 72.08 0)"><rect width="11.0" height="1" fill="url(#n4)"/></pattern><pattern id="p4_35" width="11.0" height="1" patternUnits="userSpaceOnUse" patternTransform="matrix(0.978 0 0 1 71.58 0)"><rect width="11.0" height="1" fill="url(#n4)"/></pattern><pattern id="p4_36" width="11.0" height="1" patternUnits="userSpaceOnUse" patternTransform="matrix(1.091 0 0 1 69.79 0)"><rect width="11.0" height="1" fill="url(#n4)"/></pattern><pattern id="p4_37" width="11.0" height="1" patternUnits="userSpaceOnUse" patternTransform="matrix(1.091 0 0 1 69.17 0)"><rect width="11.0" height="1" fill="url(#n4)"/></pattern><pattern id="p4_38" width="11.0" height="1" patternUnits="userSpaceOnUse" patternTransform="matrix(1.091 0 0 1 79.55 0)"><rect width="11.0" height="1" fill="url(#n4)"/></pattern><pattern id="p4_39" width="11.0" height="1" patternUnits="userSpaceOnUse" patternTransform="matrix(0.937 0 0 1 79.28 0)"><rect width="11.0" height="1" fill="url(#n4)"/></pattern><pattern id="p4_40" width="11.0" height="1" patternUnits="userSpaceOnUse" patternTransform="matrix(0.937 0 0 1 79.28 0)"><rect width="11.0" height="1" fill="url(#n4)"/></pattern><pattern id="p4_41" width="11.0" height="1" patternUnits="userSpaceOnUse" patternTransform="matrix(0.937 0 0 1 79.28 0)"><rect width="11.0" height="1" fill="url(#n4)"/></pattern><pattern id="p4_42" width="11.0" height="1" patternUnits="userSpaceOnUse" patternTransform="matrix(0.992 0 0 1 73.18 0)"><rect width="11.0" height="1" fill="url(#n4)"/></pattern><pattern id="p4_43" width="11.0" height="1" patternUnits="userSpaceOnUse" patternTransform="matrix(0.992 0 0 1 73.15 0)"><rect width="11.0" height="1" fill="url(#n4)"/></pattern><pattern id="p4_44" width="11.0" height="1" patternUnits="userSpaceOnUse" patternTransform="matrix(0.992 0 0 1 73.13 0)"><rect width="11.0" height="1" fill="url(#n4)"/></pattern><pattern id="p4_45" width="11.0" height="1" patternUnits="userSpaceOnUse" patternTransform="matrix(0.873 0 0 1 78.04 0)"><rect width="11.0" height="1" fill="url(#n4)"/></pattern><pattern id="p4_46" width="11.0" height="1" patternUnits="userSpaceOnUse" patternTransform="matrix(0.873 0 0 1 78.34 0)"><rect width="11.0" height="1" fill="url(#n4)"/></pattern><pattern id="p4_47" width="11.0" height="1" patternUnits="userSpaceOnUse" patternTransform="matrix(0.873 0 0 1 78.65 0)"><rect width="11.0" height="1" fill="url(#n4)"/></pattern><pattern id="p4_48" width="11.0" height="1" patternUnits="userSpaceOnUse" patternTransform="matrix(1.107 0 0 1 75.06 0)"><rect width="11.0" height="1" fill="url(#n4)"/></pattern><pattern id="p4_49" width="11.0" height="1" patternUnits="userSpaceOnUse" patternTransform="matrix(1.107 0 0 1 74.90 0)"><rect width="11.0" height="1" fill="url(#n4)"/></pattern><pattern id="p4_50" width="11.0" height="1" patternUnits="userSpaceOnUse" patternTransform="matrix(1.107 0 0 1 74.75 0)"><rect width="11.0" height="1" fill="url(#n4)"/></pattern><pattern id="p4_51" width="11.0" height="1" patternUnits="userSpaceOnUse" patternTransform="matrix(1.203 0 0 1 70.24 0)"><rect width="11.0" height="1" fill="url(#n4)"/></pattern><pattern id="p4_52" width="11.0" height="1" patternUnits="userSpaceOnUse" patternTransform="matrix(1.203 0 0 1 70.27 0)"><rect width="11.0" height="1" fill="url(#n4)"/></pattern><pattern id="p4_53" width="11.0" height="1" patternUnits="userSpaceOnUse" patternTransform="matrix(1.203 0 0 1 70.30 0)"><rect width="11.0" height="1" fill="url(#n4)"/></pattern><pattern id="p4_54" width="11.0" height="1" patternUnits="userSpaceOnUse" patternTransform="matrix(1.203 0 0 1 70.33 0)"><rect width="11.0" height="1" fill="url(#n4)"/></pattern><pattern id="p4_55" width="11.0" height="1" patternUnits="userSpaceOnUse" patternTransform="matrix(1.110 0 0 1 77.68 0)"><rect width="11.0" height="1" fill="url(#n4)"/></pattern><pattern id="p4_56" width="11.0" height="1" patternUnits="userSpaceOnUse" patternTransform="matrix(1.110 0 0 1 77.77 0)"><rect width="11.0" height="1" fill="url(#n4)"/></pattern><pattern id="p4_57" width="11.0" height="1" patternUnits="userSpaceOnUse" patternTransform="matrix(1.110 0 0 1 77.85 0)"><rect width="11.0" height="1" fill="url(#n4)"/></pattern><pattern id="p4_58" width="11.0" height="1" patternUnits="userSpaceOnUse" patternTransform="matrix(1.120 0 0 1 79.86 0)"><rect width="11.0" height="1" fill="url(#n4)"/></pattern><pattern id="p4_59" width="11.0" height="1" patternUnits="userSpaceOnUse" patternTransform="matrix(1.120 0 0 1 79.71 0)"><rect width="11.0" height="1" fill="url(#n4)"/></pattern><pattern id="p4_60" width="11.0" height="1" patternUnits="userSpaceOnUse" patternTransform="matrix(1.120 0 0 1 79.55 0)"><rect width="11.0" height="1" fill="url(#n4)"/></pattern><pattern id="p4_61" width="11.0" height="1" patternUnits="userSpaceOnUse" patternTransform="matrix(0.923 0 0 1 77.51 0)"><rect width="11.0" height="1" fill="url(#n4)"/></pattern><pattern id="p4_62" width="11.0" height="1" patternUnits="userSpaceOnUse" patternTransform="matrix(0.923 0 0 1 77.56 0)"><rect width="11.0" height="1" fill="url(#n4)"/></pattern><pattern id="p4_63" width="11.0" height="1" patternUnits="userSpaceOnUse" patternTransform="matrix(0.923 0 0 1 77.61 0)"><rect width="11.0" height="1" fill="url(#n4)"/></pattern><pattern id="p4_64" width="11.0" height="1" patternUnits="userSpaceOnUse" patternTransform="matrix(0.985 0 0 1 77.63 0)"><rect width="11.0" height="1" fill="url(#n4)"/></pattern><pattern id="p4_65" width="11.0" height="1" patternUnits="userSpaceOnUse" patternTransform="matrix(0.985 0 0 1 77.16 0)"><rect width="11.0" height="1" fill="url(#n4)"/></pattern><pattern id="p4_66" width="11.0" height="1" patternUnits="userSpaceOnUse" patternTransform="matrix(0.941 0 0 1 72.10 0)"><rect width="11.0" height="1" fill="url(#n4)"/></pattern><pattern id="p4_67" width="11.0" height="1" patternUnits="userSpaceOnUse" patternTransform="matrix(0.941 0 0 1 71.77 0)"><rect width="11.0" height="1" fill="url(#n4)"/></pattern><pattern id="p4_68" width="11.0" height="1" patternUnits="userSpaceOnUse" patternTransform="matrix(0.941 0 0 1 71.44 0)"><rect width="11.0" height="1" fill="url(#n4)"/></pattern><pattern id="p4_69" width="11.0" height="1" patternUnits="userSpaceOnUse" patternTransform="matrix(1.150 0 0 1 75.88 0)"><rect width="11.0" height="1" fill="url(#n4)"/></pattern><pattern id="p4_70" width="11.0" height="1" patternUnits="userSpaceOnUse" patternTransform="matrix(1.150 0 0 1 75.62 0)"><rect width="11.0" height="1" fill="url(#n4)"/></pattern><pattern id="p4_71" width="11.0" height="1" patternUnits="userSpaceOnUse" patternTransform="matrix(1.150 0 0 1 75.35 0)"><rect width="11.0" height="1" fill="url(#n4)"/></pattern><pattern id="p4_72" width="11.0" height="1" patternUnits="userSpaceOnUse" patternTransform="matrix(1.039 0 0 1 79.62 0)"><rect width="11.0" height="1" fill="url(#n4)"/></pattern><pattern id="p4_73" width="11.0" height="1" patternUnits="userSpaceOnUse" patternTransform="matrix(1.039 0 0 1 69.02 0)"><rect width="11.0" height="1" fill="url(#n4)"/></pattern><pattern id="p4_74" width="11.0" height="1" patternUnits="userSpaceOnUse" patternTransform="matrix(1.039 0 0 1 69.42 0)"><rect width="11.0" height="1" fill="url(#n4)"/></pattern><pattern id="p4_75" width="11.0" height="1" patternUnits="userSpaceOnUse" patternTransform="matrix(1.039 0 0 1 69.83 0)"><rect width="11.0" height="1" fill="url(#n4)"/></pattern><pattern id="p4_76" width="11.0" height="1" patternUnits="userSpaceOnUse" patternTransform="matrix(0.736 0 0 1 70.36 0)"><rect width="11.0" height="1" fill="url(#n4)"/></pattern><pattern id="p4_77" width="11.0" height="1" patternUnits="userSpaceOnUse" patternTransform="matrix(0.736 0 0 1 70.38 0)"><rect width="11.0" height="1" fill="url(#n4)"/></pattern><pattern id="p4_78" width="11.0" height="1" patternUnits="userSpaceOnUse" patternTransform="matrix(0.736 0 0 1 70.39 0)"><rect width="11.0" height="1" fill="url(#n4)"/></pattern><pattern id="p4_79" width="11.0" height="1" patternUnits="userSpaceOnUse" patternTransform="matrix(1.028 0 0 1 74.92 0)"><rect width="11.0" height="1" fill="url(#n4)"/></pattern><pattern id="p4_80" width="11.0" height="1" patternUnits="userSpaceOnUse" patternTransform="matrix(1.028 0 0 1 74.15 0)"><rect width="11.0" height="1" fill="url(#n4)"/></pattern><pattern id="p4_81" width="11.0" height="1" patternUnits="userSpaceOnUse" patternTransform="matrix(1.045 0 0 1 74.54 0)"><rect width="11.0" height="1" fill="url(#n4)"/></pattern><pattern id="p4_82" width="11.0" height="1" patternUnits="userSpaceOnUse" patternTransform="matrix(1.045 0 0 1 75.34 0)"><rect width="11.0" height="1" fill="url(#n4)"/></pattern><pattern id="p4_83" width="11.0" height="1" patternUnits="userSpaceOnUse" patternTransform="matrix(1.045 0 0 1 76.14 0)"><rect width="11.0" height="1" fill="url(#n4)"/></pattern><pattern id="p4_84" width="11.0" height="1" patternUnits="userSpaceOnUse" patternTransform="matrix(0.805 0 0 1 72.22 0)"><rect width="11.0" height="1" fill="url(#n4)"/></pattern><pattern id="p4_85" width="11.0" height="1" patternUnits="userSpaceOnUse" patternTransform="matrix(0.805 0 0 1 72.92 0)"><rect width="11.0" height="1" fill="url(#n4)"/></pattern><pattern id="p4_86" width="11.0" height="1" patternUnits="userSpaceOnUse" patternTransform="matrix(0.805 0 0 1 73.63 0)"><rect width="11.0" height="1" fill="url(#n4)"/></pattern><pattern id="p4_87" width="11.0" height="1" patternUnits="userSpaceOnUse" patternTransform="matrix(0.805 0 0 1 74.33 0)"><rect width="11.0" height="1" fill="url(#n4)"/></pattern><pattern id="p4_88" width="11.0" height="1" patternUnits="userSpaceOnUse" patternTransform="matrix(0.930 0 0 1 73.08 0)"><rect width="11.0" height="1" fill="url(#n4)"/></pattern><pattern id="p4_89" width="11.0" height="1" patternUnits="userSpaceOnUse" patternTransform="matrix(0.930 0 0 1 73.89 0)"><rect width="11.0" height="1" fill="url(#n4)"/></pattern><pattern id="p4_90" width="11.0" height="1" patternUnits="userSpaceOnUse" patternTransform="matrix(0.930 0 0 1 74.70 0)"><rect width="11.0" height="1" fill="url(#n4)"/></pattern><pattern id="p4_91" width="11.0" height="1" patternUnits="userSpaceOnUse" patternTransform="matrix(1.199 0 0 1 72.44 0)"><rect width="11.0" height="1" fill="url(#n4)"/></pattern><pattern id="p4_92" width="11.0" height="1" patternUnits="userSpaceOnUse" patternTransform="matrix(1.199 0 0 1 73.55 0)"><rect width="11.0" height="1" fill="url(#n4)"/></pattern><pattern id="p4_93" width="11.0" height="1" patternUnits="userSpaceOnUse" patternTransform="matrix(1.199 0 0 1 74.65 0)"><rect width="11.0" height="1" fill="url(#n4)"/></pattern><pattern id="p4_94" width="11.0" height="1" patternUnits="userSpaceOnUse" patternTransform="matrix(1.000 0 0 1 71.14 0)"><rect width="11.0" height="1" fill="url(#n4)"/></pattern><pattern id="p4_95" width="11.0" height="1" patternUnits="userSpaceOnUse" patternTransform="matrix(1.000 0 0 1 71.11 0)"><rect width="11.0" height="1" fill="url(#n4)"/></pattern><pattern id="p4_96" width="11.0" height="1" patternUnits="userSpaceOnUse" patternTransform="matrix(0.952 0 0 1 72.65 0)"><rect width="11.0" height="1" fill="url(#n4)"/></pattern><pattern id="p4_97" width="11.0" height="1" patternUnits="userSpaceOnUse" patternTransform="matrix(0.952 0 0 1 73.15 0)"><rect width="11.0" height="1" fill="url(#n4)"/></pattern><pattern id="p4_98" width="11.0" height="1" patternUnits="userSpaceOnUse" patternTransform="matrix(0.952 0 0 1 73.65 0)"><rect width="11.0" height="1" fill="url(#n4)"/></pattern><pattern id="p4_99" width="11.0" height="1" patternUnits="userSpaceOnUse" patternTransform="matrix(1.064 0 0 1 76.07 0)"><rect width="11.0" height="1" fill="url(#n4)"/></pattern><pattern id="p4_100" width="11.0" height="1" patternUnits="userSpaceOnUse" patternTransform="matrix(1.064 0 0 1 76.71 0)"><rect width="11.0" height="1" fill="url(#n4)"/></pattern><pattern id="p4_101" width="11.0" height="1" patternUnits="userSpaceOnUse" patternTransform="matrix(1.064 0 0 1 77.35 0)"><rect width="11.0" height="1" fill="url(#n4)"/></pattern><pattern id="p4_102" width="11.0" height="1" patternUnits="userSpaceOnUse" patternTransform="matrix(1.074 0 0 1 76.53 0)"><rect width="11.0" height="1" fill="url(#n4)"/></pattern><pattern id="p4_103" width="11.0" height="1" patternUnits="userSpaceOnUse" patternTransform="matrix(1.074 0 0 1 76.58 0)"><rect width="11.0" height="1" fill="url(#n4)"/></pattern><pattern id="p4_104" width="11.0" height="1" patternUnits="userSpaceOnUse" patternTransform="matrix(1.074 0 0 1 76.63 0)"><rect width="11.0" height="1" fill="url(#n4)"/></pattern><pattern id="p4_105" width="11.0" height="1" patternUnits="userSpaceOnUse" patternTransform="matrix(1.159 0 0 1 79.20 0)"><rect width="11.0" height="1" fill="url(#n4)"/></pattern><pattern id="p4_106" width="11.0" height="1" patternUnits="userSpaceOnUse" patternTransform="matrix(1.159 0 0 1 79.30 0)"><rect width="11.0" height="1" fill="url(#n4)"/></pattern><pattern id="p4_107" width="11.0" height="1" patternUnits="userSpaceOnUse" patternTransform="matrix(1.159 0 0 1 79.39 0)"><rect width="11.0" height="1" fill="url(#n4)"/></pattern><pattern id="p4_108" width="11.0" height="1" patternUnits="userSpaceOnUse" patternTransform="matrix(0.919 0 0 1 77.07 0)"><rect width="11.0" height="1" fill="url(#n4)"/></pattern><pattern id="p4_109" width="11.0" height="1" patternUnits="userSpaceOnUse" patternTransform="matrix(0.919 0 0 1 76.92 0)"><rect width="11.0" height="1" fill="url(#n4)"/></pattern><pattern id="p4_110" width="11.0" height="1" patternUnits="userSpaceOnUse" patternTransform="matrix(0.919 0 0 1 76.77 0)"><rect width="11.0" height="1" fill="url(#n4)"/></pattern><pattern id="p4_111" width="11.0" height="1" patternUnits="userSpaceOnUse" patternTransform="matrix(1.077 0 0 1 78.23 0)"><rect width="11.0" height="1" fill="url(#n4)"/></pattern><pattern id="p4_112" width="11.0" height="1" patternUnits="userSpaceOnUse" patternTransform="matrix(1.077 0 0 1 78.17 0)"><rect width="11.0" height="1" fill="url(#n4)"/></pattern><pattern id="p4_113" width="11.0" height="1" patternUnits="userSpaceOnUse" patternTransform="matrix(1.077 0 0 1 78.11 0)"><rect width="11.0" height="1" fill="url(#n4)"/></pattern><pattern id="p4_114" width="11.0" height="1" patternUnits="userSpaceOnUse" patternTransform="matrix(1.036 0 0 1 74.86 0)"><rect width="11.0" height="1" fill="url(#n4)"/></pattern><pattern id="p4_115" width="11.0" height="1" patternUnits="userSpaceOnUse" patternTransform="matrix(1.036 0 0 1 74.32 0)"><rect width="11.0" height="1" fill="url(#n4)"/></pattern><pattern id="p4_116" width="11.0" height="1" patternUnits="userSpaceOnUse" patternTransform="matrix(1.036 0 0 1 73.77 0)"><rect width="11.0" height="1" fill="url(#n4)"/></pattern><pattern id="p4_117" width="11.0" height="1" patternUnits="userSpaceOnUse" patternTransform="matrix(0.926 0 0 1 73.84 0)"><rect width="11.0" height="1" fill="url(#n4)"/></pattern><pattern id="p4_118" width="11.0" height="1" patternUnits="userSpaceOnUse" patternTransform="matrix(0.926 0 0 1 73.86 0)"><rect width="11.0" height="1" fill="url(#n4)"/></pattern><pattern id="p4_119" width="11.0" height="1" patternUnits="userSpaceOnUse" patternTransform="matrix(0.926 0 0 1 73.89 0)"><rect width="11.0" height="1" fill="url(#n4)"/></pattern><pattern id="p4_120" width="11.0" height="1" patternUnits="userSpaceOnUse" patternTransform="matrix(0.989 0 0 1 74.75 0)"><rect width="11.0" height="1" fill="url(#n4)"/></pattern><pattern id="p4_121" width="11.0" height="1" patternUnits="userSpaceOnUse" patternTransform="matrix(0.989 0 0 1 75.55 0)"><rect width="11.0" height="1" fill="url(#n4)"/></pattern><pattern id="p4_122" width="11.0" height="1" patternUnits="userSpaceOnUse" patternTransform="matrix(0.989 0 0 1 76.35 0)"><rect width="11.0" height="1" fill="url(#n4)"/></pattern><pattern id="p4_123" width="11.0" height="1" patternUnits="userSpaceOnUse" patternTransform="matrix(1.083 0 0 1 73.77 0)"><rect width="11.0" height="1" fill="url(#n4)"/></pattern><pattern id="p4_124" width="11.0" height="1" patternUnits="userSpaceOnUse" patternTransform="matrix(1.083 0 0 1 73.52 0)"><rect width="11.0" height="1" fill="url(#n4)"/></pattern><pattern id="p4_125" width="11.0" height="1" patternUnits="userSpaceOnUse" patternTransform="matrix(1.083 0 0 1 73.27 0)"><rect width="11.0" height="1" fill="url(#n4)"/></pattern><pattern id="p4_126" width="11.0" height="1" patternUnits="userSpaceOnUse" patternTransform="matrix(1.005 0 0 1 78.39 0)"><rect width="11.0" height="1" fill="url(#n4)"/></pattern><pattern id="p4_127" width="11.0" height="1" patternUnits="userSpaceOnUse" patternTransform="matrix(1.005 0 0 1 78.51 0)"><rect width="11.0" height="1" fill="url(#n4)"/></pattern><pattern id="p4_128" width="11.0" height="1" patternUnits="userSpaceOnUse" patternTransform="matrix(0.939 0 0 1 72.57 0)"><rect width="11.0" height="1" fill="url(#n4)"/></pattern><pattern id="p4_129" width="11.0" height="1" patternUnits="userSpaceOnUse" patternTransform="matrix(0.939 0 0 1 72.10 0)"><rect width="11.0" height="1" fill="url(#n4)"/></pattern><pattern id="p4_130" width="11.0" height="1" patternUnits="userSpaceOnUse" patternTransform="matrix(0.939 0 0 1 71.62 0)"><rect width="11.0" height="1" fill="url(#n4)"/></pattern><pattern id="p4_131" width="11.0" height="1" patternUnits="userSpaceOnUse" patternTransform="matrix(1.062 0 0 1 76.46 0)"><rect width="11.0" height="1" fill="url(#n4)"/></pattern><pattern id="p4_132" width="11.0" height="1" patternUnits="userSpaceOnUse" patternTransform="matrix(1.062 0 0 1 76.45 0)"><rect width="11.0" height="1" fill="url(#n4)"/></pattern><pattern id="p4_133" width="11.0" height="1" patternUnits="userSpaceOnUse" patternTransform="matrix(1.062 0 0 1 76.45 0)"><rect width="11.0" height="1" fill="url(#n4)"/></pattern><pattern id="p4_134" width="11.0" height="1" patternUnits="userSpaceOnUse" patternTransform="matrix(0.993 0 0 1 70.81 0)"><rect width="11.0" height="1" fill="url(#n4)"/></pattern><pattern id="p4_135" width="11.0" height="1" patternUnits="userSpaceOnUse" patternTransform="matrix(0.993 0 0 1 71.66 0)"><rect width="11.0" height="1" fill="url(#n4)"/></pattern><pattern id="p4_136" width="11.0" height="1" patternUnits="userSpaceOnUse" patternTransform="matrix(0.993 0 0 1 72.52 0)"><rect width="11.0" height="1" fill="url(#n4)"/></pattern></defs>
<g transform="translate(316.4 574)" filter="url(#blur)"><rect y="0" width="138" height="1" fill="url(#p4_0)" fill-opacity="0.19"/><rect y="1" width="138" height="1" fill="url(#p4_1)" fill-opacity="0.32"/><rect y="2" width="138" height="1" fill="url(#p4_2)" fill-opacity="0.20"/><rect y="3" width="138" height="1" fill="url(#p4_3)" fill-opacity="0.42"/><rect y="4" width="138" height="1" fill="url(#p4_4)" fill-opacity="0.76"/><rect y="5" width="138" height="1" fill="url(#p4_5)" fill-opacity="0.66"/><rect y="6" width="138" height="1" fill="url(#p4_6)" fill-opacity="0.52"/><rect y="7" width="138" height="1" fill="url(#p4_7)" fill-opacity="0.23"/><rect y="8" width="138" height="1" fill="url(#p4_8)" fill-opacity="0.49"/><rect y="9" width="138" height="1" fill="url(#p4_9)" fill-opacity="0.25"/><rect y="10" width="138" height="1" fill="url(#p4_10)" fill-opacity="0.28"/><rect y="11" width="138" height="1" fill="url(#p4_11)" fill-opacity="0.34"/><rect y="12" width="138" height="1" fill="url(#p4_12)" fill-opacity="0.43"/><rect y="13" width="138" height="1" fill="url(#p4_13)" fill-opacity="0.25"/><rect y="14" width="138" height="1" fill="url(#p4_14)" fill-opacity="0.32"/><rect y="15" width="138" height="1" fill="url(#p4_15)" fill-opacity="0.63"/><rect y="16" width="138" height="1" fill="url(#p4_16)" fill-opacity="0.65"/><rect y="17" width="138" height="1" fill="url(#p4_17)" fill-opacity="0.40"/><rect y="18" width="138" height="1" fill="url(#p4_18)" fill-opacity="0.22"/><rect y="19" width="138" height="1" fill="url(#p4_19)" fill-opacity="0.44"/><rect y="20" width="138" height="1" fill="url(#p4_20)" fill-opacity="0.45"/><rect y="21" width="138" height="1" fill="url(#p4_21)" fill-opacity="0.35"/><rect y="22" width="138" height="1" fill="url(#p4_22)" fill-opacity="0.51"/><rect y="23" width="138" height="1" fill="url(#p4_23)" fill-opacity="0.54"/><rect y="24" width="138" height="1" fill="url(#p4_24)" fill-opacity="0.67"/><rect y="25" width="138" height="1" fill="url(#p4_25)" fill-opacity="0.70"/><rect y="26" width="138" height="1" fill="url(#p4_26)" fill-opacity="0.32"/><rect y="27" width="138" height="1" fill="url(#p4_27)" fill-opacity="0.50"/><rect y="28" width="138" height="1" fill="url(#p4_28)" fill-opacity="0.36"/><rect y="29" width="138" height="1" fill="url(#p4_29)" fill-opacity="0.23"/><rect y="30" width="138" height="1" fill="url(#p4_30)" fill-opacity="0.63"/><rect y="31" width="138" height="1" fill="url(#p4_31)" fill-opacity="0.28"/><rect y="32" width="138" height="1" fill="url(#p4_32)" fill-opacity="0.13"/><rect y="33" width="138" height="1" fill="url(#p4_33)" fill-opacity="0.32"/><rect y="34" width="138" height="1" fill="url(#p4_34)" fill-opacity="0.36"/><rect y="35" width="138" height="1" fill="url(#p4_35)" fill-opacity="0.30"/><rect y="36" width="138" height="1" fill="url(#p4_36)" fill-opacity="0.22"/><rect y="37" width="138" height="1" fill="url(#p4_37)" fill-opacity="0.46"/><rect y="38" width="138" height="1" fill="url(#p4_38)" fill-opacity="0.25"/><rect y="39" width="138" height="1" fill="url(#p4_39)" fill-opacity="0.32"/><rect y="40" width="138" height="1" fill="url(#p4_40)" fill-opacity="0.63"/><rect y="41" width="138" height="1" fill="url(#p4_41)" fill-opacity="0.34"/><rect y="42" width="138" height="1" fill="url(#p4_42)" fill-opacity="0.41"/><rect y="43" width="138" height="1" fill="url(#p4_43)" fill-opacity="0.70"/><rect y="44" width="138" height="1" fill="url(#p4_44)" fill-opacity="0.41"/><rect y="45" width="138" height="1" fill="url(#p4_45)" fill-opacity="0.32"/><rect y="46" width="138" height="1" fill="url(#p4_46)" fill-opacity="0.59"/><rect y="47" width="138" height="1" fill="url(#p4_47)" fill-opacity="0.31"/><rect y="48" width="138" height="1" fill="url(#p4_48)" fill-opacity="0.26"/><rect y="49" width="138" height="1" fill="url(#p4_49)" fill-opacity="0.35"/><rect y="50" width="138" height="1" fill="url(#p4_50)" fill-opacity="0.32"/><rect y="51" width="138" height="1" fill="url(#p4_51)" fill-opacity="0.34"/><rect y="52" width="138" height="1" fill="url(#p4_52)" fill-opacity="0.62"/><rect y="53" width="138" height="1" fill="url(#p4_53)" fill-opacity="0.65"/><rect y="54" width="138" height="1" fill="url(#p4_54)" fill-opacity="0.30"/><rect y="55" width="138" height="1" fill="url(#p4_55)" fill-opacity="0.38"/><rect y="56" width="138" height="1" fill="url(#p4_56)" fill-opacity="0.58"/><rect y="57" width="138" height="1" fill="url(#p4_57)" fill-opacity="0.31"/><rect y="58" width="138" height="1" fill="url(#p4_58)" fill-opacity="0.43"/><rect y="59" width="138" height="1" fill="url(#p4_59)" fill-opacity="0.70"/><rect y="60" width="138" height="1" fill="url(#p4_60)" fill-opacity="0.38"/><rect y="61" width="138" height="1" fill="url(#p4_61)" fill-opacity="0.33"/><rect y="62" width="138" height="1" fill="url(#p4_62)" fill-opacity="0.58"/><rect y="63" width="138" height="1" fill="url(#p4_63)" fill-opacity="0.26"/><rect y="64" width="138" height="1" fill="url(#p4_64)" fill-opacity="0.54"/><rect y="65" width="138" height="1" fill="url(#p4_65)" fill-opacity="0.56"/><rect y="66" width="138" height="1" fill="url(#p4_66)" fill-opacity="0.36"/><rect y="67" width="138" height="1" fill="url(#p4_67)" fill-opacity="0.76"/><rect y="68" width="138" height="1" fill="url(#p4_68)" fill-opacity="0.38"/><rect y="69" width="138" height="1" fill="url(#p4_69)" fill-opacity="0.23"/><rect y="70" width="138" height="1" fill="url(#p4_70)" fill-opacity="0.56"/><rect y="71" width="138" height="1" fill="url(#p4_71)" fill-opacity="0.32"/><rect y="72" width="138" height="1" fill="url(#p4_72)" fill-opacity="0.30"/><rect y="73" width="138" height="1" fill="url(#p4_73)" fill-opacity="0.69"/><rect y="74" width="138" height="1" fill="url(#p4_74)" fill-opacity="0.66"/><rect y="75" width="138" height="1" fill="url(#p4_75)" fill-opacity="0.35"/><rect y="76" width="138" height="1" fill="url(#p4_76)" fill-opacity="0.36"/><rect y="77" width="138" height="1" fill="url(#p4_77)" fill-opacity="0.66"/><rect y="78" width="138" height="1" fill="url(#p4_78)" fill-opacity="0.38"/><rect y="79" width="138" height="1" fill="url(#p4_79)" fill-opacity="0.46"/><rect y="80" width="138" height="1" fill="url(#p4_80)" fill-opacity="0.47"/><rect y="81" width="138" height="1" fill="url(#p4_81)" fill-opacity="0.28"/><rect y="82" width="138" height="1" fill="url(#p4_82)" fill-opacity="0.53"/><rect y="83" width="138" height="1" fill="url(#p4_83)" fill-opacity="0.16"/><rect y="84" width="138" height="1" fill="url(#p4_84)" fill-opacity="0.26"/><rect y="85" width="138" height="1" fill="url(#p4_85)" fill-opacity="0.52"/><rect y="86" width="138" height="1" fill="url(#p4_86)" fill-opacity="0.61"/><rect y="87" width="138" height="1" fill="url(#p4_87)" fill-opacity="0.37"/><rect y="88" width="138" height="1" fill="url(#p4_88)" fill-opacity="0.32"/><rect y="89" width="138" height="1" fill="url(#p4_89)" fill-opacity="0.60"/><rect y="90" width="138" height="1" fill="url(#p4_90)" fill-opacity="0.33"/><rect y="91" width="138" height="1" fill="url(#p4_91)" fill-opacity="0.23"/><rect y="92" width="138" height="1" fill="url(#p4_92)" fill-opacity="0.49"/><rect y="93" width="138" height="1" fill="url(#p4_93)" fill-opacity="0.29"/><rect y="94" width="138" height="1" fill="url(#p4_94)" fill-opacity="0.34"/><rect y="95" width="138" height="1" fill="url(#p4_95)" fill-opacity="0.44"/><rect y="96" width="138" height="1" fill="url(#p4_96)" fill-opacity="0.25"/><rect y="97" width="138" height="1" fill="url(#p4_97)" fill-opacity="0.38"/><rect y="98" width="138" height="1" fill="url(#p4_98)" fill-opacity="0.30"/><rect y="99" width="138" height="1" fill="url(#p4_99)" fill-opacity="0.37"/><rect y="100" width="138" height="1" fill="url(#p4_100)" fill-opacity="0.56"/><rect y="101" width="138" height="1" fill="url(#p4_101)" fill-opacity="0.31"/><rect y="102" width="138" height="1" fill="url(#p4_102)" fill-opacity="0.43"/><rect y="103" width="138" height="1" fill="url(#p4_103)" fill-opacity="0.85"/><rect y="104" width="138" height="1" fill="url(#p4_104)" fill-opacity="0.40"/><rect y="105" width="138" height="1" fill="url(#p4_105)" fill-opacity="0.31"/><rect y="106" width="138" height="1" fill="url(#p4_106)" fill-opacity="0.52"/><rect y="107" width="138" height="1" fill="url(#p4_107)" fill-opacity="0.26"/><rect y="108" width="138" height="1" fill="url(#p4_108)" fill-opacity="0.37"/><rect y="109" width="138" height="1" fill="url(#p4_109)" fill-opacity="0.52"/><rect y="110" width="138" height="1" fill="url(#p4_110)" fill-opacity="0.26"/><rect y="111" width="138" height="1" fill="url(#p4_111)" fill-opacity="0.42"/><rect y="112" width="138" height="1" fill="url(#p4_112)" fill-opacity="0.58"/><rect y="113" width="138" height="1" fill="url(#p4_113)" fill-opacity="0.39"/><rect y="114" width="138" height="1" fill="url(#p4_114)" fill-opacity="0.39"/><rect y="115" width="138" height="1" fill="url(#p4_115)" fill-opacity="0.78"/><rect y="116" width="138" height="1" fill="url(#p4_116)" fill-opacity="0.48"/><rect y="117" width="138" height="1" fill="url(#p4_117)" fill-opacity="0.39"/><rect y="118" width="138" height="1" fill="url(#p4_118)" fill-opacity="0.77"/><rect y="119" width="138" height="1" fill="url(#p4_119)" fill-opacity="0.42"/><rect y="120" width="138" height="1" fill="url(#p4_120)" fill-opacity="0.20"/><rect y="121" width="138" height="1" fill="url(#p4_121)" fill-opacity="0.66"/><rect y="122" width="138" height="1" fill="url(#p4_122)" fill-opacity="0.28"/><rect y="123" width="138" height="1" fill="url(#p4_123)" fill-opacity="0.30"/><rect y="124" width="138" height="1" fill="url(#p4_124)" fill-opacity="0.51"/><rect y="125" width="138" height="1" fill="url(#p4_125)" fill-opacity="0.23"/><rect y="126" width="138" height="1" fill="url(#p4_126)" fill-opacity="0.61"/><rect y="127" width="138" height="1" fill="url(#p4_127)" fill-opacity="0.70"/><rect y="128" width="138" height="1" fill="url(#p4_128)" fill-opacity="0.21"/><rect y="129" width="138" height="1" fill="url(#p4_129)" fill-opacity="0.48"/><rect y="130" width="138" height="1" fill="url(#p4_130)" fill-opacity="0.19"/><rect y="131" width="138" height="1" fill="url(#p4_131)" fill-opacity="0.30"/><rect y="132" width="138" height="1" fill="url(#p4_132)" fill-opacity="0.65"/><rect y="133" width="138" height="1" fill="url(#p4_133)" fill-opacity="0.34"/><rect y="134" width="138" height="1" fill="url(#p4_134)" fill-opacity="0.22"/><rect y="135" width="138" height="1" fill="url(#p4_135)" fill-opacity="0.44"/><rect y="136" width="138" height="1" fill="url(#p4_136)" fill-opacity="0.25"/><rect y="129" width="138" height="0.6" fill="#1a2a80" fill-opacity="0.21"/><rect y="37" width="138" height="0.6" fill="#801020" fill-opacity="0.19"/><rect y="20" width="138" height="0.6" fill="#801020" fill-opacity="0.17"/><rect y="22" width="138" height="0.6" fill="#1a2a80" fill-opacity="0.28"/><rect y="89" width="138" height="0.6" fill="#801020" fill-opacity="0.23"/><rect y="38" width="138" height="0.6" fill="#801020" fill-opacity="0.33"/><rect y="94" width="138" height="0.6" fill="#1a2a80" fill-opacity="0.32"/><rect y="92" width="138" height="0.6" fill="#1a2a80" fill-opacity="0.40"/><rect y="121" width="138" height="0.8" fill="#fff" fill-opacity="0.37"/><rect y="53" width="138" height="0.8" fill="#fff" fill-opacity="0.26"/><rect y="121" width="138" height="0.8" fill="#fff" fill-opacity="0.32"/><rect y="84" width="138" height="0.8" fill="#fff" fill-opacity="0.39"/><rect y="76" width="138" height="0.8" fill="#fff" fill-opacity="0.48"/><rect y="81" width="138" height="0.8" fill="#fff" fill-opacity="0.31"/><rect y="43" width="138" height="0.8" fill="#fff" fill-opacity="0.41"/><rect y="56" width="138" height="0.8" fill="#fff" fill-opacity="0.48"/><rect y="22" width="138" height="0.8" fill="#fff" fill-opacity="0.31"/><rect y="67" width="138" height="0.8" fill="#fff" fill-opacity="0.41"/><rect y="1" width="138" height="0.8" fill="#fff" fill-opacity="0.31"/><rect y="63" width="138" height="0.8" fill="#fff" fill-opacity="0.28"/><rect y="124" width="138" height="0.8" fill="#fff" fill-opacity="0.38"/></g>
<rect x="316.4" y="574" width="138" height="137" fill="none" stroke="#8890a8" stroke-width="0.8"/>
<line x1="385.4" y1="574" x2="385.4" y2="710.8" stroke="#334" stroke-width="0.65" opacity="0.65"/>
<line x1="313.9" y1="600.3" x2="316.4" y2="600.3" stroke="#555" stroke-width="1"/>
<text x="309.9" y="606.5" font-size="12.7" text-anchor="end">2000</text>
<line x1="313.9" y1="628.3" x2="316.4" y2="628.3" stroke="#555" stroke-width="1"/>
<line x1="313.9" y1="656.3" x2="316.4" y2="656.3" stroke="#555" stroke-width="1"/>
<text x="309.9" y="662.5" font-size="12.7" text-anchor="end">1000</text>
<line x1="313.9" y1="684.3" x2="316.4" y2="684.3" stroke="#555" stroke-width="1"/>
<line x1="316.4" y1="710.8" x2="316.4" y2="713.3" stroke="#555" stroke-width="0.8"/>
<line x1="333.65" y1="710.8" x2="333.65" y2="712.3" stroke="#555" stroke-width="0.8"/>
<line x1="350.9" y1="710.8" x2="350.9" y2="713.3" stroke="#555" stroke-width="0.8"/>
<line x1="368.15" y1="710.8" x2="368.15" y2="712.3" stroke="#555" stroke-width="0.8"/>
<line x1="385.4" y1="710.8" x2="385.4" y2="713.3" stroke="#555" stroke-width="0.8"/>
<line x1="402.65" y1="710.8" x2="402.65" y2="712.3" stroke="#555" stroke-width="0.8"/>
<line x1="419.9" y1="710.8" x2="419.9" y2="713.3" stroke="#555" stroke-width="0.8"/>
<line x1="437.15" y1="710.8" x2="437.15" y2="712.3" stroke="#555" stroke-width="0.8"/>
<line x1="454.4" y1="710.8" x2="454.4" y2="713.3" stroke="#555" stroke-width="0.8"/>
<text x="311.4" y="726.2" font-size="12.4" text-anchor="middle">-40</text>
<text x="348.2" y="726.2" font-size="12.4" text-anchor="middle">-20</text>
<text x="384.09999999999997" y="726.2" font-size="12.4" text-anchor="middle">0</text>
<text x="418.59999999999997" y="726.2" font-size="12.4" text-anchor="middle">20</text>
<text x="454.2" y="726.2" font-size="12.4" text-anchor="middle">40</text>
<text x="385.7" y="741.8" font-size="12.5" text-anchor="middle" letter-spacing="1.2">ms</text>
<text x="14.4" y="520.6" font-size="12.5" text-anchor="middle" transform="rotate(-90 14.4 520.6)" letter-spacing="0.45">Events (OB right trigger)</text>
<text x="267.3" y="520.4" font-size="12.5" text-anchor="middle" transform="rotate(-90 267.3 520.4)" letter-spacing="0.45">Events (OB left trigger)</text>
<defs><linearGradient id="cb355" x1="0" y1="0" x2="0" y2="1"><stop offset="0.000" stop-color="#a00005"/><stop offset="0.062" stop-color="#b10308"/><stop offset="0.125" stop-color="#c1070b"/><stop offset="0.188" stop-color="#d12327"/><stop offset="0.250" stop-color="#df4f54"/><stop offset="0.312" stop-color="#ec7c80"/><stop offset="0.375" stop-color="#f3a6a9"/><stop offset="0.438" stop-color="#f9d1d3"/><stop offset="0.500" stop-color="#ffffff"/><stop offset="0.562" stop-color="#cdd5fb"/><stop offset="0.625" stop-color="#9ba9f4"/><stop offset="0.688" stop-color="#697cec"/><stop offset="0.750" stop-color="#4151df"/><stop offset="0.812" stop-color="#1b26d1"/><stop offset="0.875" stop-color="#040ac1"/><stop offset="0.938" stop-color="#0205b1"/><stop offset="1.000" stop-color="#0000a0"/></linearGradient></defs>
<rect x="467.9" y="355.9" width="5.6" height="137.8" fill="url(#cb355)" stroke="#888" stroke-width="0.6"/>
<line x1="472.0" y1="373.125" x2="473.5" y2="373.125" stroke="#666" stroke-width="0.6"/>
<line x1="472.0" y1="390.34999999999997" x2="473.5" y2="390.34999999999997" stroke="#666" stroke-width="0.6"/>
<line x1="472.0" y1="407.575" x2="473.5" y2="407.575" stroke="#666" stroke-width="0.6"/>
<line x1="472.0" y1="424.79999999999995" x2="473.5" y2="424.79999999999995" stroke="#666" stroke-width="0.6"/>
<line x1="472.0" y1="442.025" x2="473.5" y2="442.025" stroke="#666" stroke-width="0.6"/>
<line x1="472.0" y1="459.25" x2="473.5" y2="459.25" stroke="#666" stroke-width="0.6"/>
<line x1="472.0" y1="476.475" x2="473.5" y2="476.475" stroke="#666" stroke-width="0.6"/>
<text x="465.29999999999995" y="351.59999999999997" font-size="10">mV</text>
<text x="478.09999999999997" y="359.7" font-size="9.6">0.15</text>
<text x="478.09999999999997" y="428.29999999999995" font-size="9.6">0</text>
<text x="476.4" y="496.3" font-size="9.6">-0.15</text>
<defs><linearGradient id="cb574" x1="0" y1="0" x2="0" y2="1"><stop offset="0.000" stop-color="#a00005"/><stop offset="0.062" stop-color="#b10308"/><stop offset="0.125" stop-color="#c1070b"/><stop offset="0.188" stop-color="#d12327"/><stop offset="0.250" stop-color="#df4f54"/><stop offset="0.312" stop-color="#ec7c80"/><stop offset="0.375" stop-color="#f3a6a9"/><stop offset="0.438" stop-color="#f9d1d3"/><stop offset="0.500" stop-color="#ffffff"/><stop offset="0.562" stop-color="#cdd5fb"/><stop offset="0.625" stop-color="#9ba9f4"/><stop offset="0.688" stop-color="#697cec"/><stop offset="0.750" stop-color="#4151df"/><stop offset="0.812" stop-color="#1b26d1"/><stop offset="0.875" stop-color="#040ac1"/><stop offset="0.938" stop-color="#0205b1"/><stop offset="1.000" stop-color="#0000a0"/></linearGradient></defs>
<rect x="467.9" y="574" width="5.6" height="137.5" fill="url(#cb574)" stroke="#888" stroke-width="0.6"/>
<line x1="472.0" y1="591.1875" x2="473.5" y2="591.1875" stroke="#666" stroke-width="0.6"/>
<line x1="472.0" y1="608.375" x2="473.5" y2="608.375" stroke="#666" stroke-width="0.6"/>
<line x1="472.0" y1="625.5625" x2="473.5" y2="625.5625" stroke="#666" stroke-width="0.6"/>
<line x1="472.0" y1="642.75" x2="473.5" y2="642.75" stroke="#666" stroke-width="0.6"/>
<line x1="472.0" y1="659.9375" x2="473.5" y2="659.9375" stroke="#666" stroke-width="0.6"/>
<line x1="472.0" y1="677.125" x2="473.5" y2="677.125" stroke="#666" stroke-width="0.6"/>
<line x1="472.0" y1="694.3125" x2="473.5" y2="694.3125" stroke="#666" stroke-width="0.6"/>
<text x="465.29999999999995" y="569.7" font-size="10">mV</text>
<text x="478.09999999999997" y="577.8" font-size="9.6">0.03</text>
<text x="478.09999999999997" y="646.25" font-size="9.6">0</text>
<text x="476.4" y="714.1" font-size="9.6">-0.03</text>
<text x="605.6" y="354.3" font-size="23">OB</text>
<text x="608.3" y="571.3" font-size="23">PC</text>
<line x1="575.2" y1="379.9" x2="575.2" y2="495.25" stroke="#000" stroke-width="1.4"/>
<line x1="574.5" y1="494.65" x2="676.8" y2="494.65" stroke="#000" stroke-width="1.4"/>
<line x1="571.0" y1="379.9" x2="575.2" y2="379.9" stroke="#000" stroke-width="1.2"/>
<text x="570.0" y="384.09999999999997" font-size="10.6" text-anchor="end">10<tspan font-size="7.2" font-weight="normal" dx="1" dy="-4.2">-3</tspan></text>
<line x1="571.0" y1="418.15" x2="575.2" y2="418.15" stroke="#000" stroke-width="1.2"/>
<text x="570.0" y="422.34999999999997" font-size="10.6" text-anchor="end">10<tspan font-size="7.2" font-weight="normal" dx="1" dy="-4.2">-4</tspan></text>
<line x1="571.0" y1="456.4" x2="575.2" y2="456.4" stroke="#000" stroke-width="1.2"/>
<text x="570.0" y="460.59999999999997" font-size="10.6" text-anchor="end">10<tspan font-size="7.2" font-weight="normal" dx="1" dy="-4.2">-5</tspan></text>
<line x1="571.0" y1="494.65" x2="575.2" y2="494.65" stroke="#000" stroke-width="1.2"/>
<text x="570.0" y="498.84999999999997" font-size="10.6" text-anchor="end">10<tspan font-size="7.2" font-weight="normal" dx="1" dy="-4.2">-6</tspan></text>
<line x1="572.0" y1="406.6356026658527" x2="575.2" y2="406.6356026658527" stroke="#222" stroke-width="0.7"/>
<line x1="572.0" y1="399.9001120069729" x2="575.2" y2="399.9001120069729" stroke="#222" stroke-width="0.7"/>
<line x1="572.0" y1="395.1212053317054" x2="575.2" y2="395.1212053317054" stroke="#222" stroke-width="0.7"/>
<line x1="572.0" y1="391.4143973341473" x2="575.2" y2="391.4143973341473" stroke="#222" stroke-width="0.7"/>
<line x1="572.0" y1="388.3857146728256" x2="575.2" y2="388.3857146728256" stroke="#222" stroke-width="0.7"/>
<line x1="572.0" y1="385.82499996945467" x2="575.2" y2="385.82499996945467" stroke="#222" stroke-width="0.7"/>
<line x1="572.0" y1="383.6068079975581" x2="575.2" y2="383.6068079975581" stroke="#222" stroke-width="0.7"/>
<line x1="572.0" y1="381.65022401394583" x2="575.2" y2="381.65022401394583" stroke="#222" stroke-width="0.7"/>
<line x1="572.0" y1="444.8856026658527" x2="575.2" y2="444.8856026658527" stroke="#222" stroke-width="0.7"/>
<line x1="572.0" y1="438.1501120069729" x2="575.2" y2="438.1501120069729" stroke="#222" stroke-width="0.7"/>
<line x1="572.0" y1="433.3712053317054" x2="575.2" y2="433.3712053317054" stroke="#222" stroke-width="0.7"/>
<line x1="572.0" y1="429.6643973341473" x2="575.2" y2="429.6643973341473" stroke="#222" stroke-width="0.7"/>
<line x1="572.0" y1="426.6357146728256" x2="575.2" y2="426.6357146728256" stroke="#222" stroke-width="0.7"/>
<line x1="572.0" y1="424.07499996945467" x2="575.2" y2="424.07499996945467" stroke="#222" stroke-width="0.7"/>
<line x1="572.0" y1="421.8568079975581" x2="575.2" y2="421.8568079975581" stroke="#222" stroke-width="0.7"/>
<line x1="572.0" y1="419.90022401394583" x2="575.2" y2="419.90022401394583" stroke="#222" stroke-width="0.7"/>
<line x1="572.0" y1="483.1356026658527" x2="575.2" y2="483.1356026658527" stroke="#222" stroke-width="0.7"/>
<line x1="572.0" y1="476.4001120069729" x2="575.2" y2="476.4001120069729" stroke="#222" stroke-width="0.7"/>
<line x1="572.0" y1="471.6212053317054" x2="575.2" y2="471.6212053317054" stroke="#222" stroke-width="0.7"/>
<line x1="572.0" y1="467.9143973341473" x2="575.2" y2="467.9143973341473" stroke="#222" stroke-width="0.7"/>
<line x1="572.0" y1="464.8857146728256" x2="575.2" y2="464.8857146728256" stroke="#222" stroke-width="0.7"/>
<line x1="572.0" y1="462.32499996945467" x2="575.2" y2="462.32499996945467" stroke="#222" stroke-width="0.7"/>
<line x1="572.0" y1="460.1068079975581" x2="575.2" y2="460.1068079975581" stroke="#222" stroke-width="0.7"/>
<line x1="572.0" y1="458.15022401394583" x2="575.2" y2="458.15022401394583" stroke="#222" stroke-width="0.7"/>
<line x1="600.5" y1="494.65" x2="600.5" y2="498.65" stroke="#000" stroke-width="1.2"/>
<line x1="650.9" y1="494.65" x2="650.9" y2="498.65" stroke="#000" stroke-width="1.2"/>
<text x="604.1" y="508.95" font-size="11.4" text-anchor="end" transform="rotate(-45 604.1 508.95)">Ipsi-OB</text>
<text x="654.5" y="508.95" font-size="11.4" text-anchor="end" transform="rotate(-45 654.5 508.95)">Cont-OB</text>
<text x="543.2" y="436" font-size="10.9" text-anchor="middle" transform="rotate(-90 543.2 436)">HFO power [mV<tspan font-size="7.3" dy="-4.5">2</tspan><tspan dy="4.5">]</tspan></text>
<text x="617" y="382.4" font-size="11.2" font-weight="normal" fill="#222">n.s.</text>
<circle cx="590" cy="391.7" r="2.6" fill="#000"/>
<circle cx="600.6" cy="388.3" r="2.6" fill="#000"/>
<circle cx="610.3" cy="391.7" r="2.6" fill="#000"/>
<circle cx="585.4" cy="399.6" r="2.6" fill="#000"/>
<circle cx="595.6" cy="397.3" r="2.6" fill="#000"/>
<circle cx="603.5" cy="396.2" r="2.6" fill="#000"/>
<circle cx="614.9" cy="399.6" r="2.6" fill="#000"/>
<circle cx="590" cy="400.5" r="2.6" fill="#000"/>
<circle cx="608" cy="399" r="2.6" fill="#000"/>
<circle cx="593.4" cy="403" r="2.6" fill="#000"/>
<circle cx="597.9" cy="404.1" r="2.6" fill="#000"/>
<circle cx="608.1" cy="404.1" r="2.6" fill="#000"/>
<circle cx="602" cy="401" r="2.6" fill="#000"/>
<circle cx="593.4" cy="410.2" r="2.6" fill="#000"/>
<circle cx="606.9" cy="411.6" r="2.6" fill="#000"/>
<circle cx="600.6" cy="414.8" r="2.6" fill="#000"/>
<circle cx="588" cy="404" r="2.6" fill="#000"/>
<circle cx="612" cy="402" r="2.6" fill="#000"/>
<circle cx="597" cy="407" r="2.6" fill="#000"/>
<circle cx="603.5" cy="407.5" r="2.6" fill="#000"/>
<circle cx="599" cy="398" r="2.6" fill="#000"/>
<circle cx="605" cy="397.5" r="2.6" fill="#000"/>
<line x1="584.3" y1="400.3" x2="617.1" y2="400.3" stroke="#fff" stroke-width="1.3"/>
<line x1="592" y1="398.3" x2="609" y2="398.3" stroke="#fff" stroke-width="0.9"/>
<line x1="592" y1="402.3" x2="609" y2="402.3" stroke="#fff" stroke-width="0.9"/>
<circle cx="637.5" cy="388.3" r="2.4" fill="#fff" stroke="#444" stroke-width="0.8"/>
<circle cx="642" cy="390.6" r="2.4" fill="#fff" stroke="#444" stroke-width="0.8"/>
<circle cx="646.5" cy="392.8" r="2.4" fill="#fff" stroke="#444" stroke-width="0.8"/>
<circle cx="651.1" cy="392.8" r="2.4" fill="#fff" stroke="#444" stroke-width="0.8"/>
<circle cx="655.6" cy="391.7" r="2.4" fill="#fff" stroke="#444" stroke-width="0.8"/>
<circle cx="660.1" cy="389.4" r="2.4" fill="#fff" stroke="#444" stroke-width="0.8"/>
<circle cx="664.6" cy="387.2" r="2.4" fill="#fff" stroke="#444" stroke-width="0.8"/>
<circle cx="640.9" cy="396.2" r="2.4" fill="#fff" stroke="#444" stroke-width="0.8"/>
<circle cx="661.3" cy="393.9" r="2.4" fill="#fff" stroke="#444" stroke-width="0.8"/>
<circle cx="654" cy="398.5" r="2.4" fill="#fff" stroke="#444" stroke-width="0.8"/>
<circle cx="647.7" cy="401.2" r="2.4" fill="#fff" stroke="#444" stroke-width="0.8"/>
<circle cx="647.2" cy="407.1" r="2.4" fill="#fff" stroke="#444" stroke-width="0.8"/>
<circle cx="644.3" cy="408.7" r="2.4" fill="#fff" stroke="#444" stroke-width="0.8"/>
<circle cx="654" cy="408" r="2.4" fill="#fff" stroke="#444" stroke-width="0.8"/>
<circle cx="657.9" cy="411.6" r="2.4" fill="#fff" stroke="#444" stroke-width="0.8"/>
<circle cx="651.1" cy="415" r="2.4" fill="#fff" stroke="#444" stroke-width="0.8"/>
<line x1="634.1" y1="396.2" x2="668" y2="396.2" stroke="#000" stroke-width="1.3"/>
<line x1="643" y1="394" x2="659" y2="394" stroke="#000" stroke-width="0.9"/>
<line x1="643" y1="398.5" x2="659" y2="398.5" stroke="#000" stroke-width="0.9"/>
<line x1="575.3" y1="597.8" x2="575.3" y2="714.11" stroke="#000" stroke-width="1.4"/>
<line x1="574.5999999999999" y1="713.51" x2="679.8" y2="713.51" stroke="#000" stroke-width="1.4"/>
<line x1="571.0999999999999" y1="597.8" x2="575.3" y2="597.8" stroke="#000" stroke-width="1.2"/>
<text x="570.0999999999999" y="602.0" font-size="10.6" text-anchor="end">10<tspan font-size="7.2" font-weight="normal" dx="1" dy="-4.2">-3</tspan></text>
<line x1="571.0999999999999" y1="636.37" x2="575.3" y2="636.37" stroke="#000" stroke-width="1.2"/>
<text x="570.0999999999999" y="640.57" font-size="10.6" text-anchor="end">10<tspan font-size="7.2" font-weight="normal" dx="1" dy="-4.2">-4</tspan></text>
<line x1="571.0999999999999" y1="674.9399999999999" x2="575.3" y2="674.9399999999999" stroke="#000" stroke-width="1.2"/>
<text x="570.0999999999999" y="679.14" font-size="10.6" text-anchor="end">10<tspan font-size="7.2" font-weight="normal" dx="1" dy="-4.2">-5</tspan></text>
<line x1="571.0999999999999" y1="713.51" x2="575.3" y2="713.51" stroke="#000" stroke-width="1.2"/>
<text x="570.0999999999999" y="717.71" font-size="10.6" text-anchor="end">10<tspan font-size="7.2" font-weight="normal" dx="1" dy="-4.2">-6</tspan></text>
<line x1="572.0999999999999" y1="624.7592730672402" x2="575.3" y2="624.7592730672402" stroke="#222" stroke-width="0.7"/>
<line x1="572.0999999999999" y1="617.9674332054626" x2="575.3" y2="617.9674332054626" stroke="#222" stroke-width="0.7"/>
<line x1="572.0999999999999" y1="613.1485461344805" x2="575.3" y2="613.1485461344805" stroke="#222" stroke-width="0.7"/>
<line x1="572.0999999999999" y1="609.4107269327598" x2="575.3" y2="609.4107269327598" stroke="#222" stroke-width="0.7"/>
<line x1="572.0999999999999" y1="606.3567062727029" x2="575.3" y2="606.3567062727029" stroke="#222" stroke-width="0.7"/>
<line x1="572.0999999999999" y1="603.7745685966502" x2="575.3" y2="603.7745685966502" stroke="#222" stroke-width="0.7"/>
<line x1="572.0999999999999" y1="601.5378192017207" x2="575.3" y2="601.5378192017207" stroke="#222" stroke-width="0.7"/>
<line x1="572.0999999999999" y1="599.5648664109252" x2="575.3" y2="599.5648664109252" stroke="#222" stroke-width="0.7"/>
<line x1="572.0999999999999" y1="663.3292730672401" x2="575.3" y2="663.3292730672401" stroke="#222" stroke-width="0.7"/>
<line x1="572.0999999999999" y1="656.5374332054625" x2="575.3" y2="656.5374332054625" stroke="#222" stroke-width="0.7"/>
<line x1="572.0999999999999" y1="651.7185461344804" x2="575.3" y2="651.7185461344804" stroke="#222" stroke-width="0.7"/>
<line x1="572.0999999999999" y1="647.9807269327597" x2="575.3" y2="647.9807269327597" stroke="#222" stroke-width="0.7"/>
<line x1="572.0999999999999" y1="644.9267062727029" x2="575.3" y2="644.9267062727029" stroke="#222" stroke-width="0.7"/>
<line x1="572.0999999999999" y1="642.3445685966501" x2="575.3" y2="642.3445685966501" stroke="#222" stroke-width="0.7"/>
<line x1="572.0999999999999" y1="640.1078192017206" x2="575.3" y2="640.1078192017206" stroke="#222" stroke-width="0.7"/>
<line x1="572.0999999999999" y1="638.1348664109252" x2="575.3" y2="638.1348664109252" stroke="#222" stroke-width="0.7"/>
<line x1="572.0999999999999" y1="701.8992730672402" x2="575.3" y2="701.8992730672402" stroke="#222" stroke-width="0.7"/>
<line x1="572.0999999999999" y1="695.1074332054626" x2="575.3" y2="695.1074332054626" stroke="#222" stroke-width="0.7"/>
<line x1="572.0999999999999" y1="690.2885461344805" x2="575.3" y2="690.2885461344805" stroke="#222" stroke-width="0.7"/>
<line x1="572.0999999999999" y1="686.5507269327597" x2="575.3" y2="686.5507269327597" stroke="#222" stroke-width="0.7"/>
<line x1="572.0999999999999" y1="683.4967062727029" x2="575.3" y2="683.4967062727029" stroke="#222" stroke-width="0.7"/>
<line x1="572.0999999999999" y1="680.9145685966502" x2="575.3" y2="680.9145685966502" stroke="#222" stroke-width="0.7"/>
<line x1="572.0999999999999" y1="678.6778192017207" x2="575.3" y2="678.6778192017207" stroke="#222" stroke-width="0.7"/>
<line x1="572.0999999999999" y1="676.7048664109252" x2="575.3" y2="676.7048664109252" stroke="#222" stroke-width="0.7"/>
<line x1="601.1" y1="713.51" x2="601.1" y2="717.51" stroke="#000" stroke-width="1.2"/>
<line x1="653.3" y1="713.51" x2="653.3" y2="717.51" stroke="#000" stroke-width="1.2"/>
<text x="604.7" y="727.81" font-size="11.4" text-anchor="end" transform="rotate(-45 604.7 727.81)">Ipsi-PC</text>
<text x="656.9" y="727.81" font-size="11.4" text-anchor="end" transform="rotate(-45 656.9 727.81)">Cont-PC</text>
<text x="543.3" y="654.4" font-size="11.1" text-anchor="middle" transform="rotate(-90 543.3 654.4)">HFO power [mV<tspan font-size="7.3" dy="-4.5">2</tspan><tspan dy="4.5">]</tspan></text>
<text x="616.6" y="617.2" font-size="21" letter-spacing="1.2">**</text>
<line x1="583.3" y1="642.3" x2="618.7" y2="642.3" stroke="#000" stroke-width="1.3"/>
<line x1="592.3" y1="639.4" x2="610" y2="639.4" stroke="#000" stroke-width="1.1"/>
<line x1="601.2" y1="639.4" x2="601.2" y2="645" stroke="#000" stroke-width="1.1"/>
<line x1="592.3" y1="645" x2="610" y2="645" stroke="#000" stroke-width="1.1"/>
<polygon points="590.6,624.7 593.0,628.8 588.2,628.8" fill="#000"/>
<polygon points="597.5,630.0 599.9,634.1 595.1,634.1" fill="#000"/>
<polygon points="604.4,627.1 606.8,631.2 602.0,631.2" fill="#000"/>
<polygon points="611.6,624.7 614.0,628.8 609.2,628.8" fill="#000"/>
<polygon points="586.7,642.4 589.1,646.5 584.3,646.5" fill="#000"/>
<polygon points="591.9,644.8 594.3,648.9 589.5,648.9" fill="#000"/>
<polygon points="595.9,646.1 598.3,650.2 593.5,650.2" fill="#000"/>
<polygon points="600.7,646.4 603.1,650.5 598.3,650.5" fill="#000"/>
<polygon points="605.5,645.6 607.9,649.7 603.1,649.7" fill="#000"/>
<polygon points="610.3,643.2 612.7,647.3 607.9,647.3" fill="#000"/>
<polygon points="615.1,641.6 617.5,645.7 612.7,645.7" fill="#000"/>
<polygon points="594.0,650.9 596.4,655.0 591.6,655.0" fill="#000"/>
<polygon points="600.7,656.0 603.1,660.1 598.3,660.1" fill="#000"/>
<polygon points="607.9,655.7 610.3,659.8 605.5,659.8" fill="#000"/>
<polygon points="600.7,674.5 603.1,678.6 598.3,678.6" fill="#000"/>
<polygon points="600.7,683.0 603.1,687.1 598.3,687.1" fill="#000"/>
<polygon points="653.2,644.9 655.5,648.8 650.9,648.8" fill="#fff" stroke="#333" stroke-width="0.8" stroke-linejoin="round"/>
<polygon points="656.9,648.9 659.2,652.8 654.6,652.8" fill="#fff" stroke="#333" stroke-width="0.8" stroke-linejoin="round"/>
<polygon points="649.6,652.9 651.9,656.8 647.3,656.8" fill="#fff" stroke="#333" stroke-width="0.8" stroke-linejoin="round"/>
<polygon points="643.2,658.2 645.5,662.1 640.9,662.1" fill="#fff" stroke="#333" stroke-width="0.8" stroke-linejoin="round"/>
<polygon points="663.8,659.7 666.1,663.6 661.5,663.6" fill="#fff" stroke="#333" stroke-width="0.8" stroke-linejoin="round"/>
<polygon points="650.4,662.6 652.7,666.5 648.1,666.5" fill="#fff" stroke="#333" stroke-width="0.8" stroke-linejoin="round"/>
<polygon points="656.9,662.9 659.2,666.8 654.6,666.8" fill="#fff" stroke="#333" stroke-width="0.8" stroke-linejoin="round"/>
<polygon points="639.2,668.2 641.5,672.1 636.9,672.1" fill="#fff" stroke="#333" stroke-width="0.8" stroke-linejoin="round"/>
<polygon points="646.1,669.0 648.4,672.9 643.8,672.9" fill="#fff" stroke="#333" stroke-width="0.8" stroke-linejoin="round"/>
<polygon points="660.5,669.8 662.8,673.7 658.2,673.7" fill="#fff" stroke="#333" stroke-width="0.8" stroke-linejoin="round"/>
<polygon points="667.3,669.0 669.6,672.9 665.0,672.9" fill="#fff" stroke="#333" stroke-width="0.8" stroke-linejoin="round"/>
<polygon points="653.2,673.0 655.5,676.9 650.9,676.9" fill="#fff" stroke="#333" stroke-width="0.8" stroke-linejoin="round"/>
<polygon points="660.5,678.3 662.8,682.2 658.2,682.2" fill="#fff" stroke="#333" stroke-width="0.8" stroke-linejoin="round"/>
<polygon points="646.4,681.8 648.7,685.7 644.1,685.7" fill="#fff" stroke="#333" stroke-width="0.8" stroke-linejoin="round"/>
<polygon points="653.3,683.9 655.6,687.8 651.0,687.8" fill="#fff" stroke="#333" stroke-width="0.8" stroke-linejoin="round"/>
<polygon points="653.2,696.6 655.5,700.5 650.9,700.5" fill="#fff" stroke="#333" stroke-width="0.8" stroke-linejoin="round"/>
<line x1="635.7" y1="664.8" x2="671" y2="664.8" stroke="#000" stroke-width="1.3"/>
<line x1="646.4" y1="662" x2="662.5" y2="662" stroke="#000" stroke-width="1.1"/>
<line x1="646.4" y1="668" x2="662.5" y2="668" stroke="#000" stroke-width="1.1"/>
<line x1="653.3" y1="662" x2="653.3" y2="668" stroke="#000" stroke-width="1.1"/>
<text x="68.9" y="804.6" font-size="22.9">Ipsilateral OB-PC</text>
<line x1="55.2" y1="839.3" x2="55.2" y2="977.2" stroke="#222" stroke-width="1.4"/>
<line x1="54.5" y1="976.5" x2="261.4" y2="976.5" stroke="#222" stroke-width="1.4"/>
<line x1="52" y1="860.3" x2="55.2" y2="860.3" stroke="#222" stroke-width="1"/>
<text x="47.8" y="864.8" font-size="12.3" text-anchor="end">2</text>
<line x1="52" y1="884.9" x2="55.2" y2="884.9" stroke="#222" stroke-width="1"/>
<text x="47.8" y="889.4" font-size="12.3" text-anchor="end">1</text>
<line x1="52" y1="909.5" x2="55.2" y2="909.5" stroke="#222" stroke-width="1"/>
<text x="47.8" y="914.0" font-size="12.3" text-anchor="end">0</text>
<line x1="52" y1="934.1" x2="55.2" y2="934.1" stroke="#222" stroke-width="1"/>
<text x="47.8" y="938.6" font-size="12.3" text-anchor="end">-1</text>
<line x1="52" y1="958.7" x2="55.2" y2="958.7" stroke="#222" stroke-width="1"/>
<text x="47.8" y="963.2" font-size="12.3" text-anchor="end">-2</text>
<line x1="64.4" y1="976.5" x2="64.4" y2="980" stroke="#222" stroke-width="1"/>
<line x1="87.80000000000001" y1="976.5" x2="87.80000000000001" y2="980" stroke="#222" stroke-width="1"/>
<line x1="111.2" y1="976.5" x2="111.2" y2="980" stroke="#222" stroke-width="1"/>
<line x1="134.6" y1="976.5" x2="134.6" y2="980" stroke="#222" stroke-width="1"/>
<line x1="158.0" y1="976.5" x2="158.0" y2="980" stroke="#222" stroke-width="1"/>
<line x1="181.4" y1="976.5" x2="181.4" y2="980" stroke="#222" stroke-width="1"/>
<line x1="204.8" y1="976.5" x2="204.8" y2="980" stroke="#222" stroke-width="1"/>
<line x1="228.2" y1="976.5" x2="228.2" y2="980" stroke="#222" stroke-width="1"/>
<line x1="251.6" y1="976.5" x2="251.6" y2="980" stroke="#222" stroke-width="1"/>
<text x="64.10000000000001" y="995.3" font-size="12.3" text-anchor="middle">-40</text>
<text x="110.9" y="995.3" font-size="12.3" text-anchor="middle">-20</text>
<text x="158.0" y="995.3" font-size="12.3" text-anchor="middle">0</text>
<text x="204.8" y="995.3" font-size="12.3" text-anchor="middle">20</text>
<text x="251.6" y="995.3" font-size="12.3" text-anchor="middle">40</text>
<text x="160.6" y="1014.3" font-size="13.2" text-anchor="middle" letter-spacing="2.2">ms</text>
<text x="25.7" y="909" font-size="11.3" text-anchor="middle" transform="rotate(-90 25.7 909)" letter-spacing="0.5">Z-score HFO envelope</text>
<path d="M64.4 917.1L64.8 916.8L65.2 916.4L65.5 915.8L65.9 915.1L66.3 914.2L66.7 913.1L67.0 912.0L67.4 910.8L67.8 909.6L68.2 908.3L68.5 907.1L68.9 905.9L69.3 904.9L69.7 903.9L70.0 903.1L70.4 902.4L70.8 902.0L71.2 901.7L71.5 901.7L71.9 901.8L72.3 902.1L72.7 902.7L73.0 903.4L73.4 904.3L73.8 905.3L74.2 906.5L74.5 907.7L74.9 909.0L75.3 910.3L75.7 911.6L76.0 912.9L76.4 914.0L76.8 915.1L77.2 916.0L77.5 916.8L77.9 917.4L78.3 917.7L78.7 917.9L79.0 917.8L79.4 917.5L79.8 917.0L80.2 916.3L80.5 915.5L80.9 914.4L81.3 913.2L81.7 911.9L82.0 910.5L82.4 909.1L82.8 907.7L83.2 906.3L83.5 904.9L83.9 903.7L84.3 902.6L84.7 901.7L85.0 901.0L85.4 900.4L85.8 900.2L86.2 900.1L86.5 900.3L86.9 900.8L87.3 901.5L87.7 902.4L88.0 903.5L88.4 904.8L88.8 906.2L89.2 907.8L89.5 909.4L89.9 911.1L90.3 912.7L90.7 914.3L91.0 915.8L91.4 917.2L91.8 918.3L92.2 919.3L92.5 920.0L92.9 920.5L93.3 920.7L93.7 920.6L94.0 920.1L94.4 919.4L94.8 918.5L95.2 917.2L95.5 915.7L95.9 914.1L96.3 912.2L96.7 910.3L97.0 908.3L97.4 906.2L97.8 904.2L98.2 902.3L98.5 900.6L98.9 899.0L99.3 897.7L99.7 896.6L100.0 895.9L100.4 895.5L100.8 895.5L101.2 895.9L101.5 896.6L101.9 897.7L102.3 899.1L102.7 900.9L103.0 902.9L103.4 905.2L103.8 907.6L104.2 910.2L104.5 912.8L104.9 915.4L105.3 918.0L105.7 920.3L106.0 922.5L106.4 924.3L106.8 925.8L107.2 926.9L107.5 927.6L107.9 927.8L108.3 927.5L108.7 926.8L109.0 925.5L109.4 923.8L109.8 921.6L110.2 919.1L110.5 916.2L110.9 913.0L111.3 909.7L111.7 906.3L112.0 902.8L112.4 899.5L112.8 896.3L113.2 893.3L113.5 890.7L113.9 888.6L114.3 886.9L114.7 885.8L115.0 885.3L115.4 885.5L115.8 886.3L116.2 887.8L116.5 889.8L116.9 892.5L117.3 895.7L117.7 899.4L118.0 903.4L118.4 907.7L118.8 912.2L119.2 916.8L119.5 921.2L119.9 925.5L120.3 929.5L120.7 933.0L121.0 936.0L121.4 938.3L121.8 940.0L122.2 940.9L122.5 940.9L122.9 940.1L123.3 938.5L123.7 936.0L124.0 932.8L124.4 928.8L124.8 924.2L125.2 919.2L125.5 913.7L125.9 908.0L126.3 902.2L126.7 896.4L127.1 890.8L127.4 885.7L127.8 881.0L128.2 877.0L128.6 873.8L128.9 871.5L129.3 870.1L129.7 869.8L130.1 870.5L130.4 872.3L130.8 875.1L131.2 878.9L131.6 883.6L131.9 889.1L132.3 895.3L132.7 902.0L133.1 909.0L133.4 916.2L133.8 923.3L134.2 930.2L134.6 936.7L134.9 942.5L135.3 947.6L135.7 951.8L136.1 954.9L136.4 956.8L136.8 957.5L137.2 957.0L137.6 955.1L137.9 952.0L138.3 947.8L138.7 942.4L139.1 936.0L139.4 928.9L139.8 921.1L140.2 912.9L140.6 904.5L140.9 896.1L141.3 887.9L141.7 880.2L142.1 873.2L142.4 867.1L142.8 862.0L143.2 858.1L143.6 855.5L143.9 854.4L144.3 854.7L144.7 856.5L145.1 859.7L145.4 864.2L145.8 870.1L146.2 877.0L146.6 884.8L146.9 893.4L147.3 902.5L147.7 911.9L148.1 921.3L148.4 930.5L148.8 939.1L149.2 947.1L149.6 954.1L149.9 959.9L150.3 964.5L150.7 967.6L151.1 969.2L151.4 969.3L151.8 967.7L152.2 964.6L152.6 960.0L152.9 954.0L153.3 946.9L153.7 938.7L154.1 929.7L154.4 920.2L154.8 910.3L155.2 900.4L155.6 890.7L155.9 881.5L156.3 873.0L156.7 865.4L157.1 859.1L157.4 854.0L157.8 850.5L158.2 848.5L158.6 848.1L158.9 849.3L159.3 852.1L159.7 856.5L160.1 862.2L160.4 869.2L160.8 877.2L161.2 886.1L161.6 895.6L161.9 905.4L162.3 915.3L162.7 925.0L163.1 934.2L163.4 942.8L163.8 950.4L164.2 956.9L164.6 962.2L164.9 966.0L165.3 968.3L165.7 969.0L166.1 968.2L166.4 965.8L166.8 961.9L167.2 956.7L167.6 950.3L167.9 942.8L168.3 934.6L168.7 925.7L169.1 916.5L169.4 907.2L169.8 898.0L170.2 889.3L170.6 881.1L170.9 873.8L171.3 867.5L171.7 862.4L172.1 858.6L172.4 856.2L172.8 855.2L173.2 855.6L173.6 857.5L173.9 860.7L174.3 865.1L174.7 870.7L175.1 877.2L175.4 884.5L175.8 892.3L176.2 900.5L176.6 908.8L176.9 917.0L177.3 924.8L177.7 932.1L178.1 938.8L178.4 944.5L178.8 949.2L179.2 952.8L179.6 955.2L179.9 956.4L180.3 956.3L180.7 955.0L181.1 952.5L181.4 948.9L181.8 944.3L182.2 938.9L182.6 932.9L182.9 926.3L183.3 919.5L183.7 912.5L184.1 905.5L184.4 898.8L184.8 892.6L185.2 886.9L185.6 881.9L185.9 877.7L186.3 874.5L186.7 872.3L187.1 871.1L187.4 870.9L187.8 871.7L188.2 873.6L188.6 876.3L188.9 879.8L189.3 884.1L189.7 888.8L190.1 894.1L190.5 899.6L190.8 905.2L191.2 910.8L191.6 916.3L192.0 921.4L192.3 926.1L192.7 930.2L193.1 933.7L193.5 936.5L193.8 938.5L194.2 939.6L194.6 940.0L195.0 939.5L195.3 938.3L195.7 936.3L196.1 933.7L196.5 930.5L196.8 926.9L197.2 922.9L197.6 918.7L198.0 914.3L198.3 909.9L198.7 905.7L199.1 901.6L199.5 897.9L199.8 894.6L200.2 891.7L200.6 889.4L201.0 887.7L201.3 886.6L201.7 886.2L202.1 886.4L202.5 887.1L202.8 888.5L203.2 890.3L203.6 892.6L204.0 895.3L204.3 898.3L204.7 901.4L205.1 904.7L205.5 908.1L205.8 911.3L206.2 914.5L206.6 917.4L207.0 920.0L207.3 922.3L207.7 924.2L208.1 925.6L208.5 926.6L208.8 927.1L209.2 927.1L209.6 926.7L210.0 925.8L210.3 924.6L210.7 922.9L211.1 921.0L211.5 918.8L211.8 916.5L212.2 914.0L212.6 911.4L213.0 908.9L213.3 906.5L213.7 904.2L214.1 902.1L214.5 900.3L214.8 898.7L215.2 897.5L215.6 896.6L216.0 896.1L216.3 895.9L216.7 896.1L217.1 896.6L217.5 897.5L217.8 898.6L218.2 900.1L218.6 901.7L219.0 903.5L219.3 905.4L219.7 907.3L220.1 909.3L220.5 911.2L220.8 913.1L221.2 914.8L221.6 916.3L222.0 917.7L222.3 918.7L222.7 919.6L223.1 920.1L223.5 920.4L223.8 920.3L224.2 920.0L224.6 919.4L225.0 918.6L225.3 917.6L225.7 916.3L226.1 914.9L226.5 913.4L226.8 911.8L227.2 910.2L227.6 908.6L228.0 907.0L228.3 905.6L228.7 904.2L229.1 903.0L229.5 902.0L229.8 901.2L230.2 900.7L230.6 900.4L231.0 900.3L231.3 900.4L231.7 900.8L232.1 901.4L232.5 902.2L232.8 903.2L233.2 904.4L233.6 905.7L234.0 907.0L234.3 908.4L234.7 909.8L235.1 911.2L235.5 912.5L235.8 913.8L236.2 914.9L236.6 915.8L237.0 916.6L237.3 917.2L237.7 917.6L238.1 917.8L238.5 917.7L238.8 917.5L239.2 917.0L239.6 916.3L240.0 915.5L240.3 914.5L240.7 913.4L241.1 912.2L241.5 910.9L241.8 909.6L242.2 908.4L242.6 907.1L243.0 905.9L243.3 904.8L243.7 903.9L244.1 903.1L244.5 902.4L244.8 902.0L245.2 901.7L245.6 901.7L246.0 901.9L246.3 902.2L246.7 902.8L247.1 903.5L247.5 904.4L247.8 905.4L248.2 906.5L248.6 907.7L249.0 908.9L249.3 910.2L249.7 911.4L250.1 912.6L250.5 913.7L250.8 914.6L251.2 915.5L251.6 916.1" fill="none" stroke="#111" stroke-width="0.7"/>
<path d="M64.4 915.3L64.8 916.0L65.2 916.6L65.5 916.9L65.9 917.1L66.3 917.1L66.7 916.9L67.0 916.5L67.4 915.9L67.8 915.1L68.2 914.2L68.5 913.2L68.9 912.0L69.3 910.8L69.7 909.5L70.0 908.3L70.4 907.1L70.8 905.9L71.2 904.8L71.5 903.8L71.9 903.0L72.3 902.4L72.7 901.9L73.0 901.6L73.4 901.6L73.8 901.7L74.2 902.0L74.5 902.6L74.9 903.3L75.3 904.2L75.7 905.3L76.0 906.4L76.4 907.7L76.8 909.0L77.2 910.3L77.5 911.7L77.9 912.9L78.3 914.1L78.7 915.2L79.0 916.2L79.4 916.9L79.8 917.5L80.2 917.9L80.5 918.1L80.9 918.0L81.3 917.7L81.7 917.2L82.0 916.5L82.4 915.6L82.8 914.5L83.2 913.3L83.5 912.0L83.9 910.5L84.3 909.1L84.7 907.6L85.0 906.1L85.4 904.8L85.8 903.5L86.2 902.4L86.5 901.4L86.9 900.6L87.3 900.1L87.7 899.8L88.0 899.7L88.4 900.0L88.8 900.4L89.2 901.1L89.5 902.1L89.9 903.2L90.3 904.6L90.7 906.1L91.0 907.7L91.4 909.4L91.8 911.2L92.2 912.9L92.5 914.6L92.9 916.1L93.3 917.6L93.7 918.8L94.0 919.8L94.4 920.6L94.8 921.1L95.2 921.3L95.5 921.2L95.9 920.8L96.3 920.0L96.7 919.0L97.0 917.7L97.4 916.1L97.8 914.3L98.2 912.4L98.5 910.3L98.9 908.2L99.3 906.0L99.7 903.9L100.0 901.8L100.4 900.0L100.8 898.3L101.2 896.9L101.5 895.7L101.9 895.0L102.3 894.6L102.7 894.5L103.0 894.9L103.4 895.7L103.8 896.9L104.2 898.4L104.5 900.3L104.9 902.5L105.3 904.9L105.7 907.5L106.0 910.3L106.4 913.1L106.8 915.9L107.2 918.6L107.5 921.1L107.9 923.4L108.3 925.4L108.7 927.0L109.0 928.2L109.4 929.0L109.8 929.2L110.2 928.9L110.5 928.0L110.9 926.7L111.3 924.8L111.7 922.5L112.0 919.8L112.4 916.7L112.8 913.3L113.2 909.7L113.5 906.0L113.9 902.3L114.3 898.7L114.7 895.2L115.0 892.1L115.4 889.3L115.8 887.0L116.2 885.3L116.5 884.1L116.9 883.6L117.3 883.8L117.7 884.6L118.0 886.2L118.4 888.4L118.8 891.3L119.2 894.8L119.5 898.7L119.9 903.0L120.3 907.7L120.7 912.5L121.0 917.3L121.4 922.1L121.8 926.6L122.2 930.9L122.5 934.6L122.9 937.8L123.3 940.3L123.7 942.0L124.0 942.9L124.4 943.0L124.8 942.1L125.2 940.3L125.5 937.7L125.9 934.2L126.3 930.0L126.7 925.1L127.1 919.7L127.4 913.9L127.8 907.8L128.2 901.6L128.6 895.5L128.9 889.7L129.3 884.2L129.7 879.3L130.1 875.1L130.4 871.7L130.8 869.3L131.2 867.9L131.6 867.6L131.9 868.4L132.3 870.3L132.7 873.3L133.1 877.4L133.4 882.4L133.8 888.2L134.2 894.7L134.6 901.7L134.9 909.0L135.3 916.6L135.7 924.0L136.1 931.2L136.4 938.0L136.8 944.1L137.2 949.4L137.6 953.7L137.9 956.9L138.3 958.9L138.7 959.5L139.1 958.9L139.4 956.9L139.8 953.7L140.2 949.2L140.6 943.6L140.9 937.0L141.3 929.5L141.7 921.4L142.1 912.9L142.4 904.2L142.8 895.6L143.2 887.1L143.6 879.2L143.9 872.0L144.3 865.7L144.7 860.5L145.1 856.6L145.4 854.0L145.8 852.9L146.2 853.2L146.6 855.1L146.9 858.5L147.3 863.2L147.7 869.2L148.1 876.3L148.4 884.4L148.8 893.2L149.2 902.5L149.6 912.1L149.9 921.6L150.3 930.9L150.7 939.7L151.1 947.8L151.4 954.8L151.8 960.7L152.2 965.3L152.6 968.4L152.9 970.0L153.3 970.0L153.7 968.3L154.1 965.1L154.4 960.4L154.8 954.4L155.2 947.1L155.6 938.8L155.9 929.7L156.3 920.1L156.7 910.2L157.1 900.2L157.4 890.5L157.8 881.3L158.2 872.8L158.6 865.3L158.9 859.0L159.3 854.0L159.7 850.5L160.1 848.6L160.4 848.3L160.8 849.6L161.2 852.4L161.6 856.8L161.9 862.6L162.3 869.6L162.7 877.6L163.1 886.4L163.4 895.8L163.8 905.5L164.2 915.3L164.6 924.9L164.9 934.0L165.3 942.4L165.7 949.9L166.1 956.3L166.4 961.4L166.8 965.1L167.2 967.3L167.6 967.9L167.9 967.1L168.3 964.7L168.7 960.8L169.1 955.7L169.4 949.3L169.8 942.0L170.2 933.9L170.6 925.2L170.9 916.2L171.3 907.2L171.7 898.2L172.1 889.7L172.4 881.8L172.8 874.8L173.2 868.7L173.6 863.8L173.9 860.1L174.3 857.8L174.7 856.9L175.1 857.4L175.4 859.2L175.8 862.4L176.2 866.7L176.6 872.1L176.9 878.4L177.3 885.5L177.7 893.0L178.1 900.9L178.4 908.9L178.8 916.7L179.2 924.3L179.6 931.3L179.9 937.6L180.3 943.1L180.7 947.6L181.1 951.0L181.4 953.2L181.8 954.3L182.2 954.2L182.6 952.9L182.9 950.4L183.3 947.0L183.7 942.6L184.1 937.5L184.4 931.7L184.8 925.4L185.2 918.9L185.6 912.2L185.9 905.7L186.3 899.3L186.7 893.4L187.1 888.0L187.4 883.3L187.8 879.4L188.2 876.4L188.6 874.3L188.9 873.2L189.3 873.1L189.7 873.9L190.1 875.6L190.5 878.2L190.8 881.6L191.2 885.6L191.6 890.1L192.0 895.0L192.3 900.2L192.7 905.5L193.1 910.8L193.5 915.9L193.8 920.7L194.2 925.1L194.6 929.0L195.0 932.2L195.3 934.8L195.7 936.6L196.1 937.7L196.5 938.0L196.8 937.6L197.2 936.4L197.6 934.5L198.0 932.1L198.3 929.1L198.7 925.7L199.1 922.0L199.5 918.0L199.8 913.9L200.2 909.9L200.6 905.9L201.0 902.1L201.3 898.6L201.7 895.5L202.1 892.9L202.5 890.8L202.8 889.2L203.2 888.2L203.6 887.8L204.0 888.0L204.3 888.7L204.7 889.9L205.1 891.7L205.5 893.8L205.8 896.3L206.2 899.1L206.6 902.0L207.0 905.1L207.3 908.2L207.7 911.2L208.1 914.2L208.5 916.9L208.8 919.3L209.2 921.4L209.6 923.2L210.0 924.5L210.3 925.4L210.7 925.9L211.1 925.9L211.5 925.5L211.8 924.7L212.2 923.5L212.6 922.0L213.0 920.2L213.3 918.2L213.7 916.0L214.1 913.7L214.5 911.3L214.8 908.9L215.2 906.7L215.6 904.5L216.0 902.6L216.3 900.8L216.7 899.4L217.1 898.2L217.5 897.4L217.8 896.9L218.2 896.7L218.6 896.9L219.0 897.4L219.3 898.2L219.7 899.3L220.1 900.6L220.5 902.1L220.8 903.8L221.2 905.6L221.6 907.5L222.0 909.3L222.3 911.2L222.7 912.9L223.1 914.5L223.5 916.0L223.8 917.3L224.2 918.3L224.6 919.1L225.0 919.6L225.3 919.9L225.7 919.8L226.1 919.5L226.5 919.0L226.8 918.2L227.2 917.2L227.6 916.0L228.0 914.7L228.3 913.2L228.7 911.7L229.1 910.2L229.5 908.6L229.8 907.1L230.2 905.7L230.6 904.4L231.0 903.3L231.3 902.3L231.7 901.5L232.1 901.0L232.5 900.7L232.8 900.6L233.2 900.7L233.6 901.1L234.0 901.7L234.3 902.5L234.7 903.4L235.1 904.5L235.5 905.8L235.8 907.1L236.2 908.4L236.6 909.8L237.0 911.2L237.3 912.5L237.7 913.7L238.1 914.8L238.5 915.7L238.8 916.5L239.2 917.1L239.6 917.5L240.0 917.6L240.3 917.6L240.7 917.3L241.1 916.9L241.5 916.2L241.8 915.4L242.2 914.4L242.6 913.3L243.0 912.2L243.3 910.9L243.7 909.6L244.1 908.4L244.5 907.1L244.8 905.9L245.2 904.9L245.6 903.9L246.0 903.1L246.3 902.5L246.7 902.1L247.1 901.8L247.5 901.8L247.8 901.9L248.2 902.3L248.6 902.9L249.0 903.6L249.3 904.4L249.7 905.4L250.1 906.6L250.5 907.7L250.8 909.0L251.2 910.2L251.6 911.4" fill="none" stroke="#444" stroke-width="0.65"/>
<path d="M63.4 905.4C64.1 905.1 64.4 904.2 67.4 903.4C70.5 902.5 76.9 901.6 81.7 900.3C86.5 899.0 91.0 898.0 96.0 895.6C101.0 893.2 106.6 889.8 111.4 886.0C116.2 882.2 120.4 877.1 124.7 872.7C129.0 868.3 133.3 863.2 137.0 859.4C140.7 855.6 143.6 852.4 147.0 850.0C150.4 847.6 154.5 845.7 157.7 845.3C160.9 844.9 163.1 846.1 166.0 847.5C168.9 848.9 171.4 850.3 175.2 853.8C179.0 857.3 184.4 863.6 188.6 868.6C192.8 873.6 197.0 879.9 200.4 883.7C203.8 887.5 205.5 888.8 208.8 891.2C212.2 893.6 216.3 896.4 220.5 898.0C224.7 899.6 230.0 900.3 233.9 901.0C237.8 901.7 241.3 901.6 244.0 902.1C246.7 902.6 248.6 903.3 250.0 904.0C251.4 904.7 252.0 905.9 252.4 906.3" fill="none" stroke="#000" stroke-width="3.8" stroke-linejoin="round"/>
<path d="M64.4 895.2C64.4 896.6 63.7 902.1 64.6 903.5C65.4 904.9 66.7 903.8 69.5 903.4C72.3 903.0 77.3 902.2 81.7 901.3C86.1 900.4 91.0 899.9 96.0 898.2C101.0 896.5 106.6 894.2 111.4 891.1C116.2 888.0 120.4 884.2 124.7 879.9C129.0 875.6 132.8 870.2 137.0 865.5C141.2 860.8 145.6 854.6 150.0 851.5C154.4 848.4 159.1 846.2 163.6 846.8C168.1 847.4 172.7 851.8 176.9 855.1C181.1 858.5 184.7 862.7 188.6 866.9C192.5 871.1 196.8 876.4 200.4 880.3C204.0 884.2 207.1 887.7 210.4 890.4C213.8 893.1 216.6 894.8 220.5 896.3C224.4 897.8 229.4 898.9 233.9 899.6C238.4 900.3 244.5 900.4 247.4 900.5C250.3 900.6 250.9 901.6 251.6 900.5C252.3 899.4 251.8 894.9 251.8 893.8" fill="none" stroke="#999" stroke-width="4.2" stroke-linejoin="round"/>
<line x1="220" y1="829.5" x2="232.8" y2="829.5" stroke="#000" stroke-width="1.6"/>
<text x="238" y="832.0" font-size="7" font-weight="normal" fill="#222">OB Envelope</text>
<line x1="220" y1="838.8" x2="232.8" y2="838.8" stroke="#444" stroke-width="0.8"/>
<text x="238" y="841.3" font-size="7" font-weight="normal" fill="#222">OB</text>
<line x1="220" y1="848.1" x2="232.8" y2="848.1" stroke="#999" stroke-width="2.0"/>
<text x="238" y="850.6" font-size="7" font-weight="normal" fill="#222">PC Envelope</text>
<line x1="220" y1="857.4" x2="232.8" y2="857.4" stroke="#aaa" stroke-width="0.8"/>
<text x="238" y="859.9" font-size="7" font-weight="normal" fill="#222">PC</text>
<line x1="352" y1="841.3" x2="352" y2="978.6" stroke="#222" stroke-width="1.4"/>
<line x1="351.3" y1="978" x2="557.5" y2="978" stroke="#222" stroke-width="1.4"/>
<line x1="348" y1="978.0" x2="352" y2="978.0" stroke="#222" stroke-width="1.2"/>
<text x="346.3" y="982.4" font-size="12.3" text-anchor="end">0</text>
<line x1="348" y1="932.5" x2="352" y2="932.5" stroke="#222" stroke-width="1.2"/>
<text x="346.3" y="936.9" font-size="12.3" text-anchor="end">1</text>
<line x1="348" y1="887.0" x2="352" y2="887.0" stroke="#222" stroke-width="1.2"/>
<text x="346.3" y="891.4" font-size="12.3" text-anchor="end">2</text>
<line x1="348" y1="841.5" x2="352" y2="841.5" stroke="#222" stroke-width="1.2"/>
<text x="346.3" y="845.9" font-size="12.3" text-anchor="end">3</text>
<line x1="386.0" y1="978" x2="386.0" y2="982" stroke="#222" stroke-width="1.2"/>
<text x="385.7" y="995.6" font-size="12.3" text-anchor="middle">-100</text>
<line x1="454.7" y1="978" x2="454.7" y2="982" stroke="#222" stroke-width="1.2"/>
<text x="454.7" y="995.6" font-size="12.3" text-anchor="middle">0</text>
<line x1="523.4" y1="978" x2="523.4" y2="982" stroke="#222" stroke-width="1.2"/>
<text x="523.4" y="995.6" font-size="12.3" text-anchor="middle">100</text>
<text x="454.3" y="1014.3" font-size="14.8" text-anchor="middle">ms</text>
<text x="325.0" y="909.5" font-size="12.9" text-anchor="middle" transform="rotate(-90 325.0 909.5)">Z-score HFO envelope</text>
<line x1="454.7" y1="841" x2="454.7" y2="977.5" stroke="#222" stroke-width="1" stroke-dasharray="2 2"/>
<path d="M351.6 955.2C354.5 954.5 363.1 952.9 368.8 950.7C374.6 948.5 380.3 946.7 386.0 942.1C391.7 937.4 397.4 930.0 403.2 922.9C408.9 915.9 414.6 907.5 420.3 899.7C426.1 892.0 431.8 882.2 437.5 876.5C443.2 870.8 449.7 866.9 454.7 865.6C459.7 864.3 462.9 865.8 467.5 868.8C472.0 871.8 477.5 878.2 482.1 883.4C486.7 888.5 490.4 893.7 495.0 899.7C499.6 905.8 505.3 914.0 509.6 919.8C513.9 925.5 516.9 930.1 520.6 934.3C524.2 938.6 527.9 942.4 531.6 945.2C535.2 948.1 538.3 950.1 542.6 951.6C546.8 953.1 554.8 953.9 557.3 954.3" fill="none" stroke="#000" stroke-width="5" stroke-linecap="round"/>
<path d="M351.6 952.5C354.5 951.5 363.1 948.9 368.8 946.1C374.6 943.4 380.3 940.2 386.0 936.1C391.7 932.0 397.4 926.9 403.2 921.6C408.9 916.3 414.6 910.6 420.3 904.3C426.1 898.0 431.8 889.5 437.5 883.8C443.2 878.1 449.4 871.8 454.7 870.2C460.0 868.5 464.8 871.9 469.3 873.8C473.9 875.7 477.8 878.1 482.1 881.5C486.4 885.0 490.4 889.4 495.0 894.3C499.6 899.1 504.7 905.2 509.6 910.7C514.5 916.1 519.7 922.5 524.3 927.0C528.9 931.6 532.8 935.1 537.1 938.0C541.3 940.8 546.5 942.8 549.8 944.3C553.2 945.8 556.0 946.6 557.3 947.1" fill="none" stroke="#999" stroke-width="4.6" stroke-linecap="round"/>
<circle cx="369.6" cy="844.6" r="2.5" fill="#000"/>
<circle cx="369.6" cy="860.6" r="2.5" fill="#999"/>
<text x="385.3" y="848.4" font-size="11.5" font-weight="normal" fill="#222">OB</text>
<text x="385.3" y="864.4" font-size="11.5" font-weight="normal" fill="#222">PC</text>
<line x1="613.8" y1="840.2" x2="613.8" y2="978" stroke="#222" stroke-width="1.3"/>
<line x1="613.2" y1="977.4" x2="676.8" y2="977.4" stroke="#222" stroke-width="1.3"/>
<line x1="610" y1="841.0" x2="613.8" y2="841.0" stroke="#222" stroke-width="1.1"/>
<text x="608.4" y="844.6" font-size="10" text-anchor="end">4</text>
<line x1="610" y1="875.1999999999999" x2="613.8" y2="875.1999999999999" stroke="#222" stroke-width="1.1"/>
<text x="608.4" y="878.8" font-size="10" text-anchor="end">2</text>
<line x1="610" y1="909.4" x2="613.8" y2="909.4" stroke="#222" stroke-width="1.1"/>
<text x="608.4" y="913.0" font-size="10" text-anchor="end">0</text>
<line x1="610" y1="943.6" x2="613.8" y2="943.6" stroke="#222" stroke-width="1.1"/>
<text x="608.4" y="947.2" font-size="10" text-anchor="end">-2</text>
<line x1="610" y1="977.8" x2="613.8" y2="977.8" stroke="#222" stroke-width="1.1"/>
<text x="608.4" y="981.4" font-size="10" text-anchor="end">-4</text>
<text x="587.2" y="908" font-size="12.6" text-anchor="middle" transform="rotate(-90 587.2 908)" letter-spacing="0.25">OB-PC delay [ms]</text>
<circle cx="641.2" cy="851" r="2.6" fill="#000"/>
<circle cx="649.4" cy="854.3" r="2.6" fill="#000"/>
<circle cx="633" cy="864.7" r="2.6" fill="#000"/>
<circle cx="658.2" cy="864.7" r="2.6" fill="#000"/>
<circle cx="649.4" cy="868" r="2.6" fill="#000"/>
<circle cx="641.2" cy="871.6" r="2.6" fill="#000"/>
<circle cx="641.2" cy="878.4" r="2.6" fill="#000"/>
<circle cx="649.4" cy="885.1" r="2.6" fill="#000"/>
<circle cx="645.4" cy="899" r="2.6" fill="#000"/>
<circle cx="641.2" cy="905.7" r="2.6" fill="#000"/>
<circle cx="649.4" cy="913" r="2.6" fill="#000"/>
<circle cx="649.4" cy="960.8" r="2.6" fill="#000"/>
<circle cx="641.2" cy="967.8" r="2.6" fill="#000"/>
<line x1="624.2" y1="890.8" x2="666.8" y2="890.8" stroke="#222" stroke-width="1.3"/>
<line x1="634.8" y1="880.5" x2="656.4" y2="880.5" stroke="#222" stroke-width="1.3"/>
<line x1="634.8" y1="901.5" x2="656.4" y2="901.5" stroke="#222" stroke-width="1.3"/>
<line x1="645.4" y1="880.5" x2="645.4" y2="901.5" stroke="#222" stroke-width="1.3"/>
</svg></body></html>
